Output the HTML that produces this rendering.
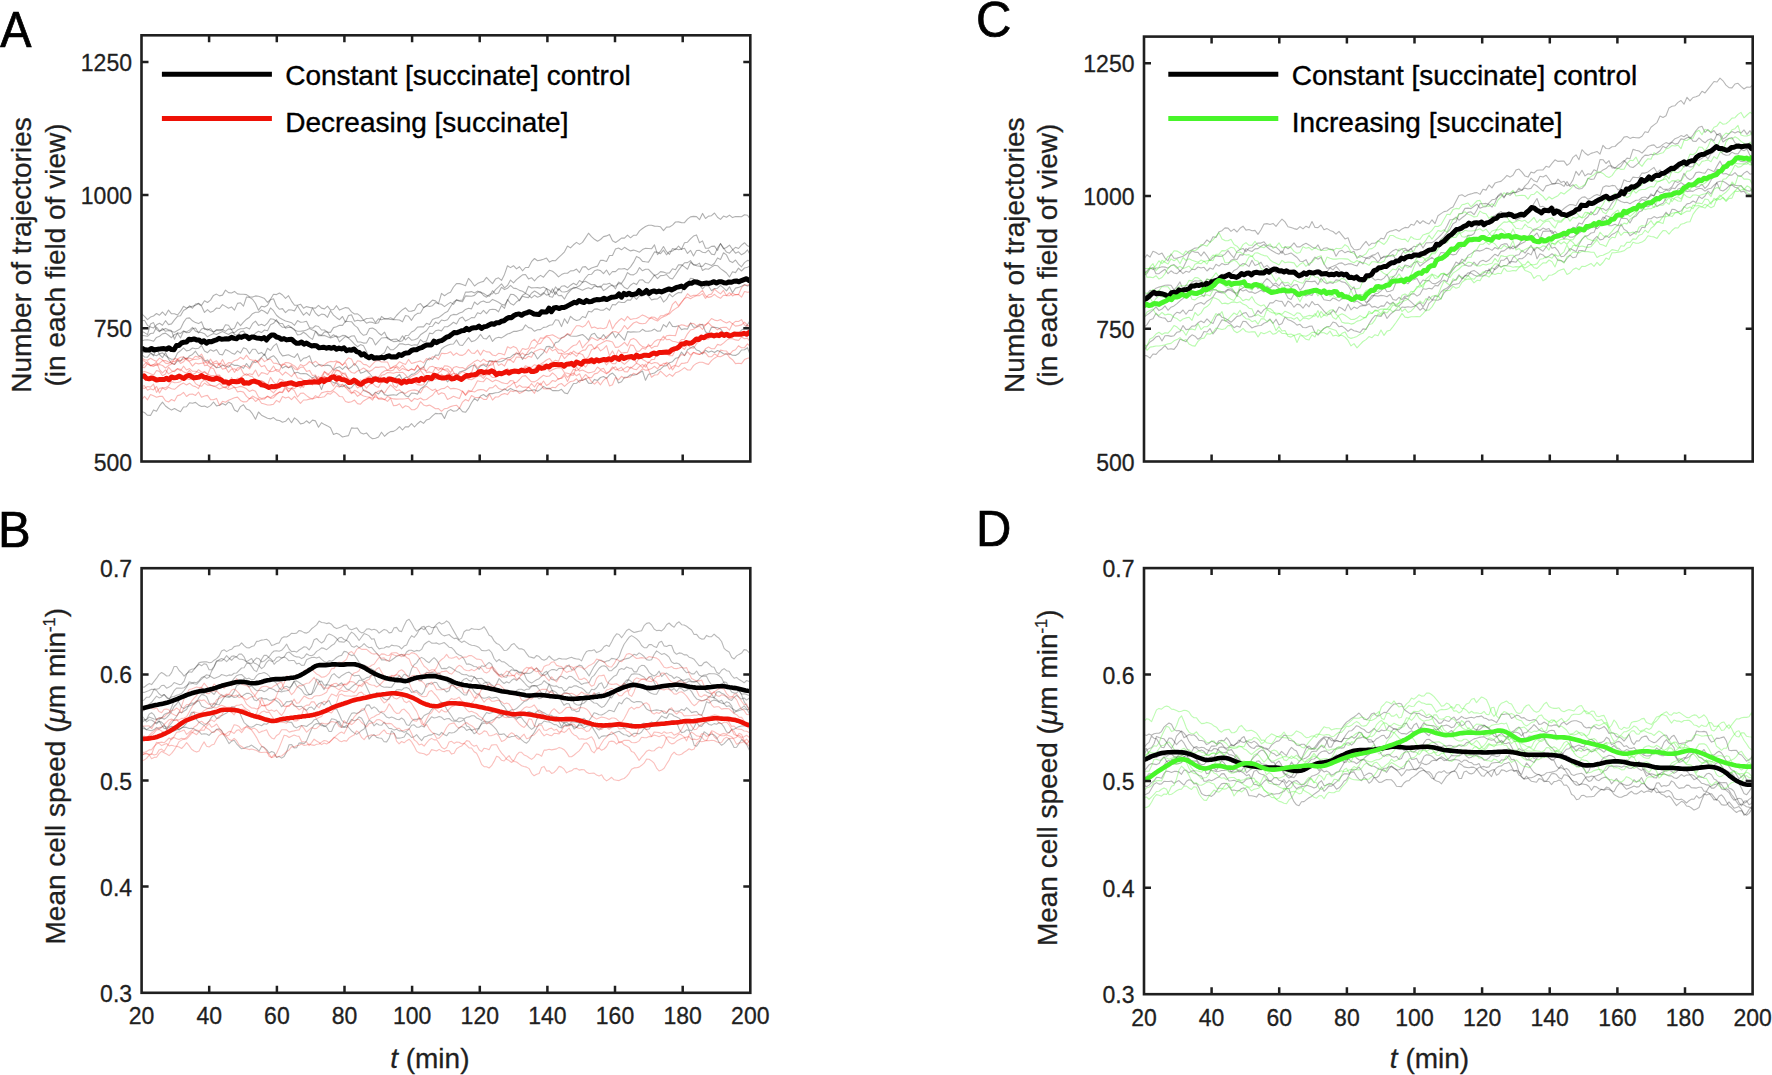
<!DOCTYPE html><html><head><meta charset="utf-8"><title>Figure</title><style>html,body{margin:0;padding:0;background:#fff;overflow:hidden;width:1772px;height:1075px;}svg{display:block;}</style></head><body>
<svg width="1772" height="1075" viewBox="0 0 1772 1075" font-family="'Liberation Sans', Arial, Helvetica, sans-serif"><style>.t{stroke:#1f1f1f;stroke-width:0.3px;}</style>
<rect width="1772" height="1075" fill="#fff"/>
<defs>
<clipPath id="clipA"><rect x="141.5" y="35.3" width="608.8" height="426.2"/></clipPath>
<clipPath id="clipB"><rect x="141.6" y="568.2" width="608.7" height="424.6"/></clipPath>
<clipPath id="clipC"><rect x="1144" y="36.6" width="608.7" height="424.9"/></clipPath>
<clipPath id="clipD"><rect x="1144" y="568.1" width="608.6" height="426.1"/></clipPath>
</defs>
<g clip-path="url(#clipA)">
<path d="M141.5 313.7L144.5 316.3L147.5 319.7L150.5 317.1L153.5 316L156.5 313.5L159.5 315.2L162.5 312L165.5 315.3L168.5 310.1L171.5 313.8L174.5 313.7L177.5 315L180.5 311.4L183.5 306.3L186.5 308.1L189.5 307.1L192.5 306.2L195.5 305.4L198.5 303.3L201.5 305.4L204.5 300.8L207.5 302.5L210.5 300.1L213.5 295.4L216.5 294.1L219.5 295.9L222.5 295.1L225.5 290.1L228.5 292.6L231.5 293L234.5 291.4L237.5 293.9L240.5 294.3L243.5 294.2L246.5 294.6L249.5 296.7L252.5 297.1L255.5 295.9L258.5 296.2L261.5 297.2L264.5 298.6L267.5 302.4L270.5 299.3L273.5 294.3L276.5 294.6L279.5 293L282.5 295L285.5 298.4L288.5 295.7L291.5 301.1L294.5 305.3L297.5 305.2L300.5 304.2L303.5 308.2L306.5 306.6L309.5 307.4L312.5 307.9L315.5 308.1L318.5 305.4L321.5 308.1L324.5 308.9L327.5 306.1L330.5 309.9L333.5 309.5L336.5 305.7L339.5 310.1L342.5 308.8L345.5 307.6L348.5 308.1L351.5 311.9L354.5 314L357.5 313.9L360.5 316.1L363.5 320.2L366.5 323.2L369.5 322L372.5 322.4L375.5 323.5L378.5 322.7L381.5 316.4L384.5 318.7L387.5 318.7L390.5 317.7L393.5 319.3L396.5 315.5L399.5 312.4L402.5 309.7L405.5 307.8L408.5 311.2L411.5 311.1L414.5 310.2L417.5 305L420.5 303.6L423.5 307.4L426.5 305.9L429.5 303L432.5 300.1L435.5 300.9L438.5 303.7L441.5 293.4L444.5 295.7L447.5 293.6L450.5 292.3L453.5 287L456.5 283.6L459.5 283.6L462.5 284.5L465.5 285.7L468.5 278.4L471.5 281.7L474.5 286L477.5 283.6L480.5 282.2L483.5 281.4L486.5 277.4L489.5 280.7L492.5 283.6L495.5 279.1L498.5 277.8L501.5 280.4L504.5 274.4L507.5 265.8L510.5 267.6L513.5 265.7L516.5 268.9L519.5 266.7L522.5 270.8L525.5 267.5L528.5 267.4L531.5 261.7L534.5 258.5L537.5 260.8L540.5 260.1L543.5 259.3L546.5 258.1L549.5 262.1L552.5 260.6L555.5 260.7L558.5 257.6L561.5 254.9L564.5 251.8L567.5 246L570.5 247.9L573.5 244.8L576.5 242.4L579.5 244.4L582.5 242.4L585.5 237.9L588.5 233.2L591.5 236.6L594.5 239.3L597.5 241.3L600.5 239.5L603.5 236.6L606.5 235.9L609.5 234.4L612.5 240.7L615.5 242.5L618.5 240.5L621.5 238.1L624.5 238.1L627.5 235.2L630.5 237.8L633.5 235.3L636.5 235.3L639.5 230.9L642.5 228.5L645.5 226.5L648.5 225.3L651.5 225.2L654.5 226.1L657.5 226.3L660.5 226.8L663.5 230.6L666.5 227.1L669.5 227L672.5 225.1L675.5 222L678.5 221.9L681.5 222.6L684.5 222.7L687.5 219.1L690.5 216.9L693.5 216.4L696.5 216.6L699.5 219.7L702.5 213.4L705.5 218.5L708.5 216.1L711.5 215.7L714.5 213L717.5 217.3L720.5 219.4L723.5 216.1L726.5 217.3L729.5 215.1L732.5 217.6L735.5 216.5L738.5 216.6L741.5 216.7L744.5 214.8L747.5 215.2L750.3 219.1" fill="none" stroke="#000" stroke-opacity="0.31" stroke-width="1.1" stroke-linejoin="round"/>
<path d="M141.5 321L144.5 320.3L147.5 325.4L150.5 326.9L153.5 328L156.5 324.8L159.5 323.2L162.5 325.3L165.5 320.7L168.5 324.6L171.5 323.9L174.5 319.9L177.5 316.3L180.5 315.8L183.5 310.5L186.5 308.8L189.5 305.8L192.5 308.2L195.5 304L198.5 303.7L201.5 306.1L204.5 312.4L207.5 309.6L210.5 312.3L213.5 310.9L216.5 308L219.5 308.5L222.5 304.6L225.5 306.4L228.5 308.2L231.5 306.9L234.5 310.1L237.5 303.4L240.5 302.8L243.5 306.1L246.5 297L249.5 297.4L252.5 299.3L255.5 303.5L258.5 310.2L261.5 306.2L264.5 306.9L267.5 305.3L270.5 299.7L273.5 298.8L276.5 306.2L279.5 309.3L282.5 308.6L285.5 312.6L288.5 309.8L291.5 310L294.5 310.9L297.5 305.8L300.5 310.6L303.5 315.1L306.5 312.4L309.5 315.4L312.5 307.9L315.5 313.2L318.5 316L321.5 314.1L324.5 314.5L327.5 317.3L330.5 310.7L333.5 315.1L336.5 317.7L339.5 319.7L342.5 316.5L345.5 322.2L348.5 315.6L351.5 314.7L354.5 321.3L357.5 320.2L360.5 320.9L363.5 320.2L366.5 318.5L369.5 318.3L372.5 318L375.5 322.7L378.5 318.8L381.5 319.8L384.5 318.7L387.5 319L390.5 319.5L393.5 319.6L396.5 319.7L399.5 320L402.5 321.8L405.5 315.5L408.5 316.3L411.5 320.3L414.5 315.5L417.5 313.4L420.5 313L423.5 307.7L426.5 305.6L429.5 306.5L432.5 305.7L435.5 302.6L438.5 303.7L441.5 304.3L444.5 306.6L447.5 304.4L450.5 302.4L453.5 304.4L456.5 299.9L459.5 301.2L462.5 301.7L465.5 295.9L468.5 296.1L471.5 296.3L474.5 295.4L477.5 292.3L480.5 291.7L483.5 295.5L486.5 297.2L489.5 294.3L492.5 293.8L495.5 289.6L498.5 286.8L501.5 283.8L504.5 287.9L507.5 285.4L510.5 280.1L513.5 282.9L516.5 279.6L519.5 277.3L522.5 274.9L525.5 274.5L528.5 278.9L531.5 277.7L534.5 280.9L537.5 277.5L540.5 275.4L543.5 277.2L546.5 273.3L549.5 270.2L552.5 271.3L555.5 273.6L558.5 276.9L561.5 274.6L564.5 273.2L567.5 273.2L570.5 270.9L573.5 270.8L576.5 269.1L579.5 272.6L582.5 267L585.5 266.6L588.5 269.8L591.5 268.1L594.5 267L597.5 266.1L600.5 260.3L603.5 260.4L606.5 261.5L609.5 255.5L612.5 255.5L615.5 249.1L618.5 248L621.5 249.8L624.5 247.3L627.5 249.3L630.5 250.9L633.5 250.1L636.5 251.1L639.5 252.2L642.5 249.6L645.5 248.2L648.5 248.5L651.5 248.8L654.5 244.8L657.5 254.7L660.5 251.2L663.5 246.5L666.5 251.7L669.5 254.3L672.5 248.6L675.5 249.6L678.5 246L681.5 249.3L684.5 242.8L687.5 242.2L690.5 238.8L693.5 236.1L696.5 234.9L699.5 242.7L702.5 240.9L705.5 248.3L708.5 248.2L711.5 246.4L714.5 246.1L717.5 250.5L720.5 243.4L723.5 248.7L726.5 247.5L729.5 245.1L732.5 249.3L735.5 253.2L738.5 251.8L741.5 254.8L744.5 253.1L747.5 249.9L750.3 254.9" fill="none" stroke="#000" stroke-opacity="0.31" stroke-width="1.1" stroke-linejoin="round"/>
<path d="M141.5 331.5L144.5 332.6L147.5 334.6L150.5 323.9L153.5 322.6L156.5 329.4L159.5 331.7L162.5 328.5L165.5 331.3L168.5 330.5L171.5 331.5L174.5 332.2L177.5 330.5L180.5 328.8L183.5 322.4L186.5 318.2L189.5 317.9L192.5 320.8L195.5 322.6L198.5 323.6L201.5 321.8L204.5 329.4L207.5 329L210.5 330.4L213.5 332.1L216.5 329.6L219.5 329.6L222.5 329.5L225.5 331.4L228.5 328.9L231.5 329.5L234.5 328.3L237.5 322L240.5 325.7L243.5 322.2L246.5 319.2L249.5 317.2L252.5 313.7L255.5 312.3L258.5 312.2L261.5 310L264.5 311.5L267.5 313.7L270.5 307.9L273.5 310.7L276.5 315.3L279.5 317.7L282.5 319.5L285.5 321L288.5 321.7L291.5 322.7L294.5 325.3L297.5 320.6L300.5 322.3L303.5 322L306.5 321.3L309.5 327.5L312.5 328.2L315.5 325.8L318.5 326.5L321.5 330L324.5 330L327.5 332.3L330.5 332.4L333.5 327.6L336.5 326.7L339.5 325.2L342.5 325.4L345.5 321.2L348.5 321.5L351.5 321.7L354.5 325.4L357.5 327.6L360.5 332.7L363.5 335.3L366.5 334.5L369.5 328.5L372.5 328.1L375.5 329.7L378.5 333L381.5 335.2L384.5 332.1L387.5 338.4L390.5 340L393.5 339.2L396.5 339L399.5 341.6L402.5 340.7L405.5 335.5L408.5 335.3L411.5 332L414.5 330.4L417.5 327.1L420.5 326.7L423.5 326.9L426.5 323.3L429.5 324.6L432.5 319.5L435.5 318.2L438.5 317.6L441.5 315.5L444.5 313.1L447.5 311.6L450.5 306.8L453.5 302.2L456.5 299.9L459.5 300.5L462.5 300.1L465.5 292.1L468.5 292.1L471.5 291.6L474.5 292.9L477.5 291.1L480.5 292.6L483.5 293.3L486.5 295.4L489.5 296.3L492.5 290.7L495.5 294L498.5 293L501.5 287.2L504.5 289.6L507.5 288.3L510.5 285.3L513.5 288.1L516.5 288.6L519.5 290.4L522.5 291.2L525.5 293.2L528.5 286.3L531.5 287.9L534.5 287.8L537.5 287.6L540.5 288.1L543.5 287.1L546.5 288.7L549.5 290.3L552.5 292.9L555.5 286.9L558.5 290.3L561.5 286.2L564.5 285.8L567.5 287.8L570.5 285.2L573.5 283.2L576.5 285L579.5 280.5L582.5 282.4L585.5 277.8L588.5 274.5L591.5 274.3L594.5 270.8L597.5 269.7L600.5 270.6L603.5 273.6L606.5 270L609.5 275L612.5 271.5L615.5 271.6L618.5 268.8L621.5 269L624.5 268.6L627.5 269.9L630.5 266.9L633.5 262.4L636.5 256.4L639.5 257.9L642.5 261.4L645.5 261.8L648.5 262.1L651.5 257.2L654.5 251.9L657.5 252.2L660.5 253.7L663.5 250.1L666.5 254.8L669.5 251.4L672.5 251L675.5 248.8L678.5 249.8L681.5 249.1L684.5 248.2L687.5 253.4L690.5 250.3L693.5 256L696.5 250.5L699.5 250.4L702.5 252.3L705.5 252.7L708.5 250.2L711.5 254.1L714.5 254.8L717.5 248L720.5 243.7L723.5 247.9L726.5 252.1L729.5 253.2L732.5 249.9L735.5 247.3L738.5 248.5L741.5 245.1L744.5 242.7L747.5 245.8L750.3 247.1" fill="none" stroke="#000" stroke-opacity="0.31" stroke-width="1.1" stroke-linejoin="round"/>
<path d="M141.5 335.4L144.5 335.8L147.5 336.3L150.5 333.5L153.5 333.1L156.5 327L159.5 330.9L162.5 329.9L165.5 328.4L168.5 329.8L171.5 330.6L174.5 339.2L177.5 332.7L180.5 333.5L183.5 330.8L186.5 332.7L189.5 332.4L192.5 328.8L195.5 328L198.5 333L201.5 329.1L204.5 328.1L207.5 330.2L210.5 328.5L213.5 332.2L216.5 330.2L219.5 330.8L222.5 329.9L225.5 324.7L228.5 325.3L231.5 329.8L234.5 334.4L237.5 335.4L240.5 331.8L243.5 331.1L246.5 335.1L249.5 335.6L252.5 336.6L255.5 333.2L258.5 331.3L261.5 332.6L264.5 330L267.5 330.8L270.5 324.8L273.5 323.3L276.5 319.7L279.5 324.7L282.5 327.3L285.5 327.2L288.5 325.4L291.5 327.8L294.5 330.1L297.5 331.2L300.5 331.3L303.5 330.9L306.5 329.9L309.5 328.5L312.5 330L315.5 331.2L318.5 334.2L321.5 335.2L324.5 331.8L327.5 332L330.5 337.1L333.5 334.7L336.5 336.9L339.5 337.1L342.5 335.4L345.5 335.6L348.5 337.8L351.5 336L354.5 335.9L357.5 342L360.5 342L363.5 343.1L366.5 343L369.5 337.5L372.5 338.9L375.5 344.9L378.5 341.3L381.5 338L384.5 337.7L387.5 337.4L390.5 339.9L393.5 341.6L396.5 341.4L399.5 340.3L402.5 335.9L405.5 339.9L408.5 337.2L411.5 340.2L414.5 339.8L417.5 338.6L420.5 334.8L423.5 332.7L426.5 330.7L429.5 326.5L432.5 326.3L435.5 322.1L438.5 323.7L441.5 320L444.5 320.7L447.5 319.8L450.5 315.6L453.5 314.4L456.5 314.8L459.5 313.1L462.5 312L465.5 309.4L468.5 308.3L471.5 308.9L474.5 302L477.5 304.6L480.5 302L483.5 300.9L486.5 302.5L489.5 302.1L492.5 299.4L495.5 300.7L498.5 302.2L501.5 304.3L504.5 305.1L507.5 300.5L510.5 294.4L513.5 294.5L516.5 296.7L519.5 300.8L522.5 296.3L525.5 297.1L528.5 297.6L531.5 293.2L534.5 291L537.5 292.8L540.5 295L543.5 292.6L546.5 295.1L549.5 294.3L552.5 288.8L555.5 294.5L558.5 288.5L561.5 291.7L564.5 292L567.5 291.3L570.5 289L573.5 288.5L576.5 287.2L579.5 285.8L582.5 282.3L585.5 281.3L588.5 283L591.5 284.8L594.5 284.5L597.5 287L600.5 286.1L603.5 290.6L606.5 288.7L609.5 286.3L612.5 285L615.5 288.9L618.5 282.1L621.5 283.4L624.5 278.9L627.5 272.6L630.5 274.8L633.5 274.9L636.5 272.9L639.5 267.6L642.5 270.8L645.5 269.3L648.5 269.3L651.5 272.5L654.5 275.5L657.5 274.3L660.5 271.6L663.5 272.1L666.5 273.2L669.5 272.9L672.5 268.8L675.5 269.7L678.5 264.9L681.5 264.7L684.5 266.9L687.5 269.2L690.5 262.2L693.5 264.5L696.5 265.7L699.5 266.3L702.5 266.4L705.5 263.2L708.5 264.2L711.5 265.6L714.5 263.2L717.5 257.9L720.5 259.5L723.5 252.8L726.5 254.9L729.5 260.9L732.5 262.6L735.5 260L738.5 264.1L741.5 266.8L744.5 262.6L747.5 260.4L750.3 260.8" fill="none" stroke="#000" stroke-opacity="0.31" stroke-width="1.1" stroke-linejoin="round"/>
<path d="M141.5 341L144.5 340L147.5 339.7L150.5 340.3L153.5 341.3L156.5 337.4L159.5 336.2L162.5 333.9L165.5 333.1L168.5 335.3L171.5 337.7L174.5 334.5L177.5 333.4L180.5 338L183.5 331.5L186.5 331.9L189.5 330.1L192.5 327.3L195.5 331.2L198.5 332.1L201.5 332.5L204.5 333.7L207.5 336.8L210.5 334.9L213.5 333.4L216.5 334.4L219.5 332.9L222.5 331.6L225.5 333.1L228.5 334.5L231.5 332.5L234.5 332.6L237.5 330.1L240.5 328.8L243.5 328.8L246.5 327.6L249.5 329.1L252.5 323.7L255.5 321.1L258.5 325.4L261.5 324.3L264.5 325.8L267.5 323.1L270.5 318.8L273.5 319.2L276.5 321.2L279.5 323.2L282.5 323.5L285.5 328.3L288.5 327.3L291.5 327.4L294.5 329.4L297.5 334.9L300.5 334.5L303.5 332.2L306.5 334.3L309.5 337.4L312.5 339.4L315.5 331.3L318.5 335.6L321.5 335.6L324.5 335.4L327.5 336.8L330.5 337.9L333.5 336.9L336.5 335.8L339.5 341.9L342.5 339.1L345.5 336.4L348.5 338.1L351.5 340.8L354.5 344.1L357.5 346.7L360.5 344.6L363.5 345.8L366.5 351.5L369.5 358.7L372.5 357.4L375.5 360.4L378.5 358.4L381.5 354.6L384.5 352.8L387.5 346.3L390.5 349.8L393.5 349.7L396.5 347.2L399.5 343.9L402.5 343.9L405.5 344.8L408.5 344.3L411.5 345.5L414.5 344.7L417.5 345.1L420.5 339.6L423.5 342.1L426.5 341L429.5 333.1L432.5 333.8L435.5 330.8L438.5 330L441.5 330.9L444.5 326.8L447.5 326.7L450.5 324.7L453.5 322.3L456.5 323.9L459.5 318.6L462.5 317.1L465.5 321.1L468.5 319.6L471.5 317.6L474.5 317.7L477.5 312.7L480.5 313.8L483.5 310.4L486.5 313.7L489.5 309.8L492.5 309.2L495.5 309.5L498.5 311.8L501.5 305.5L504.5 308.4L507.5 299.4L510.5 303.5L513.5 305.1L516.5 301.8L519.5 300L522.5 295.3L525.5 293.6L528.5 295.1L531.5 297.9L534.5 295.3L537.5 297.3L540.5 296L543.5 293.8L546.5 288.5L549.5 296.5L552.5 297.2L555.5 291.7L558.5 295.8L561.5 295.4L564.5 299.1L567.5 293.6L570.5 290.3L573.5 287.4L576.5 287.7L579.5 288.9L582.5 290.3L585.5 288.8L588.5 287.7L591.5 289L594.5 286L597.5 286.8L600.5 287.3L603.5 284L606.5 284.2L609.5 283.2L612.5 285.9L615.5 286.2L618.5 283.5L621.5 284.1L624.5 287.6L627.5 289L630.5 285.2L633.5 283.1L636.5 284.6L639.5 280L642.5 279.7L645.5 282.5L648.5 283L651.5 279.3L654.5 275.1L657.5 278.7L660.5 275.6L663.5 275.5L666.5 274.5L669.5 277.9L672.5 279L675.5 274.7L678.5 270.1L681.5 266.1L684.5 262.8L687.5 262.6L690.5 260.6L693.5 265L696.5 264.9L699.5 263.1L702.5 270.5L705.5 268.7L708.5 269.2L711.5 267.1L714.5 265.2L717.5 265.7L720.5 268.6L723.5 270.7L726.5 273L729.5 277L732.5 271.8L735.5 272.6L738.5 268.1L741.5 271L744.5 268L747.5 267.2L750.3 265.7" fill="none" stroke="#000" stroke-opacity="0.31" stroke-width="1.1" stroke-linejoin="round"/>
<path d="M141.5 354.3L144.5 357L147.5 357.2L150.5 353.3L153.5 354.8L156.5 355.7L159.5 353.8L162.5 352.9L165.5 355.5L168.5 357.8L171.5 359.2L174.5 359.3L177.5 353L180.5 350.8L183.5 347.8L186.5 350.9L189.5 350.3L192.5 348L195.5 348.8L198.5 348.3L201.5 345.5L204.5 351.1L207.5 352.7L210.5 349.7L213.5 351.3L216.5 349.5L219.5 354.3L222.5 354.9L225.5 349.5L228.5 350.9L231.5 352.9L234.5 354.3L237.5 350.9L240.5 353.1L243.5 347.8L246.5 349L249.5 353.7L252.5 349.2L255.5 349.3L258.5 353.7L261.5 352.4L264.5 355.3L267.5 348.3L270.5 350.5L273.5 346.1L276.5 343.6L279.5 351.9L282.5 355.9L285.5 355.4L288.5 354.7L291.5 356.3L294.5 357.4L297.5 353.6L300.5 361.3L303.5 358.3L306.5 357.6L309.5 355.8L312.5 363.9L315.5 366.8L318.5 364.6L321.5 365L324.5 365.8L327.5 365.1L330.5 365.9L333.5 370L336.5 367.8L339.5 366.7L342.5 369.3L345.5 366.3L348.5 369L351.5 366.8L354.5 363.5L357.5 366.8L360.5 373.1L363.5 372.3L366.5 370.6L369.5 373.5L372.5 377L375.5 377.4L378.5 377.4L381.5 380.4L384.5 380.1L387.5 383.4L390.5 377.7L393.5 379.7L396.5 376.9L399.5 374.3L402.5 380.1L405.5 377.5L408.5 377L411.5 374.4L414.5 373.7L417.5 371L420.5 368.3L423.5 367.7L426.5 360.9L429.5 358L432.5 359.5L435.5 355.1L438.5 355.3L441.5 349L444.5 346.7L447.5 345.3L450.5 344.3L453.5 344L456.5 339.9L459.5 345L462.5 345.5L465.5 341.5L468.5 337.6L471.5 341.6L474.5 340.8L477.5 338.3L480.5 334.4L483.5 338.5L486.5 338.9L489.5 335.3L492.5 341.4L495.5 338.2L498.5 337.2L501.5 337.9L504.5 336L507.5 334L510.5 333.1L513.5 331.4L516.5 331.4L519.5 330.5L522.5 329.6L525.5 324.9L528.5 327.6L531.5 328.3L534.5 331.3L537.5 329.7L540.5 329.6L543.5 327.4L546.5 327L549.5 325.3L552.5 324.7L555.5 319.7L558.5 320.2L561.5 326.6L564.5 318.7L567.5 323.4L570.5 316.3L573.5 319L576.5 320.5L579.5 319.8L582.5 316.5L585.5 317.7L588.5 311.2L591.5 312L594.5 309.1L597.5 308.9L600.5 310.2L603.5 310.1L606.5 308L609.5 310.3L612.5 304.5L615.5 304.9L618.5 301.8L621.5 302.5L624.5 302.5L627.5 299.9L630.5 300.2L633.5 296.4L636.5 299.3L639.5 295.7L642.5 296L645.5 293.7L648.5 296.1L651.5 299.9L654.5 299.1L657.5 298.9L660.5 296.5L663.5 302.1L666.5 299.4L669.5 294L672.5 296.8L675.5 294.2L678.5 292.6L681.5 292.7L684.5 285L687.5 283.6L690.5 278.3L693.5 278.9L696.5 284.7L699.5 285.1L702.5 288.9L705.5 285.6L708.5 286L711.5 290.7L714.5 288.5L717.5 288.2L720.5 285.4L723.5 287.9L726.5 290.8L729.5 286.8L732.5 292.7L735.5 288.1L738.5 287.4L741.5 286.3L744.5 284.7L747.5 286.1L750.3 285.2" fill="none" stroke="#000" stroke-opacity="0.31" stroke-width="1.1" stroke-linejoin="round"/>
<path d="M141.5 353.5L144.5 352.3L147.5 351.2L150.5 352.4L153.5 355.8L156.5 348.6L159.5 354.5L162.5 357.7L165.5 352.5L168.5 359L171.5 363.2L174.5 364.4L177.5 360.8L180.5 361.3L183.5 357L186.5 359.3L189.5 355.9L192.5 354.4L195.5 351.2L198.5 355.8L201.5 356.8L204.5 361.3L207.5 359.9L210.5 363.4L213.5 365.3L216.5 367.8L219.5 367.2L222.5 365.2L225.5 366L228.5 367.3L231.5 363.8L234.5 365.4L237.5 365.2L240.5 366.4L243.5 368.3L246.5 363.5L249.5 367.5L252.5 361.5L255.5 362.6L258.5 360.5L261.5 357.5L264.5 354.1L267.5 359.7L270.5 357.3L273.5 355.7L276.5 358.8L279.5 364L282.5 368.1L285.5 366.2L288.5 367.7L291.5 366.4L294.5 373.1L297.5 372.2L300.5 373.7L303.5 373.5L306.5 373.7L309.5 375.9L312.5 378.1L315.5 375.9L318.5 382.4L321.5 389.6L324.5 380.7L327.5 381.8L330.5 380.6L333.5 382.6L336.5 383.1L339.5 386.3L342.5 386.7L345.5 384.7L348.5 388.6L351.5 387.7L354.5 384L357.5 385.1L360.5 383.2L363.5 390.6L366.5 391.7L369.5 392.8L372.5 395.5L375.5 392.2L378.5 393.9L381.5 390.1L384.5 394.6L387.5 395.5L390.5 395.1L393.5 394.7L396.5 395.2L399.5 392.9L402.5 391.9L405.5 395.7L408.5 396.9L411.5 393.1L414.5 393.2L417.5 394.1L420.5 389L423.5 386.8L426.5 384.1L429.5 378.9L432.5 380.7L435.5 376.3L438.5 376.5L441.5 376.1L444.5 377.1L447.5 381.9L450.5 378.1L453.5 378.3L456.5 376.6L459.5 372L462.5 371L465.5 370.1L468.5 368L471.5 366L474.5 365.2L477.5 369.5L480.5 366L483.5 364.7L486.5 366.8L489.5 360.6L492.5 361.1L495.5 361.3L498.5 361.9L501.5 361.5L504.5 359.9L507.5 357.8L510.5 357.2L513.5 354.6L516.5 353.8L519.5 353.4L522.5 359.4L525.5 354.8L528.5 354.3L531.5 351.9L534.5 353.8L537.5 359L540.5 355.5L543.5 352.6L546.5 346.6L549.5 346.4L552.5 348.1L555.5 342.6L558.5 341.7L561.5 337.8L564.5 336.4L567.5 334.2L570.5 336L573.5 336.3L576.5 336.2L579.5 335.4L582.5 334.5L585.5 336.9L588.5 340.1L591.5 334.6L594.5 333.3L597.5 337.6L600.5 338.5L603.5 334.6L606.5 338.6L609.5 335.2L612.5 332.2L615.5 337.8L618.5 333.6L621.5 336.9L624.5 340.2L627.5 331.6L630.5 332.1L633.5 331.9L636.5 332L639.5 331.8L642.5 329.3L645.5 331.3L648.5 331.1L651.5 330.7L654.5 329.1L657.5 331.3L660.5 330.9L663.5 324.6L666.5 327L669.5 321.8L672.5 326.4L675.5 326.6L678.5 325.8L681.5 329.6L684.5 328.8L687.5 329.1L690.5 322.9L693.5 327.2L696.5 327L699.5 325.1L702.5 324.2L705.5 331.8L708.5 333.7L711.5 327.3L714.5 327.4L717.5 327.7L720.5 328.9L723.5 332.9L726.5 332.8L729.5 334.5L732.5 333.8L735.5 332.7L738.5 333.6L741.5 330L744.5 328.4L747.5 324.7L750.3 320.1" fill="none" stroke="#000" stroke-opacity="0.31" stroke-width="1.1" stroke-linejoin="round"/>
<path d="M141.5 411.5L144.5 412.5L147.5 415.3L150.5 415.4L153.5 409.9L156.5 411.2L159.5 405.9L162.5 402.1L165.5 406L168.5 408.3L171.5 410.1L174.5 408.6L177.5 410.2L180.5 411.7L183.5 407L186.5 406.8L189.5 402.7L192.5 403.2L195.5 402.4L198.5 404.9L201.5 406.5L204.5 406.1L207.5 407.4L210.5 405.6L213.5 402L216.5 405.9L219.5 405.3L222.5 403.6L225.5 405.1L228.5 402.1L231.5 403.8L234.5 410L237.5 411.8L240.5 406.6L243.5 404.7L246.5 409.1L249.5 410.2L252.5 413.9L255.5 419.2L258.5 412L261.5 415.2L264.5 416.7L267.5 418.2L270.5 418.9L273.5 417.6L276.5 420.1L279.5 420.5L282.5 422.2L285.5 421.3L288.5 418.2L291.5 422.7L294.5 417.9L297.5 420.1L300.5 423.9L303.5 423.3L306.5 420.8L309.5 423.2L312.5 420.1L315.5 420.9L318.5 427.2L321.5 422.7L324.5 424.6L327.5 425.9L330.5 427.8L333.5 434.5L336.5 433.3L339.5 434.6L342.5 437L345.5 436.3L348.5 435.6L351.5 427.9L354.5 428.2L357.5 428.1L360.5 432.7L363.5 434L366.5 432.9L369.5 436.6L372.5 438.7L375.5 438.3L378.5 437L381.5 432.2L384.5 436.3L387.5 433.5L390.5 431.6L393.5 431.4L396.5 429.6L399.5 426.6L402.5 430L405.5 426.7L408.5 426.9L411.5 423.6L414.5 427L417.5 423.7L420.5 421.3L423.5 423.4L426.5 419.9L429.5 418.9L432.5 415.9L435.5 413.4L438.5 413.7L441.5 413.4L444.5 418.5L447.5 411.4L450.5 409.6L453.5 411.3L456.5 410.8L459.5 408L462.5 411.6L465.5 412.3L468.5 408.4L471.5 402.8L474.5 398.4L477.5 400.9L480.5 396L483.5 394.5L486.5 396.7L489.5 393.5L492.5 393.6L495.5 392.7L498.5 392.5L501.5 391L504.5 388.8L507.5 390.7L510.5 388.4L513.5 389.9L516.5 391L519.5 391.2L522.5 391.3L525.5 390.1L528.5 390.9L531.5 390.4L534.5 389.7L537.5 391.3L540.5 389.4L543.5 386.4L546.5 388.4L549.5 388.2L552.5 390.6L555.5 390.6L558.5 390.8L561.5 389.3L564.5 392.9L567.5 393.7L570.5 388.5L573.5 383.5L576.5 383.3L579.5 380.3L582.5 380.4L585.5 378.6L588.5 383.1L591.5 383.5L594.5 379.4L597.5 380.5L600.5 377.5L603.5 376.5L606.5 378.3L609.5 374.8L612.5 373.1L615.5 376.1L618.5 383L621.5 381.7L624.5 377.2L627.5 377.1L630.5 374.8L633.5 375.1L636.5 374.5L639.5 372.7L642.5 371L645.5 380.3L648.5 374.3L651.5 373.8L654.5 373L657.5 370.6L660.5 369.2L663.5 366.3L666.5 365.6L669.5 362.7L672.5 361.7L675.5 358.3L678.5 357.6L681.5 352.1L684.5 355.7L687.5 349.8L690.5 348.1L693.5 346.3L696.5 350L699.5 351.1L702.5 354L705.5 350.1L708.5 352.3L711.5 351L714.5 352.5L717.5 350.5L720.5 351.8L723.5 353.8L726.5 354.2L729.5 353.7L732.5 355.2L735.5 355.4L738.5 353.8L741.5 350L744.5 349.8L747.5 347.7L750.3 355.1" fill="none" stroke="#000" stroke-opacity="0.31" stroke-width="1.1" stroke-linejoin="round"/>
<path d="M141.5 360L144.5 361.2L147.5 364.1L150.5 365.6L153.5 366.5L156.5 364.3L159.5 363.4L162.5 360.7L165.5 360.5L168.5 362L171.5 362.9L174.5 364.4L177.5 358.9L180.5 357.2L183.5 356.8L186.5 359.7L189.5 361.9L192.5 366.1L195.5 363L198.5 363.9L201.5 363.2L204.5 362.9L207.5 361.4L210.5 364.6L213.5 362.2L216.5 360.7L219.5 364.9L222.5 359.5L225.5 365.5L228.5 362.6L231.5 362.9L234.5 360.5L237.5 359.9L240.5 357.2L243.5 359.3L246.5 355.1L249.5 359.3L252.5 360.2L255.5 360.3L258.5 363.1L261.5 366.8L264.5 365.4L267.5 370.3L270.5 371.6L273.5 371.3L276.5 369.5L279.5 370.4L282.5 364L285.5 364.8L288.5 367.7L291.5 365L294.5 368.7L297.5 369.9L300.5 367.3L303.5 367.1L306.5 371.4L309.5 370.4L312.5 375.5L315.5 375L318.5 379.7L321.5 376.4L324.5 371.4L327.5 375.1L330.5 372.1L333.5 368.7L336.5 362.1L339.5 362.6L342.5 365.3L345.5 361.2L348.5 357.9L351.5 359L354.5 365.5L357.5 360.8L360.5 361.4L363.5 364.4L366.5 364.9L369.5 367.4L372.5 364.1L375.5 361.2L378.5 360.5L381.5 362L384.5 362L387.5 362L390.5 368.8L393.5 366.5L396.5 365L399.5 361.7L402.5 363.3L405.5 364.6L408.5 359.4L411.5 363.5L414.5 362.6L417.5 361.8L420.5 360.9L423.5 362.9L426.5 358.6L429.5 359.9L432.5 356.7L435.5 357L438.5 359.6L441.5 353.2L444.5 353.6L447.5 353.3L450.5 351.7L453.5 355.4L456.5 353L459.5 355.1L462.5 355.4L465.5 353.5L468.5 349.4L471.5 353L474.5 353.4L477.5 350.1L480.5 355.1L483.5 350.1L486.5 351.9L489.5 352L492.5 355L495.5 355.8L498.5 353.3L501.5 353.7L504.5 354.9L507.5 346.8L510.5 348.2L513.5 346.4L516.5 347.9L519.5 353.4L522.5 348.5L525.5 349.4L528.5 348.4L531.5 341.6L534.5 339.3L537.5 342.8L540.5 337.9L543.5 338.2L546.5 335.6L549.5 335.5L552.5 334.7L555.5 336.4L558.5 338.2L561.5 338.3L564.5 336.7L567.5 333.5L570.5 335L573.5 329.8L576.5 325.7L579.5 325.7L582.5 327.1L585.5 325.3L588.5 320.8L591.5 327.9L594.5 327L597.5 328.6L600.5 328L603.5 328.8L606.5 327.6L609.5 319.9L612.5 329L615.5 324L618.5 320.8L621.5 318.4L624.5 320.8L627.5 316.4L630.5 319.5L633.5 318.7L636.5 318.5L639.5 316.9L642.5 314.9L645.5 316.3L648.5 318.1L651.5 318.1L654.5 319.8L657.5 321L660.5 318.3L663.5 316.8L666.5 315.6L669.5 312.3L672.5 304.3L675.5 301.3L678.5 305.9L681.5 302L684.5 298.5L687.5 293.7L690.5 296.5L693.5 295.2L696.5 295.4L699.5 293.2L702.5 290.3L705.5 295.7L708.5 297.4L711.5 296.6L714.5 294.3L717.5 296.8L720.5 298.3L723.5 295.2L726.5 295.5L729.5 292.6L732.5 295.9L735.5 294.6L738.5 294.6L741.5 287.7L744.5 284.8L747.5 285.2L750.3 283.8" fill="none" stroke="#ee1106" stroke-opacity="0.3" stroke-width="1.1" stroke-linejoin="round"/>
<path d="M141.5 357.8L144.5 359.8L147.5 360.2L150.5 358.2L153.5 359.9L156.5 361.4L159.5 358.1L162.5 360L165.5 363.1L168.5 363.8L171.5 360.9L174.5 361.8L177.5 359.5L180.5 363.5L183.5 361.8L186.5 358L189.5 358.1L192.5 359.2L195.5 356.2L198.5 357.3L201.5 354L204.5 360L207.5 364.1L210.5 359.1L213.5 363.8L216.5 363.2L219.5 364.9L222.5 369.1L225.5 368.4L228.5 365L231.5 367.3L234.5 372.4L237.5 367.9L240.5 367.5L243.5 365.4L246.5 366.4L249.5 368.9L252.5 364L255.5 360.1L258.5 362.3L261.5 358L264.5 361.6L267.5 359.8L270.5 359L273.5 363.2L276.5 363.4L279.5 364.5L282.5 365.4L285.5 362.5L288.5 362.8L291.5 364.1L294.5 365.9L297.5 369L300.5 364.5L303.5 366L306.5 364.5L309.5 361.5L312.5 363.4L315.5 361.2L318.5 363.9L321.5 366.4L324.5 364.7L327.5 362.5L330.5 361.4L333.5 361.7L336.5 360.9L339.5 362.2L342.5 365.2L345.5 362.6L348.5 369.6L351.5 372.5L354.5 373.3L357.5 371L360.5 369.9L363.5 368L366.5 370L369.5 371.4L372.5 369.7L375.5 367.1L378.5 367.4L381.5 366.7L384.5 367L387.5 370.3L390.5 370.9L393.5 369.9L396.5 366L399.5 368.5L402.5 365.2L405.5 368.6L408.5 370.7L411.5 368.9L414.5 370.3L417.5 365.2L420.5 369.3L423.5 369.4L426.5 371L429.5 367L432.5 366.3L435.5 367.8L438.5 367.8L441.5 369.1L444.5 369.5L447.5 368.7L450.5 372.6L453.5 367.6L456.5 366.5L459.5 367.7L462.5 367.5L465.5 369.3L468.5 365.7L471.5 363.7L474.5 361.4L477.5 359.9L480.5 361.9L483.5 359.2L486.5 361.5L489.5 361.3L492.5 361.5L495.5 361.9L498.5 359.9L501.5 358.4L504.5 358.5L507.5 359.2L510.5 359.4L513.5 356.9L516.5 352.3L519.5 355.5L522.5 353L525.5 355.6L528.5 350.9L531.5 347.6L534.5 348.2L537.5 344L540.5 343.4L543.5 339L546.5 336.6L549.5 338.1L552.5 342.2L555.5 347.4L558.5 349.7L561.5 350L564.5 352.6L567.5 350.6L570.5 347.8L573.5 345.5L576.5 344.8L579.5 340.5L582.5 348L585.5 344.3L588.5 341.4L591.5 337.6L594.5 338.9L597.5 340.5L600.5 338.2L603.5 339.9L606.5 336.6L609.5 334.4L612.5 331.7L615.5 331.5L618.5 333L621.5 330.3L624.5 325.5L627.5 329.1L630.5 326L633.5 323L636.5 321.7L639.5 323.4L642.5 323.8L645.5 323.3L648.5 319.9L651.5 317L654.5 317.2L657.5 319.5L660.5 315.8L663.5 315.7L666.5 314.1L669.5 314L672.5 310.7L675.5 308.6L678.5 306.8L681.5 302.7L684.5 298.4L687.5 297.3L690.5 298.8L693.5 296.9L696.5 295.7L699.5 295.6L702.5 293.6L705.5 298.4L708.5 294.8L711.5 294.1L714.5 289L717.5 291.8L720.5 293.9L723.5 290.4L726.5 295.8L729.5 295.6L732.5 293.2L735.5 294.7L738.5 294.3L741.5 297.2L744.5 291.5L747.5 292.3L750.3 291.9" fill="none" stroke="#ee1106" stroke-opacity="0.3" stroke-width="1.1" stroke-linejoin="round"/>
<path d="M141.5 367.2L144.5 367.6L147.5 363.6L150.5 365.8L153.5 364.7L156.5 365.4L159.5 364.5L162.5 365.5L165.5 368L168.5 365.6L171.5 364L174.5 358.3L177.5 359.2L180.5 360.7L183.5 359.1L186.5 358.3L189.5 361.1L192.5 359.8L195.5 359.2L198.5 359L201.5 357.5L204.5 365.6L207.5 365.1L210.5 367.6L213.5 364.5L216.5 367.7L219.5 363.2L222.5 364.2L225.5 367.5L228.5 372.4L231.5 369.2L234.5 368.7L237.5 370.7L240.5 367.8L243.5 373.5L246.5 375.4L249.5 373.8L252.5 374.6L255.5 370L258.5 376.3L261.5 372.6L264.5 373.2L267.5 374.5L270.5 370.2L273.5 366L276.5 371L279.5 371.8L282.5 375.1L285.5 372L288.5 374.1L291.5 376.6L294.5 372.6L297.5 378L300.5 378.2L303.5 380.3L306.5 381.9L309.5 381.3L312.5 377.9L315.5 380.7L318.5 376.4L321.5 379.9L324.5 376.3L327.5 378.4L330.5 379.6L333.5 374.8L336.5 370.4L339.5 370.9L342.5 373.2L345.5 373.1L348.5 381.6L351.5 384.1L354.5 381.2L357.5 382.3L360.5 387.1L363.5 379.4L366.5 377.8L369.5 376.2L372.5 379.3L375.5 376.4L378.5 377.4L381.5 373L384.5 371L387.5 370.1L390.5 368.3L393.5 367.1L396.5 367.5L399.5 370.9L402.5 368.4L405.5 369.8L408.5 370.8L411.5 368.9L414.5 370.1L417.5 365.4L420.5 369.7L423.5 366.4L426.5 372.6L429.5 371.9L432.5 372.9L435.5 367.5L438.5 370.4L441.5 367.7L444.5 370.3L447.5 371.1L450.5 375.6L453.5 373.3L456.5 374L459.5 375.9L462.5 378.6L465.5 378.1L468.5 378.6L471.5 375.2L474.5 376.3L477.5 374.2L480.5 374.9L483.5 376L486.5 369L489.5 365.4L492.5 364.6L495.5 360.3L498.5 365.5L501.5 363.8L504.5 366.1L507.5 360.2L510.5 359.9L513.5 362.5L516.5 357.1L519.5 357L522.5 357.7L525.5 358.6L528.5 356.3L531.5 357.3L534.5 351.6L537.5 350.3L540.5 349L543.5 349.9L546.5 352.9L549.5 347.8L552.5 350.9L555.5 349.1L558.5 353.4L561.5 353.3L564.5 354.3L567.5 353.6L570.5 354.7L573.5 351L576.5 353.3L579.5 353.4L582.5 354.4L585.5 359.5L588.5 356.6L591.5 349.7L594.5 348.6L597.5 345.3L600.5 343.8L603.5 342.1L606.5 340.5L609.5 341.1L612.5 342.1L615.5 347.4L618.5 347.1L621.5 345L624.5 342.4L627.5 345.8L630.5 339.8L633.5 338.4L636.5 340.3L639.5 344.2L642.5 346.6L645.5 347.5L648.5 346.1L651.5 345.4L654.5 341.5L657.5 339.8L660.5 339.8L663.5 340L666.5 335.7L669.5 335.4L672.5 335.5L675.5 335.6L678.5 326L681.5 324.7L684.5 325.4L687.5 326.4L690.5 323.4L693.5 323.5L696.5 325.9L699.5 324.1L702.5 325L705.5 325.1L708.5 322L711.5 318.6L714.5 320.1L717.5 320.7L720.5 319.5L723.5 321.6L726.5 323L729.5 321.4L732.5 323.9L735.5 321.3L738.5 321.5L741.5 319.6L744.5 325.1L747.5 326.1L750.3 329.5" fill="none" stroke="#ee1106" stroke-opacity="0.3" stroke-width="1.1" stroke-linejoin="round"/>
<path d="M141.5 367.7L144.5 364.1L147.5 361.7L150.5 365.5L153.5 364.6L156.5 362.3L159.5 369.6L162.5 372.9L165.5 369.9L168.5 373.9L171.5 372.1L174.5 370.8L177.5 368.7L180.5 369.3L183.5 371.8L186.5 373.3L189.5 370.5L192.5 374.8L195.5 373.1L198.5 369.7L201.5 372L204.5 372.2L207.5 374.7L210.5 367.7L213.5 368.5L216.5 375L219.5 375L222.5 379.5L225.5 382.1L228.5 381.5L231.5 381.7L234.5 381.5L237.5 379.7L240.5 377.6L243.5 375.4L246.5 373.7L249.5 375.9L252.5 376.8L255.5 380.9L258.5 380.7L261.5 381L264.5 382.3L267.5 385.3L270.5 377.4L273.5 381.9L276.5 384.8L279.5 378.9L282.5 380L285.5 382.9L288.5 382.4L291.5 385.5L294.5 382.2L297.5 384.3L300.5 388L303.5 384.6L306.5 384.8L309.5 380.4L312.5 383L315.5 383.2L318.5 378.6L321.5 377.4L324.5 377.1L327.5 380.8L330.5 379.5L333.5 375.4L336.5 374.5L339.5 378.3L342.5 373.2L345.5 374.8L348.5 378.7L351.5 379.6L354.5 379.2L357.5 384.1L360.5 379.9L363.5 381.9L366.5 380L369.5 379.7L372.5 380.9L375.5 376.3L378.5 381.9L381.5 375.2L384.5 374.6L387.5 372.5L390.5 372.8L393.5 373.2L396.5 372.2L399.5 372.5L402.5 372.2L405.5 374.9L408.5 378.8L411.5 376.3L414.5 374.9L417.5 373.4L420.5 370.4L423.5 374.4L426.5 378.2L429.5 381.7L432.5 377.4L435.5 377.9L438.5 372.9L441.5 370.7L444.5 365.8L447.5 366.1L450.5 367.4L453.5 372L456.5 377L459.5 373.7L462.5 371.5L465.5 373L468.5 373.9L471.5 372.7L474.5 363.8L477.5 367.8L480.5 365.2L483.5 363.8L486.5 364.8L489.5 365.5L492.5 361.1L495.5 371.5L498.5 371.5L501.5 373.2L504.5 372.4L507.5 370L510.5 369.9L513.5 373.6L516.5 372.6L519.5 373.1L522.5 370.6L525.5 367.3L528.5 370.9L531.5 369.6L534.5 368.7L537.5 365.3L540.5 364.2L543.5 362.2L546.5 360L549.5 358.4L552.5 362.2L555.5 360.2L558.5 361.3L561.5 354.1L564.5 358.6L567.5 355.7L570.5 352.2L573.5 353.9L576.5 356.4L579.5 352.5L582.5 350.4L585.5 349.9L588.5 345.3L591.5 344.6L594.5 349L597.5 346.8L600.5 350.9L603.5 348.9L606.5 345.7L609.5 355.8L612.5 350.9L615.5 356.6L618.5 349.9L621.5 353.2L624.5 352.6L627.5 352.4L630.5 344.9L633.5 345.6L636.5 351.3L639.5 351.1L642.5 348L645.5 349.3L648.5 344.2L651.5 348.3L654.5 346.4L657.5 346.3L660.5 340L663.5 336.2L666.5 339.7L669.5 339.4L672.5 341.3L675.5 341.8L678.5 342.8L681.5 339.6L684.5 339.3L687.5 333.8L690.5 330L693.5 329.3L696.5 327.1L699.5 326.2L702.5 329.5L705.5 324.7L708.5 322.9L711.5 326L714.5 327.6L717.5 329.9L720.5 327.8L723.5 327.2L726.5 327.4L729.5 330.1L732.5 323.8L735.5 326.1L738.5 325.6L741.5 324.9L744.5 322.1L747.5 325.2L750.3 326.1" fill="none" stroke="#ee1106" stroke-opacity="0.3" stroke-width="1.1" stroke-linejoin="round"/>
<path d="M141.5 372.6L144.5 371.4L147.5 372.6L150.5 373.8L153.5 375.1L156.5 370.5L159.5 371.4L162.5 375.8L165.5 374L168.5 367.2L171.5 370.7L174.5 371.7L177.5 368.6L180.5 370.7L183.5 366.2L186.5 370L189.5 368.6L192.5 371.3L195.5 371.3L198.5 372.5L201.5 373.6L204.5 371.5L207.5 374L210.5 375.5L213.5 375.5L216.5 376.2L219.5 375.7L222.5 384.4L225.5 379.3L228.5 387.5L231.5 377.5L234.5 381.7L237.5 378.1L240.5 379.4L243.5 378.5L246.5 382.7L249.5 383L252.5 379.9L255.5 378.8L258.5 383.5L261.5 380.8L264.5 382.6L267.5 385.4L270.5 390.4L273.5 392.8L276.5 389.4L279.5 385L282.5 386L285.5 385.6L288.5 388.7L291.5 388.1L294.5 385.7L297.5 383.9L300.5 385.2L303.5 387.5L306.5 380.8L309.5 382.6L312.5 382.4L315.5 377.1L318.5 380.5L321.5 379.5L324.5 371.9L327.5 373.5L330.5 376.3L333.5 371.1L336.5 369.7L339.5 371.2L342.5 375.7L345.5 378.4L348.5 379.9L351.5 381.8L354.5 383.8L357.5 388L360.5 386L363.5 384.1L366.5 388.2L369.5 384.7L372.5 383.3L375.5 386.2L378.5 387.4L381.5 382.3L384.5 382L387.5 376.7L390.5 377.3L393.5 385.8L396.5 387.4L399.5 381.8L402.5 383.7L405.5 382.7L408.5 383.5L411.5 383.5L414.5 382.2L417.5 384.6L420.5 385.1L423.5 384.8L426.5 379.1L429.5 378.3L432.5 379.4L435.5 379.4L438.5 378L441.5 374.2L444.5 376.8L447.5 374.1L450.5 373.7L453.5 376.8L456.5 373.9L459.5 376.6L462.5 378.3L465.5 376.3L468.5 379.3L471.5 379.7L474.5 378L477.5 376.2L480.5 375.8L483.5 378.4L486.5 374.5L489.5 374.8L492.5 377.5L495.5 377.4L498.5 371.4L501.5 374.4L504.5 372.6L507.5 368.4L510.5 372.9L513.5 371.6L516.5 370.4L519.5 369.3L522.5 369.4L525.5 365.7L528.5 367L531.5 367.4L534.5 364.7L537.5 365.7L540.5 365.8L543.5 364.2L546.5 367.4L549.5 371.4L552.5 369.7L555.5 368.4L558.5 367.8L561.5 368L564.5 372.7L567.5 373.2L570.5 374.2L573.5 369.1L576.5 370.7L579.5 368.9L582.5 364L585.5 367.2L588.5 363L591.5 363.7L594.5 359.6L597.5 361.7L600.5 361L603.5 360.8L606.5 365L609.5 361.5L612.5 363.6L615.5 363.8L618.5 358.6L621.5 362L624.5 364.4L627.5 361.7L630.5 358.6L633.5 357.9L636.5 363.1L639.5 356.5L642.5 359.4L645.5 361.1L648.5 363L651.5 359.6L654.5 359.2L657.5 351.2L660.5 353.5L663.5 354.5L666.5 353.9L669.5 355.7L672.5 355.7L675.5 349.6L678.5 349.7L681.5 346.8L684.5 349.5L687.5 343.9L690.5 347.8L693.5 348.2L696.5 343.7L699.5 341.2L702.5 337.3L705.5 339L708.5 338.9L711.5 336.3L714.5 336.2L717.5 334.3L720.5 332.5L723.5 335.3L726.5 332.9L729.5 332.6L732.5 335.8L735.5 334.9L738.5 335.7L741.5 332.5L744.5 333.7L747.5 331.5L750.3 328.2" fill="none" stroke="#ee1106" stroke-opacity="0.3" stroke-width="1.1" stroke-linejoin="round"/>
<path d="M141.5 387.8L144.5 388.4L147.5 386.5L150.5 387.1L153.5 384.2L156.5 392.4L159.5 388.2L162.5 387.9L165.5 389.7L168.5 387.3L171.5 388.7L174.5 389.3L177.5 386.8L180.5 384.5L183.5 383.1L186.5 385L189.5 383.2L192.5 385.7L195.5 386.6L198.5 388.6L201.5 382.1L204.5 379.7L207.5 382.5L210.5 385.2L213.5 386.3L216.5 385.8L219.5 383.4L222.5 386.5L225.5 388L228.5 383.1L231.5 384.9L234.5 387.7L237.5 387.2L240.5 386.4L243.5 387.3L246.5 388.8L249.5 391.5L252.5 390L255.5 391.2L258.5 396.9L261.5 398.6L264.5 397.9L267.5 396.6L270.5 397.6L273.5 395.4L276.5 393.7L279.5 392.2L282.5 392L285.5 385.9L288.5 392L291.5 388.3L294.5 388.7L297.5 385.8L300.5 386.5L303.5 383.1L306.5 383.2L309.5 378.9L312.5 385L315.5 379.2L318.5 384.1L321.5 379.7L324.5 377.3L327.5 379L330.5 381.6L333.5 386.1L336.5 381.8L339.5 384.6L342.5 385.1L345.5 387.3L348.5 390.7L351.5 393.6L354.5 390.3L357.5 391.8L360.5 394L363.5 389.8L366.5 391L369.5 393.5L372.5 396.3L375.5 392.9L378.5 391L381.5 390.8L384.5 393.1L387.5 388.5L390.5 384.9L393.5 387.6L396.5 390.7L399.5 389.8L402.5 392.8L405.5 393.4L408.5 391.2L411.5 390.3L414.5 389.9L417.5 390.6L420.5 393L423.5 387.7L426.5 386.3L429.5 388.6L432.5 390.5L435.5 389.1L438.5 394.5L441.5 392.7L444.5 393.8L447.5 399.4L450.5 397.9L453.5 396.2L456.5 397.4L459.5 398.5L462.5 391L465.5 395.4L468.5 391.9L471.5 391.3L474.5 386.5L477.5 380.7L480.5 381.5L483.5 381.7L486.5 377.9L489.5 379.8L492.5 381.7L495.5 380.1L498.5 381.1L501.5 382.6L504.5 383.3L507.5 383.7L510.5 380.5L513.5 381L516.5 387.7L519.5 385.3L522.5 387.2L525.5 387L528.5 387.5L531.5 383.5L534.5 387L537.5 382.5L540.5 385.2L543.5 381L546.5 385.5L549.5 383.7L552.5 380.5L555.5 381.4L558.5 378.5L561.5 378.5L564.5 375.6L567.5 381.4L570.5 374.9L573.5 375.3L576.5 366.8L579.5 371.1L582.5 370.1L585.5 371.5L588.5 372.9L591.5 372.3L594.5 371.5L597.5 367L600.5 369.5L603.5 368.2L606.5 373.2L609.5 371.1L612.5 366.8L615.5 369.9L618.5 369.1L621.5 367.2L624.5 371.8L627.5 371.9L630.5 367.1L633.5 369L636.5 369.7L639.5 366.4L642.5 364.4L645.5 367.2L648.5 362.1L651.5 363.7L654.5 362.5L657.5 363L660.5 365.8L663.5 363.3L666.5 363.6L669.5 369.2L672.5 366.4L675.5 365L678.5 357.8L681.5 354.4L684.5 355.5L687.5 351.8L690.5 355L693.5 352.5L696.5 354L699.5 354.4L702.5 352.9L705.5 348.8L708.5 347L711.5 348.7L714.5 348.8L717.5 344.4L720.5 345.3L723.5 343.1L726.5 340.4L729.5 338.4L732.5 338.8L735.5 339.9L738.5 340.4L741.5 337.1L744.5 338.7L747.5 338.1L750.3 342.1" fill="none" stroke="#ee1106" stroke-opacity="0.3" stroke-width="1.1" stroke-linejoin="round"/>
<path d="M141.5 386.3L144.5 385.8L147.5 390.3L150.5 388.8L153.5 389.9L156.5 386.3L159.5 393L162.5 387.9L165.5 387.7L168.5 385.9L171.5 381.6L174.5 382.8L177.5 382.5L180.5 381.7L183.5 378.6L186.5 378.8L189.5 379.4L192.5 378.4L195.5 383.6L198.5 385.5L201.5 386.3L204.5 383L207.5 385.1L210.5 385.1L213.5 386.1L216.5 387.2L219.5 389L222.5 387.7L225.5 386.9L228.5 389.5L231.5 388.4L234.5 387L237.5 391.9L240.5 391.2L243.5 392.1L246.5 396.4L249.5 398.9L252.5 396.1L255.5 397.7L258.5 399L261.5 399.3L264.5 399L267.5 396L270.5 398.4L273.5 397.7L276.5 394.5L279.5 391.9L282.5 392.6L285.5 388.2L288.5 391.6L291.5 388.5L294.5 390.9L297.5 397L300.5 393.3L303.5 393.1L306.5 395.6L309.5 397.8L312.5 399L315.5 397.7L318.5 397L321.5 392.9L324.5 392L327.5 391.4L330.5 391.7L333.5 389.8L336.5 385.7L339.5 387.3L342.5 384.1L345.5 387.2L348.5 387.3L351.5 392.8L354.5 392.4L357.5 396.3L360.5 394.3L363.5 396L366.5 396.7L369.5 397.1L372.5 398.3L375.5 396.7L378.5 398.5L381.5 397.9L384.5 399.8L387.5 396.3L390.5 397.9L393.5 398.9L396.5 399.1L399.5 399L402.5 399L405.5 398.8L408.5 398.3L411.5 401.5L414.5 398.4L417.5 399.4L420.5 398L423.5 400L426.5 399.5L429.5 397.1L432.5 395.3L435.5 391.2L438.5 390.2L441.5 388.8L444.5 388.4L447.5 386.1L450.5 388.9L453.5 388.4L456.5 388.8L459.5 389.8L462.5 391.4L465.5 394.8L468.5 390.4L471.5 391.3L474.5 392L477.5 390.1L480.5 389.6L483.5 389.7L486.5 391.4L489.5 387.9L492.5 387.8L495.5 385.2L498.5 388.4L501.5 389.6L504.5 389.8L507.5 387.1L510.5 385.4L513.5 382.9L516.5 382.3L519.5 379.5L522.5 376.2L525.5 375.6L528.5 378.9L531.5 381.8L534.5 381.9L537.5 380.1L540.5 377.5L543.5 375.3L546.5 376.4L549.5 376L552.5 372.8L555.5 375.3L558.5 379.5L561.5 377.5L564.5 373.7L567.5 377.3L570.5 374.5L573.5 373L576.5 375.8L579.5 373.8L582.5 380.5L585.5 379.1L588.5 377.4L591.5 377.7L594.5 373.9L597.5 373.1L600.5 370.2L603.5 371.8L606.5 373.9L609.5 371.7L612.5 368.5L615.5 366.7L618.5 370.8L621.5 370.5L624.5 368.4L627.5 366.5L630.5 368.2L633.5 366L636.5 363.2L639.5 364.8L642.5 367.6L645.5 364.2L648.5 369.8L651.5 368.6L654.5 366.3L657.5 368.8L660.5 365.1L663.5 365.8L666.5 362.3L669.5 363.9L672.5 369.9L675.5 365.6L678.5 366.8L681.5 363.4L684.5 363.1L687.5 362.5L690.5 356.9L693.5 352.3L696.5 353.3L699.5 354.5L702.5 352.4L705.5 352.9L708.5 356.7L711.5 356.8L714.5 353.9L717.5 355.7L720.5 350.1L723.5 350.8L726.5 351L729.5 354.7L732.5 351.1L735.5 349.8L738.5 345.7L741.5 347.8L744.5 347.6L747.5 343.9L750.3 346.6" fill="none" stroke="#ee1106" stroke-opacity="0.3" stroke-width="1.1" stroke-linejoin="round"/>
<path d="M141.5 399.9L144.5 396.4L147.5 399.8L150.5 394.5L153.5 395.8L156.5 397.2L159.5 396.4L162.5 396.4L165.5 400.8L168.5 402L171.5 399.5L174.5 401L177.5 395.6L180.5 394.9L183.5 392.3L186.5 396.5L189.5 394.2L192.5 394L195.5 395.4L198.5 392L201.5 397.3L204.5 396L207.5 395.4L210.5 399.6L213.5 399.8L216.5 398.4L219.5 405.3L222.5 401.3L225.5 402.3L228.5 400.2L231.5 399L234.5 397.7L237.5 397.1L240.5 400.4L243.5 401.9L246.5 401.8L249.5 398.6L252.5 397.9L255.5 401.5L258.5 399L261.5 403.2L264.5 404L267.5 405L270.5 404.9L273.5 404.2L276.5 400.4L279.5 402.2L282.5 396.6L285.5 398.1L288.5 397L291.5 399.6L294.5 396.3L297.5 399.9L300.5 403.4L303.5 400L306.5 400L309.5 399.1L312.5 398.8L315.5 395.6L318.5 397.6L321.5 397.3L324.5 396.7L327.5 393.4L330.5 394.2L333.5 391.3L336.5 393.4L339.5 396.5L342.5 396.8L345.5 401.5L348.5 402.4L351.5 401.7L354.5 400.1L357.5 403.6L360.5 404.2L363.5 400.9L366.5 399.2L369.5 397.5L372.5 400.2L375.5 394.4L378.5 399.1L381.5 399L384.5 399.2L387.5 401.4L390.5 398.1L393.5 405.7L396.5 405.4L399.5 403.7L402.5 408L405.5 405.8L408.5 406.7L411.5 409.7L414.5 409.8L417.5 407.6L420.5 401.7L423.5 404.9L426.5 405.9L429.5 405.1L432.5 406.7L435.5 408.7L438.5 408.6L441.5 411.3L444.5 408.7L447.5 408.3L450.5 406.6L453.5 405.8L456.5 405.2L459.5 408.3L462.5 402.1L465.5 399.5L468.5 401.1L471.5 395.6L474.5 397.2L477.5 397.6L480.5 397.3L483.5 399.4L486.5 399.5L489.5 394.3L492.5 400.1L495.5 397L498.5 396.9L501.5 394.5L504.5 393.6L507.5 394.6L510.5 390.8L513.5 391.6L516.5 390.3L519.5 393.5L522.5 392.1L525.5 390.1L528.5 386.9L531.5 389.8L534.5 393.3L537.5 386.4L540.5 383.1L543.5 388.8L546.5 388.9L549.5 389L552.5 387.2L555.5 387.7L558.5 384.6L561.5 383.5L564.5 386.3L567.5 383.6L570.5 381.5L573.5 381L576.5 378.8L579.5 382.3L582.5 378.5L585.5 374.5L588.5 377.3L591.5 381.6L594.5 384.1L597.5 381.3L600.5 384.8L603.5 380.3L606.5 377.7L609.5 385.9L612.5 384.7L615.5 377.4L618.5 379.8L621.5 376.3L624.5 378.2L627.5 377.3L630.5 376.9L633.5 373.2L636.5 374.6L639.5 372L642.5 368.8L645.5 370.3L648.5 369.9L651.5 377.3L654.5 375L657.5 374.8L660.5 371.2L663.5 373.8L666.5 376.6L669.5 374.1L672.5 376.3L675.5 372.8L678.5 371.8L681.5 369.9L684.5 367.6L687.5 370L690.5 370L693.5 365.6L696.5 363.4L699.5 362.3L702.5 362.3L705.5 363.6L708.5 364.4L711.5 360.7L714.5 358.2L717.5 356.4L720.5 356.8L723.5 355.3L726.5 353.1L729.5 357.5L732.5 359.7L735.5 363.6L738.5 363.3L741.5 363.6L744.5 359.6L747.5 358.2L750.3 357.7" fill="none" stroke="#ee1106" stroke-opacity="0.3" stroke-width="1.1" stroke-linejoin="round"/>
<path d="M141.5 347.8L144 349.3L146.5 350L149 350L151.5 348.5L154 350L156.5 349.4L159 349.1L161.5 348.7L164 348.6L166.5 349.2L169 347.8L171.5 349.6L174 349.7L176.5 345.4L179 345.4L181.5 343L184 342.2L186.5 342L189 339.3L191.5 339.7L194 338.9L196.5 339.9L199 339.9L201.5 342.3L204 340.7L206.5 343.1L209 341.4L211.5 341.7L214 340.6L216.5 339.8L219 338.3L221.5 339.3L224 339.1L226.5 338.8L229 338.9L231.5 337.3L234 338.4L236.5 338.8L239 336.8L241.5 337.4L244 336.1L246.5 336.3L249 338.6L251.5 337L254 337.1L256.5 338L259 338.2L261.5 338.9L264 337.6L266.5 340L269 337L271.5 335.1L274 335L276.5 337L279 337.7L281.5 339.3L284 338.6L286.5 339.9L289 339.5L291.5 339.2L294 341.4L296.5 343.3L299 343.3L301.5 342L304 344.1L306.5 343L309 344.6L311.5 345.9L314 345.6L316.5 345.7L319 347.7L321.5 347.5L324 347.2L326.5 348.2L329 347.5L331.5 348.3L334 347.3L336.5 349.2L339 348.1L341.5 349L344 347.9L346.5 350.7L349 349.7L351.5 350.3L354 349L356.5 351.6L359 352.3L361.5 355L364 353.8L366.5 356.4L369 357.7L371.5 356.3L374 358.2L376.5 357.7L379 358L381.5 357.3L384 357.9L386.5 356.7L389 355.8L391.5 357.1L394 356.8L396.5 357L399 354.6L401.5 355.5L404 353.7L406.5 352.9L409 352.7L411.5 350.5L414 349.7L416.5 349.8L419 348.4L421.5 347.7L424 346.3L426.5 345.1L429 344.9L431.5 344.9L434 341.1L436.5 342.8L439 341.1L441.5 340.6L444 339.1L446.5 337.2L449 336.5L451.5 334.6L454 332.6L456.5 332.8L459 331.9L461.5 330.7L464 330.5L466.5 328.3L469 330L471.5 328.3L474 327.8L476.5 327.8L479 326.1L481.5 328.5L484 326.8L486.5 326.4L489 325L491.5 323.7L494 324.3L496.5 322.7L499 322.7L501.5 321.3L504 320.8L506.5 318.8L509 317.4L511.5 317.7L514 315.5L516.5 314.4L519 313.9L521.5 315.3L524 313.7L526.5 312.9L529 311.7L531.5 312.6L534 314L536.5 314.3L539 314.6L541.5 311.8L544 312.1L546.5 312.1L549 308.2L551.5 311.7L554 308L556.5 307.4L559 308.6L561.5 307.5L564 307.6L566.5 306.4L569 305.1L571.5 303.8L574 302.3L576.5 302.9L579 300.5L581.5 301.8L584 302.5L586.5 300.4L589 301.8L591.5 301.5L594 300.2L596.5 299.6L599 299.8L601.5 299.4L604 298.2L606.5 299.6L609 298.5L611.5 297.3L614 297L616.5 296.6L619 294L621.5 297.2L624 293.4L626.5 294.7L629 293.3L631.5 294.7L634 294.3L636.5 293.8L639 290.7L641.5 293.7L644 292.9L646.5 290.5L649 293.4L651.5 291.6L654 290.9L656.5 292L659 291.1L661.5 291.9L664 290.9L666.5 289.8L669 288.9L671.5 290L674 288.8L676.5 287.4L679 286.9L681.5 286L684 287.6L686.5 284.8L689 283.3L691.5 283.3L694 281.8L696.5 281.9L699 282.9L701.5 284L704 283.4L706.5 283.1L709 283.4L711.5 282.6L714 281.7L716.5 283.1L719 281.8L721.5 281.7L724 282.8L726.5 283L729 281.9L731.5 282.2L734 281.2L736.5 280.9L739 281.8L741.5 280.6L744 279.6L746.5 278.7L749 280.6L750.3 279.1" fill="none" stroke="#000" stroke-width="5.0" stroke-linejoin="round" stroke-linecap="butt"/>
<path d="M141.5 376.7L144 375.8L146.5 378.4L149 378.8L151.5 378L154 378.7L156.5 380L159 379.6L161.5 379.4L164 379.6L166.5 378.3L169 379.7L171.5 377L174 377.8L176.5 377.5L179 376.1L181.5 377.3L184 378.4L186.5 376.2L189 375.2L191.5 376.7L194 377.9L196.5 377.5L199 377.1L201.5 375.6L204 377.3L206.5 377.5L209 378.5L211.5 379.2L214 379.3L216.5 378.1L219 379L221.5 380.1L224 382.1L226.5 381.9L229 383.2L231.5 381.4L234 381.4L236.5 381.7L239 381.4L241.5 379.8L244 383.3L246.5 382.8L249 383.3L251.5 381.6L254 381.1L256.5 381.8L259 382.6L261.5 384.8L264 385.2L266.5 386.2L269 387.4L271.5 386.5L274 386.7L276.5 386.2L279 385.8L281.5 384L284 384.4L286.5 383.8L289 383.1L291.5 382.7L294 383.9L296.5 384.6L299 383.5L301.5 383.5L304 382.5L306.5 382.6L309 382.3L311.5 382.2L314 381.7L316.5 382.1L319 382.3L321.5 379.7L324 381.6L326.5 379.7L329 379.5L331.5 377.4L334 376.8L336.5 379.3L339 377.7L341.5 379.6L344 379.8L346.5 380.8L349 382.6L351.5 382.2L354 380.1L356.5 381.7L359 383.7L361.5 384.2L364 381.9L366.5 381L369 379.9L371.5 381.4L374 379L376.5 379.3L379 380.3L381.5 380.1L384 379.6L386.5 380.9L389 379L391.5 379.3L394 380.2L396.5 380.9L399 380.8L401.5 383.1L404 381L406.5 382.3L409 381L411.5 381.5L414 380.4L416.5 379.6L419 380.6L421.5 378.3L424 379.9L426.5 377.6L429 377.6L431.5 378.8L434 375.3L436.5 375.9L439 377.4L441.5 377.9L444 378.1L446.5 377.5L449 376.8L451.5 378.9L454 378.6L456.5 377.1L459 378.2L461.5 379.4L464 377.3L466.5 375.6L469 375.8L471.5 374.9L474 374.7L476.5 374.2L479 371.7L481.5 371.5L484 372.6L486.5 371.9L489 372.4L491.5 370.7L494 372L496.5 374.7L499 373.2L501.5 373.7L504 372.7L506.5 371.5L509 373.1L511.5 371.7L514 371.1L516.5 371.3L519 371.7L521.5 370.1L524 370.9L526.5 370.7L529 369.4L531.5 371.6L534 371.4L536.5 370.6L539 367.1L541.5 368.4L544 367.9L546.5 366L549 367L551.5 364.9L554 364.6L556.5 364.6L559 364.7L561.5 364.4L564 366.2L566.5 364.2L569 364.1L571.5 363.3L574 365.3L576.5 362L579 363.1L581.5 364.1L584 361.2L586.5 361.2L589 361.2L591.5 359.9L594 361.7L596.5 359.8L599 360.9L601.5 360.1L604 359.4L606.5 360L609 358.7L611.5 359.7L614 357.4L616.5 357.8L619 359.4L621.5 356.3L624 358.5L626.5 357.4L629 356.9L631.5 356.5L634 358L636.5 355.1L639 356.9L641.5 356.3L644 355.2L646.5 355.2L649 355.6L651.5 354.1L654 352.9L656.5 354.1L659 352.6L661.5 352.6L664 352.3L666.5 352.1L669 352.3L671.5 350.1L674 348.9L676.5 348.4L679 346.8L681.5 343.9L684 344L686.5 342.5L689 343.4L691.5 343L694 341.2L696.5 339L699 339.6L701.5 337.1L704 337.7L706.5 336L709 335.4L711.5 335L714 335.9L716.5 335L719 335.7L721.5 333.9L724 335.4L726.5 334.2L729 335.8L731.5 335.4L734 334.1L736.5 334.2L739 334.2L741.5 334.2L744 333.3L746.5 334.3L749 332.7L750.3 331.4" fill="none" stroke="#ee1106" stroke-width="5.0" stroke-linejoin="round" stroke-linecap="butt"/>
</g>
<g clip-path="url(#clipB)">
<path d="M141.6 686.7L144.1 687.2L146.6 685.3L149.1 683.6L151.6 684.6L154.1 681.3L156.6 678.2L159.1 674.4L161.6 672.5L164.1 674L166.6 676L169.1 675.8L171.6 672.6L174.1 666.5L176.6 666.5L179.1 670.5L181.6 672.9L184.1 676.2L186.6 673.6L189.1 671.8L191.6 672.3L194.1 669.4L196.6 666.4L199.1 662.6L201.6 662.1L204.1 661.9L206.6 661.8L209.1 662.7L211.6 662.4L214.1 660.2L216.6 658.6L219.1 656L221.6 651L224.1 649.8L226.6 651.6L229.1 650.1L231.6 649.3L234.1 646.6L236.6 646L239.1 645.6L241.6 642.9L244.1 645.6L246.6 647.7L249.1 647.9L251.6 646.5L254.1 645.7L256.6 641.4L259.1 641.1L261.6 640.1L264.1 639.7L266.6 639.2L269.1 641.1L271.6 645.6L274.1 644.7L276.6 643.5L279.1 642.9L281.6 638.3L284.1 636.8L286.6 637L289.1 635.6L291.6 633.2L294.1 633.5L296.6 633.1L299.1 630.5L301.6 631.1L304.1 632.6L306.6 633.1L309.1 631.7L311.6 628.8L314.1 626.9L316.6 624.9L319.1 621.1L321.6 622.5L324.1 622.8L326.6 623.6L329.1 622.9L331.6 624.3L334.1 627.3L336.6 628.6L339.1 627.7L341.6 626.8L344.1 625.2L346.6 625L349.1 628.8L351.6 629.8L354.1 628.8L356.6 627.8L359.1 631.2L361.6 632.9L364.1 632L366.6 629.1L369.1 628.7L371.6 630L374.1 629.2L376.6 630.2L379.1 633.1L381.6 631.2L384.1 629.4L386.6 630.2L389.1 632.9L391.6 632.4L394.1 627.7L396.6 627.4L399.1 630.9L401.6 631.6L404.1 625.8L406.6 620.7L409.1 619.3L411.6 623L414.1 627.8L416.6 631.1L419.1 629.4L421.6 628.3L424.1 629.7L426.6 626.7L429.1 626.1L431.6 627.6L434.1 627.4L436.6 624.4L439.1 622.3L441.6 624.1L444.1 623.1L446.6 620.9L449.1 622.7L451.6 627.3L454.1 631.6L456.6 636L459.1 639.6L461.6 638.1L464.1 631.8L466.6 630L469.1 630.3L471.6 628.4L474.1 629.3L476.6 629.2L479.1 629.6L481.6 628.7L484.1 626.7L486.6 630.4L489.1 635.2L491.6 636.6L494.1 640.9L496.6 643.5L499.1 644.5L501.6 647.2L504.1 650.5L506.6 650.3L509.1 648L511.6 644.7L514.1 643.5L516.6 646.5L519.1 648.9L521.6 648.7L524.1 650L526.6 653.6L529.1 656.8L531.6 657.4L534.1 658.1L536.6 655.5L539.1 656.6L541.6 659.2L544.1 660.2L546.6 659.1L549.1 656L551.6 658.5L554.1 660.4L556.6 659.8L559.1 658.3L561.6 658.9L564.1 659L566.6 659.1L569.1 658L571.6 657.2L574.1 658.4L576.6 659L579.1 659.1L581.6 660.9L584.1 655.3L586.6 651.4L589.1 650.6L591.6 650.8L594.1 649.7L596.6 652.6L599.1 651.6L601.6 650L604.1 646.5L606.6 645.3L609.1 646.4L611.6 641.9L614.1 637.1L616.6 633.8L619.1 634.5L621.6 637.7L624.1 634.2L626.6 630.5L629.1 629.1L631.6 631L634.1 632.5L636.6 631.9L639.1 631.3L641.6 630.7L644.1 625.7L646.6 623.4L649.1 622.7L651.6 625L654.1 629L656.6 630.6L659.1 630.3L661.6 630.9L664.1 628.7L666.6 624.7L669.1 623L671.6 625.5L674.1 627.2L676.6 623.5L679.1 621.8L681.6 624.7L684.1 625L686.6 626.3L689.1 628.2L691.6 630L694.1 634.5L696.6 634.3L699.1 637.7L701.6 639.1L704.1 638.9L706.6 635.4L709.1 636.8L711.6 636.7L714.1 634.2L716.6 636.5L719.1 638.3L721.6 641.5L724.1 648.4L726.6 650.6L729.1 652L731.6 657.3L734.1 659L736.6 655.9L739.1 654.4L741.6 653.1L744.1 649.6L746.6 650.1L749.1 652.6L750.3 654" fill="none" stroke="#000" stroke-opacity="0.28" stroke-width="1.1" stroke-linejoin="round"/>
<path d="M141.6 700.7L144.1 699.9L146.6 697.2L149.1 697.3L151.6 694.3L154.1 688.9L156.6 689.3L159.1 688.4L161.6 685.5L164.1 685.3L166.6 688.2L169.1 687.1L171.6 685.5L174.1 682.6L176.6 683.5L179.1 684.6L181.6 684.2L184.1 681.1L186.6 674.2L189.1 670.5L191.6 669.3L194.1 668.8L196.6 666.3L199.1 664.3L201.6 665.8L204.1 663.7L206.6 664.4L209.1 669.8L211.6 669.8L214.1 666.2L216.6 660.8L219.1 660.9L221.6 661L224.1 658.8L226.6 655.7L229.1 658.3L231.6 660.3L234.1 657.7L236.6 656.8L239.1 654L241.6 654.1L244.1 656.9L246.6 662.2L249.1 663.1L251.6 663.6L254.1 660.5L256.6 657.9L259.1 658.8L261.6 661.9L264.1 661.1L266.6 658.9L269.1 656.7L271.6 653.2L274.1 651L276.6 650.8L279.1 651.2L281.6 650.3L284.1 647.7L286.6 644.1L289.1 649L291.6 651.6L294.1 651.2L296.6 652.1L299.1 650L301.6 648.5L304.1 646.8L306.6 647.3L309.1 649.8L311.6 646.4L314.1 639.8L316.6 638.5L319.1 641.1L321.6 643L324.1 641L326.6 635.9L329.1 633.9L331.6 634.9L334.1 636.4L336.6 638.5L339.1 641.6L341.6 641.9L344.1 642.2L346.6 640L349.1 635.1L351.6 632.1L354.1 633.9L356.6 636.8L359.1 640.5L361.6 637L364.1 633.6L366.6 634.4L369.1 635.9L371.6 639.1L374.1 638.8L376.6 645.8L379.1 648.9L381.6 648.2L384.1 648L386.6 646.6L389.1 647.1L391.6 645.1L394.1 645.8L396.6 645.7L399.1 646.5L401.6 648.8L404.1 646.1L406.6 644.9L409.1 639.5L411.6 635.7L414.1 637.4L416.6 634.4L419.1 630L421.6 627.1L424.1 626.4L426.6 630.5L429.1 634.4L431.6 633.6L434.1 627.3L436.6 626.7L439.1 631.4L441.6 634.4L444.1 635.9L446.6 635.2L449.1 634.5L451.6 636.8L454.1 638.6L456.6 638.1L459.1 640.5L461.6 642.4L464.1 641L466.6 642.6L469.1 644.3L471.6 645.3L474.1 645.5L476.6 646.3L479.1 647.5L481.6 650.4L484.1 650.7L486.6 650.6L489.1 649.8L491.6 652.5L494.1 658.5L496.6 661.7L499.1 659.4L501.6 661.7L504.1 661.9L506.6 663.7L509.1 665.9L511.6 667L514.1 669.7L516.6 670.2L519.1 672.1L521.6 672L524.1 673.6L526.6 673.1L529.1 673.5L531.6 672.4L534.1 669.9L536.6 668.1L539.1 670.5L541.6 674L544.1 675.4L546.6 674L549.1 671.1L551.6 669.6L554.1 669.6L556.6 670.6L559.1 668.2L561.6 668.4L564.1 668.9L566.6 666.8L569.1 664.9L571.6 669.8L574.1 670L576.6 667.3L579.1 665.1L581.6 665.7L584.1 669L586.6 672.1L589.1 676L591.6 671L594.1 666.6L596.6 663.2L599.1 660.2L601.6 660.3L604.1 662.4L606.6 661L609.1 660.6L611.6 658.4L614.1 658.8L616.6 659.5L619.1 656.7L621.6 649.7L624.1 644.3L626.6 640.7L629.1 637.3L631.6 635.6L634.1 637.1L636.6 638.9L639.1 641.3L641.6 645.5L644.1 647.6L646.6 647.8L649.1 644.6L651.6 644.6L654.1 646.6L656.6 647.4L659.1 642.5L661.6 641.2L664.1 645.9L666.6 646.5L669.1 645.2L671.6 645.5L674.1 652L676.6 654.3L679.1 652.9L681.6 653.3L684.1 654.9L686.6 654.7L689.1 657.2L691.6 658L694.1 659.3L696.6 662.5L699.1 665.6L701.6 665.6L704.1 662.6L706.6 661.9L709.1 664.2L711.6 666.7L714.1 667.2L716.6 672.2L719.1 673.8L721.6 670.3L724.1 668.6L726.6 670.7L729.1 671.3L731.6 675.5L734.1 678.2L736.6 677.4L739.1 679.6L741.6 680.9L744.1 682.8L746.6 680.5L749.1 681.6L750.3 682.2" fill="none" stroke="#000" stroke-opacity="0.28" stroke-width="1.1" stroke-linejoin="round"/>
<path d="M141.6 692.5L144.1 692.4L146.6 691.4L149.1 690.6L151.6 689.2L154.1 689.5L156.6 690.5L159.1 693.8L161.6 695.7L164.1 694.5L166.6 697.7L169.1 699.4L171.6 695L174.1 690.7L176.6 688.1L179.1 688L181.6 688.2L184.1 687.8L186.6 685.8L189.1 683.8L191.6 683.6L194.1 682.2L196.6 682.7L199.1 680.6L201.6 677.5L204.1 676.6L206.6 678.4L209.1 677.3L211.6 671.1L214.1 667L216.6 661.6L219.1 659.8L221.6 658.5L224.1 659.4L226.6 661.7L229.1 659.1L231.6 656.3L234.1 655.9L236.6 657L239.1 659.1L241.6 659.3L244.1 660L246.6 661.8L249.1 660.1L251.6 658.5L254.1 662.9L256.6 664.1L259.1 665.8L261.6 668.6L264.1 666.6L266.6 662.3L269.1 659.9L271.6 661.4L274.1 660.8L276.6 657.5L279.1 656.8L281.6 658L284.1 657.1L286.6 653L289.1 652L291.6 654.2L294.1 656L296.6 656.9L299.1 657L301.6 658.6L304.1 657.2L306.6 653.8L309.1 655.2L311.6 655.7L314.1 654.4L316.6 651.4L319.1 649.9L321.6 647.9L324.1 648.4L326.6 649.7L329.1 647.6L331.6 645.5L334.1 644.1L336.6 640.5L339.1 637.9L341.6 637.3L344.1 639.5L346.6 640.4L349.1 642.2L351.6 646.2L354.1 647.2L356.6 645.6L359.1 647.8L361.6 646.1L364.1 643.6L366.6 646.1L369.1 647.7L371.6 647.3L374.1 650.4L376.6 653.2L379.1 655.7L381.6 659.9L384.1 659.9L386.6 659.9L389.1 661.4L391.6 660L394.1 658.3L396.6 656.3L399.1 655.4L401.6 654.3L404.1 656.3L406.6 652L409.1 650.2L411.6 650.2L414.1 651.6L416.6 650.4L419.1 651L421.6 649.4L424.1 644.5L426.6 642.5L429.1 641.1L431.6 643.1L434.1 643.3L436.6 642.9L439.1 644.2L441.6 643.5L444.1 642.5L446.6 644.6L449.1 647.2L451.6 647.6L454.1 650.1L456.6 653.6L459.1 655L461.6 656.1L464.1 659.1L466.6 664.3L469.1 663.9L471.6 665.1L474.1 666.5L476.6 666.8L479.1 669.4L481.6 665.7L484.1 666.6L486.6 664.7L489.1 662.4L491.6 664.3L494.1 670.5L496.6 672.9L499.1 675.1L501.6 674.1L504.1 677L506.6 677.3L509.1 672L511.6 669.7L514.1 670.6L516.6 670.6L519.1 672.9L521.6 672.9L524.1 673.7L526.6 679.4L529.1 681.8L531.6 683.1L534.1 681.4L536.6 679.7L539.1 678.7L541.6 676.2L544.1 672.7L546.6 671.3L549.1 676.2L551.6 679.4L554.1 680L556.6 679.9L559.1 677L561.6 676.2L564.1 677.8L566.6 679L569.1 676.3L571.6 676.6L574.1 678.7L576.6 680.7L579.1 682.1L581.6 684.5L584.1 683.3L586.6 682.9L589.1 682.5L591.6 677.4L594.1 675.4L596.6 671.7L599.1 668.2L601.6 666.3L604.1 665.7L606.6 667.1L609.1 670.6L611.6 670.7L614.1 668.2L616.6 666.2L619.1 661.9L621.6 660.3L624.1 659.3L626.6 658.6L629.1 658.1L631.6 656.3L634.1 654.2L636.6 655.2L639.1 652.9L641.6 654.4L644.1 656.5L646.6 659.6L649.1 660.2L651.6 659.8L654.1 654.5L656.6 650.9L659.1 652.6L661.6 654.4L664.1 653.4L666.6 655L669.1 657.2L671.6 661.9L674.1 663.5L676.6 663.1L679.1 664L681.6 666.6L684.1 670.1L686.6 672.8L689.1 671.9L691.6 673.9L694.1 673.9L696.6 671L699.1 675L701.6 676.2L704.1 675L706.6 674.9L709.1 673.6L711.6 673.8L714.1 673.8L716.6 674.3L719.1 675.8L721.6 678L724.1 683.2L726.6 685.8L729.1 687.4L731.6 687.2L734.1 687.5L736.6 687.9L739.1 691.2L741.6 694.2L744.1 693.7L746.6 694.4L749.1 695.6L750.3 692.1" fill="none" stroke="#000" stroke-opacity="0.28" stroke-width="1.1" stroke-linejoin="round"/>
<path d="M141.6 711.5L144.1 710.4L146.6 708.1L149.1 704.2L151.6 702.3L154.1 699.2L156.6 696.1L159.1 697.9L161.6 696.9L164.1 694.5L166.6 696.9L169.1 699L171.6 696.8L174.1 696.6L176.6 695.3L179.1 694.5L181.6 693.4L184.1 690.5L186.6 687.2L189.1 681.9L191.6 682.6L194.1 683.8L196.6 684.3L199.1 681.6L201.6 679.2L204.1 676.8L206.6 674.8L209.1 675.5L211.6 677L214.1 678.5L216.6 677.4L219.1 676.6L221.6 674.5L224.1 675.2L226.6 676.1L229.1 674.9L231.6 675.3L234.1 673.3L236.6 673L239.1 670.5L241.6 668L244.1 667.8L246.6 663.5L249.1 663.1L251.6 666.4L254.1 670.1L256.6 671.6L259.1 666L261.6 659.3L264.1 655.4L266.6 655.3L269.1 657.8L271.6 659.8L274.1 664.3L276.6 661.7L279.1 660.4L281.6 658.2L284.1 656.9L286.6 658.4L289.1 660.8L291.6 660.5L294.1 660.5L296.6 663.9L299.1 663.2L301.6 665.4L304.1 665.2L306.6 659.7L309.1 658.5L311.6 657.5L314.1 657.3L316.6 658.1L319.1 656.9L321.6 659.4L324.1 661.4L326.6 662.6L329.1 660.6L331.6 661.2L334.1 659.7L336.6 657.5L339.1 656L341.6 655.4L344.1 651.4L346.6 651.8L349.1 654.2L351.6 655.6L354.1 654.9L356.6 658.4L359.1 662.3L361.6 664.8L364.1 665L366.6 666.2L369.1 668.2L371.6 668.9L374.1 670.4L376.6 674.6L379.1 676.1L381.6 675.8L384.1 675.6L386.6 677.3L389.1 677.2L391.6 679.2L394.1 680.6L396.6 681.5L399.1 679.7L401.6 677.7L404.1 674.2L406.6 675.2L409.1 676.5L411.6 668.8L414.1 664.7L416.6 662.9L419.1 658.9L421.6 657.4L424.1 658.9L426.6 661.3L429.1 662.7L431.6 659.8L434.1 657.7L436.6 660.1L439.1 664.1L441.6 668.8L444.1 668.4L446.6 668.6L449.1 666.8L451.6 668L454.1 669.7L456.6 671.4L459.1 672.3L461.6 674.1L464.1 674.7L466.6 674.6L469.1 676.3L471.6 675.9L474.1 677L476.6 678.6L479.1 678.5L481.6 678.3L484.1 680.7L486.6 682.6L489.1 687.4L491.6 689.1L494.1 687.3L496.6 683.7L499.1 678.5L501.6 681.4L504.1 683.5L506.6 681.7L509.1 683L511.6 680.3L514.1 678.7L516.6 680.6L519.1 677.7L521.6 679.9L524.1 682.5L526.6 685.3L529.1 687.4L531.6 685.8L534.1 685.5L536.6 686L539.1 685.1L541.6 684L544.1 680.7L546.6 682.7L549.1 684.5L551.6 685.6L554.1 686.2L556.6 685.9L559.1 687.7L561.6 687.5L564.1 691.3L566.6 690.1L569.1 687.1L571.6 687.4L574.1 685.7L576.6 685.9L579.1 687.3L581.6 688L584.1 689.9L586.6 692.7L589.1 693.3L591.6 689.2L594.1 689.8L596.6 687.8L599.1 683.9L601.6 682.8L604.1 688.4L606.6 686.4L609.1 681.1L611.6 678.7L614.1 676.2L616.6 675.1L619.1 669.8L621.6 668.6L624.1 669.4L626.6 667L629.1 668.1L631.6 668.2L634.1 671.9L636.6 671.9L639.1 667.1L641.6 665.4L644.1 665.5L646.6 668.1L649.1 672.3L651.6 674.5L654.1 675.9L656.6 674.5L659.1 671.1L661.6 676.6L664.1 674.2L666.6 673.1L669.1 674.9L671.6 676L674.1 678.5L676.6 676.8L679.1 677.7L681.6 680L684.1 680.4L686.6 679.2L689.1 678.8L691.6 681.5L694.1 682.3L696.6 681.5L699.1 679.2L701.6 676.5L704.1 676L706.6 676.4L709.1 681.4L711.6 685L714.1 684.8L716.6 686.9L719.1 688.3L721.6 684.6L724.1 681.9L726.6 682.5L729.1 688.2L731.6 691.9L734.1 693.1L736.6 692.9L739.1 690.5L741.6 694.7L744.1 701.6L746.6 705.8L749.1 708.7L750.3 710.2" fill="none" stroke="#000" stroke-opacity="0.28" stroke-width="1.1" stroke-linejoin="round"/>
<path d="M141.6 722.7L144.1 720.8L146.6 719.2L149.1 714.3L151.6 712.6L154.1 714.9L156.6 720.1L159.1 719.5L161.6 717.8L164.1 719.3L166.6 717.6L169.1 714.9L171.6 711.6L174.1 706.5L176.6 704L179.1 699.9L181.6 698.7L184.1 696.5L186.6 696.8L189.1 696.2L191.6 693.1L194.1 690.4L196.6 690.2L199.1 690.4L201.6 692.4L204.1 693.7L206.6 691.6L209.1 690.3L211.6 692.3L214.1 694.5L216.6 690.6L219.1 686.8L221.6 684.6L224.1 683.7L226.6 682.9L229.1 684.2L231.6 681.6L234.1 678.4L236.6 675.7L239.1 674.8L241.6 674.5L244.1 676.8L246.6 679L249.1 678.1L251.6 679.9L254.1 679.2L256.6 675.6L259.1 673.6L261.6 673.2L264.1 672.5L266.6 673.7L269.1 675.8L271.6 680.3L274.1 681.3L276.6 683.4L279.1 688L281.6 690.4L284.1 687.1L286.6 686.3L289.1 687.8L291.6 685.9L294.1 681.3L296.6 686.1L299.1 687.9L301.6 689.7L304.1 693.7L306.6 695.2L309.1 694.6L311.6 694.2L314.1 686.7L316.6 679L319.1 680.5L321.6 686L324.1 689.6L326.6 684.7L329.1 680.6L331.6 675.4L334.1 673.6L336.6 676.1L339.1 678L341.6 675.7L344.1 674.2L346.6 672.8L349.1 672.1L351.6 674.2L354.1 675.9L356.6 675.5L359.1 675.4L361.6 679.1L364.1 679.4L366.6 677.6L369.1 677.1L371.6 674.6L374.1 675.8L376.6 681.8L379.1 684.1L381.6 686.3L384.1 687.2L386.6 687L389.1 687.4L391.6 687.1L394.1 683.6L396.6 679.4L399.1 675.6L401.6 677.8L404.1 679.2L406.6 681.3L409.1 683L411.6 679.1L414.1 678.2L416.6 675.5L419.1 680.3L421.6 680.6L424.1 675.4L426.6 672.2L429.1 673L431.6 672.4L434.1 673L436.6 673.6L439.1 672.9L441.6 676L444.1 678L446.6 680.2L449.1 683.7L451.6 683.4L454.1 681.4L456.6 684.4L459.1 684.5L461.6 681.6L464.1 679.2L466.6 678.3L469.1 680.6L471.6 681.5L474.1 676.7L476.6 679.5L479.1 683L481.6 685.3L484.1 683.1L486.6 682.3L489.1 682.3L491.6 684.8L494.1 686.8L496.6 689.4L499.1 690.6L501.6 692.7L504.1 692.9L506.6 693.5L509.1 691.8L511.6 691.8L514.1 692.4L516.6 690.6L519.1 689.2L521.6 689.2L524.1 690.6L526.6 689.2L529.1 689.2L531.6 686.3L534.1 685.6L536.6 686.1L539.1 689.5L541.6 693.2L544.1 694.2L546.6 694.3L549.1 693L551.6 690.4L554.1 691.1L556.6 692.8L559.1 696.5L561.6 701.5L564.1 705.4L566.6 703.5L569.1 703.9L571.6 709.9L574.1 710.1L576.6 711.7L579.1 711.1L581.6 703.2L584.1 697.2L586.6 695.5L589.1 695.3L591.6 695.2L594.1 693.9L596.6 693.8L599.1 692.6L601.6 696.1L604.1 695.6L606.6 692.7L609.1 696.8L611.6 698L614.1 693.8L616.6 691.7L619.1 688.1L621.6 686L624.1 684L626.6 682.8L629.1 677.9L631.6 674.4L634.1 673.9L636.6 674L639.1 674.2L641.6 675.7L644.1 677L646.6 680L649.1 677L651.6 676.1L654.1 682.3L656.6 687L659.1 686.5L661.6 686.5L664.1 686L666.6 687L669.1 686.7L671.6 684.4L674.1 682.8L676.6 682.5L679.1 680.9L681.6 679.5L684.1 682.9L686.6 682.8L689.1 680.9L691.6 682L694.1 681.5L696.6 681.4L699.1 683.9L701.6 686.5L704.1 689.2L706.6 692L709.1 692.9L711.6 694.1L714.1 698L716.6 692.2L719.1 691.5L721.6 693.2L724.1 694.3L726.6 696.8L729.1 699.6L731.6 700.5L734.1 697.2L736.6 695.4L739.1 697.4L741.6 699.1L744.1 698L746.6 700.1L749.1 698.2L750.3 700.2" fill="none" stroke="#000" stroke-opacity="0.28" stroke-width="1.1" stroke-linejoin="round"/>
<path d="M141.6 720L144.1 719.7L146.6 719.7L149.1 717.1L151.6 717.9L154.1 719L156.6 719.2L159.1 717.9L161.6 718.1L164.1 714.6L166.6 713.3L169.1 712.7L171.6 707.2L174.1 700.9L176.6 698.1L179.1 702.7L181.6 707.2L184.1 708.6L186.6 706.8L189.1 705.9L191.6 705L194.1 704.4L196.6 702.1L199.1 697.3L201.6 694.4L204.1 695.1L206.6 696.6L209.1 702.5L211.6 706.7L214.1 702.9L216.6 704.5L219.1 704.8L221.6 701.2L224.1 697.4L226.6 695.3L229.1 696.4L231.6 695.4L234.1 691.6L236.6 685.7L239.1 684.4L241.6 682.6L244.1 678.4L246.6 684L249.1 687.1L251.6 685.8L254.1 688.5L256.6 690.7L259.1 690.5L261.6 690.3L264.1 691.7L266.6 690.5L269.1 688.2L271.6 688.7L274.1 689.8L276.6 691.7L279.1 691.3L281.6 691.9L284.1 691.1L286.6 690.7L289.1 690.1L291.6 685.4L294.1 681.4L296.6 680.9L299.1 682.5L301.6 684.2L304.1 685.8L306.6 691.3L309.1 694.3L311.6 694L314.1 691.3L316.6 686.3L319.1 681.6L321.6 681.1L324.1 685.3L326.6 684.7L329.1 685L331.6 686.2L334.1 686.7L336.6 686.3L339.1 684.5L341.6 682.8L344.1 686.2L346.6 689.1L349.1 689.6L351.6 687.1L354.1 685L356.6 683.6L359.1 680.3L361.6 680.3L364.1 681.8L366.6 687L369.1 692.2L371.6 697.2L374.1 695.7L376.6 692.5L379.1 694.5L381.6 696.7L384.1 698.8L386.6 700.1L389.1 699.1L391.6 694.8L394.1 692.3L396.6 689.8L399.1 689.5L401.6 690.1L404.1 688L406.6 687.6L409.1 688.7L411.6 692.4L414.1 691.5L416.6 690.3L419.1 692.8L421.6 694.6L424.1 691.3L426.6 684.1L429.1 683.4L431.6 684.3L434.1 682.4L436.6 682.5L439.1 686.8L441.6 688.8L444.1 689.6L446.6 692L449.1 690.8L451.6 683.7L454.1 686.4L456.6 688.7L459.1 690.3L461.6 692.6L464.1 694.9L466.6 695L469.1 688.7L471.6 686.9L474.1 691.5L476.6 693.8L479.1 694.8L481.6 697.6L484.1 698.2L486.6 697.7L489.1 696.8L491.6 698.2L494.1 697.6L496.6 697.2L499.1 699.4L501.6 704.3L504.1 706.5L506.6 710.4L509.1 711.5L511.6 709.8L514.1 709.8L516.6 708.5L519.1 706.2L521.6 703.9L524.1 701.5L526.6 700.8L529.1 698.4L531.6 694.7L534.1 694L536.6 696.5L539.1 698.8L541.6 697.9L544.1 696.2L546.6 690.5L549.1 683.9L551.6 689L554.1 694.5L556.6 697.9L559.1 697.9L561.6 695.1L564.1 692.6L566.6 693.1L569.1 693.8L571.6 696.1L574.1 703.3L576.6 704.7L579.1 705.2L581.6 704L584.1 703L586.6 700.7L589.1 698.5L591.6 701.1L594.1 703L596.6 703.2L599.1 705.5L601.6 707.4L604.1 706.3L606.6 703.1L609.1 699.1L611.6 694.8L614.1 690.9L616.6 689.5L619.1 688.4L621.6 686.9L624.1 682.9L626.6 680.1L629.1 679.9L631.6 681.9L634.1 683.6L636.6 683.2L639.1 684.7L641.6 686.2L644.1 684.8L646.6 690L649.1 692.2L651.6 693.4L654.1 694.2L656.6 694.2L659.1 689.8L661.6 688.1L664.1 687.4L666.6 685.5L669.1 688.8L671.6 690.3L674.1 688.5L676.6 691.3L679.1 688L681.6 688.7L684.1 691.2L686.6 690.3L689.1 688.7L691.6 691.6L694.1 695.9L696.6 698.9L699.1 699.7L701.6 700.8L704.1 700.6L706.6 699.3L709.1 696.2L711.6 697.2L714.1 697.7L716.6 699.4L719.1 701.6L721.6 700.2L724.1 703.9L726.6 706.5L729.1 705.7L731.6 708.1L734.1 709.7L736.6 711.4L739.1 710.6L741.6 709.8L744.1 708.8L746.6 709.7L749.1 709.3L750.3 710.7" fill="none" stroke="#000" stroke-opacity="0.28" stroke-width="1.1" stroke-linejoin="round"/>
<path d="M141.6 728.9L144.1 728.4L146.6 729.8L149.1 730.2L151.6 730.8L154.1 729.6L156.6 727.4L159.1 729.2L161.6 727L164.1 725.8L166.6 727.5L169.1 726.2L171.6 723L174.1 719.6L176.6 716.5L179.1 712.1L181.6 712.7L184.1 711L186.6 709.5L189.1 704.5L191.6 703L194.1 703.4L196.6 701L199.1 701.3L201.6 705.9L204.1 707.2L206.6 708L209.1 708.5L211.6 708.3L214.1 706.6L216.6 703.2L219.1 697L221.6 694.6L224.1 696.3L226.6 696.9L229.1 697.4L231.6 696.1L234.1 697.4L236.6 697L239.1 694.6L241.6 696.8L244.1 694.7L246.6 693.3L249.1 693.4L251.6 694.9L254.1 699.7L256.6 700.8L259.1 698.3L261.6 697.7L264.1 698.9L266.6 698.6L269.1 700.3L271.6 700.3L274.1 699.1L276.6 701L279.1 702.9L281.6 706.7L284.1 704.8L286.6 701.6L289.1 701.8L291.6 700.8L294.1 705.7L296.6 706.6L299.1 706.5L301.6 706.3L304.1 709L306.6 710.3L309.1 707.5L311.6 707L314.1 709.7L316.6 705.8L319.1 703.4L321.6 702.4L324.1 705L326.6 702.1L329.1 700.5L331.6 706.1L334.1 709L336.6 709.1L339.1 714.3L341.6 720L344.1 722.7L346.6 722.9L349.1 717.8L351.6 713.4L354.1 712.7L356.6 713.6L359.1 712.3L361.6 710.7L364.1 709.8L366.6 705.1L369.1 704.9L371.6 708.8L374.1 706.9L376.6 708.6L379.1 711.8L381.6 712.6L384.1 714.1L386.6 717.1L389.1 718.1L391.6 717.1L394.1 717.9L396.6 719.3L399.1 719.8L401.6 718L404.1 719.9L406.6 724.7L409.1 725.5L411.6 721.3L414.1 719.2L416.6 719.4L419.1 718.7L421.6 718.9L424.1 715.5L426.6 714.3L429.1 713.1L431.6 709.5L434.1 706.9L436.6 705.5L439.1 703.8L441.6 702.3L444.1 703.9L446.6 709.1L449.1 712.6L451.6 716.3L454.1 720.3L456.6 720.3L459.1 717.7L461.6 718L464.1 718.8L466.6 717.3L469.1 716.9L471.6 715.7L474.1 715.7L476.6 717.9L479.1 718.9L481.6 720.6L484.1 716.1L486.6 712.5L489.1 713.6L491.6 712.8L494.1 711.3L496.6 712.3L499.1 714.1L501.6 715.8L504.1 713.7L506.6 715L509.1 714.1L511.6 715.7L514.1 715.6L516.6 717.7L519.1 717.8L521.6 716L524.1 714L526.6 712.5L529.1 711.5L531.6 712.8L534.1 713.8L536.6 711.8L539.1 710L541.6 711.7L544.1 712.7L546.6 714.4L549.1 715.2L551.6 715.4L554.1 717.2L556.6 716.8L559.1 717.3L561.6 721.8L564.1 722.9L566.6 725.5L569.1 724.5L571.6 721.8L574.1 722L576.6 722.4L579.1 722.1L581.6 725.1L584.1 724.7L586.6 722.7L589.1 720.3L591.6 716.9L594.1 712.7L596.6 713.6L599.1 714.8L601.6 715L604.1 713.8L606.6 712.1L609.1 710.2L611.6 710.7L614.1 711.8L616.6 707L619.1 702.4L621.6 703.9L624.1 699.9L626.6 697.8L629.1 698.9L631.6 701.3L634.1 702.5L636.6 701.6L639.1 701.6L641.6 702L644.1 705.4L646.6 709.1L649.1 710.4L651.6 711.1L654.1 710.2L656.6 709.9L659.1 710.3L661.6 710.6L664.1 713.3L666.6 713.2L669.1 709L671.6 709.8L674.1 711L676.6 711.2L679.1 711.1L681.6 709.2L684.1 710.6L686.6 707.7L689.1 709.9L691.6 712.6L694.1 711.9L696.6 711.5L699.1 714.7L701.6 715.5L704.1 709.2L706.6 701.6L709.1 703.1L711.6 701L714.1 700.1L716.6 700.6L719.1 702.2L721.6 703.1L724.1 703.6L726.6 701.8L729.1 702.7L731.6 705.8L734.1 713L736.6 710.7L739.1 709.1L741.6 708.1L744.1 705.8L746.6 708.6L749.1 713.3L750.3 718" fill="none" stroke="#000" stroke-opacity="0.28" stroke-width="1.1" stroke-linejoin="round"/>
<path d="M141.6 725.6L144.1 727.5L146.6 729.8L149.1 727.9L151.6 726.2L154.1 723.5L156.6 722.4L159.1 721.5L161.6 722.1L164.1 724.6L166.6 729.6L169.1 732.4L171.6 730.8L174.1 731.1L176.6 730.1L179.1 729L181.6 728.2L184.1 725.9L186.6 723.1L189.1 716.7L191.6 712.4L194.1 712.4L196.6 719.7L199.1 722.3L201.6 723.9L204.1 725.4L206.6 723.9L209.1 721.1L211.6 717.1L214.1 714.9L216.6 718.5L219.1 717.9L221.6 715.7L224.1 714.3L226.6 713.1L229.1 710.9L231.6 706.8L234.1 707.1L236.6 709L239.1 711L241.6 717.2L244.1 722.6L246.6 724.7L249.1 726.7L251.6 727.3L254.1 726L256.6 724.3L259.1 724.7L261.6 725.7L264.1 723.7L266.6 724.3L269.1 722.4L271.6 720.6L274.1 721.5L276.6 721.3L279.1 721.3L281.6 720.4L284.1 721L286.6 721.5L289.1 722.3L291.6 722.4L294.1 726.6L296.6 727.9L299.1 726.4L301.6 725.6L304.1 725.8L306.6 726.5L309.1 724.4L311.6 723.1L314.1 719.8L316.6 719.2L319.1 723.1L321.6 724L324.1 726.6L326.6 725.4L329.1 723.2L331.6 718.7L334.1 719.2L336.6 720.2L339.1 724.1L341.6 727.3L344.1 727.4L346.6 725.1L349.1 728L351.6 730.8L354.1 732.9L356.6 734.4L359.1 732.6L361.6 730.4L364.1 729L366.6 724.3L369.1 720.3L371.6 721.7L374.1 725.9L376.6 723.4L379.1 725L381.6 725.3L384.1 722.2L386.6 725.5L389.1 728.5L391.6 728.6L394.1 730.1L396.6 729.2L399.1 730.9L401.6 730.9L404.1 732.3L406.6 731.2L409.1 729L411.6 725.3L414.1 724.8L416.6 727.2L419.1 727.3L421.6 725.8L424.1 727.1L426.6 722.8L429.1 719.8L431.6 716.8L434.1 718L436.6 717.5L439.1 716.4L441.6 717.3L444.1 719.7L446.6 718.8L449.1 718.5L451.6 720.7L454.1 721.2L456.6 721L459.1 721.9L461.6 721.1L464.1 719.5L466.6 726L469.1 727L471.6 730.5L474.1 729.3L476.6 728.9L479.1 728.7L481.6 722.9L484.1 721L486.6 721.6L489.1 721.7L491.6 720.5L494.1 719.3L496.6 717.3L499.1 717.9L501.6 716.6L504.1 714.3L506.6 715.9L509.1 717.5L511.6 717.1L514.1 716.8L516.6 719.4L519.1 716.7L521.6 717.7L524.1 721.2L526.6 723.8L529.1 727.1L531.6 729.4L534.1 727.5L536.6 719.7L539.1 714.9L541.6 713.8L544.1 715.9L546.6 717.6L549.1 721L551.6 719.9L554.1 718.8L556.6 717.3L559.1 722.1L561.6 727.1L564.1 722.6L566.6 722.2L569.1 724.4L571.6 724.6L574.1 726.9L576.6 727.5L579.1 723.6L581.6 719.8L584.1 718.3L586.6 721L589.1 723L591.6 723.1L594.1 725.4L596.6 728.2L599.1 730.1L601.6 727.8L604.1 726.9L606.6 726.2L609.1 727.8L611.6 727L614.1 726.9L616.6 725.2L619.1 723.9L621.6 725.5L624.1 728.2L626.6 727.8L629.1 724.6L631.6 723.5L634.1 724.7L636.6 725.8L639.1 726.5L641.6 724.4L644.1 723.1L646.6 725.3L649.1 724.6L651.6 721.9L654.1 723.2L656.6 721.9L659.1 719.2L661.6 715.8L664.1 717.4L666.6 718.1L669.1 713.9L671.6 714L674.1 716L676.6 716.9L679.1 718.2L681.6 720.9L684.1 722.5L686.6 724L689.1 729.7L691.6 730.7L694.1 727.2L696.6 721.9L699.1 725.9L701.6 726.4L704.1 723.1L706.6 722.3L709.1 724.5L711.6 725.1L714.1 723.6L716.6 724.2L719.1 722.5L721.6 723.8L724.1 727.2L726.6 732L729.1 732.8L731.6 729.4L734.1 729.3L736.6 727.8L739.1 726.6L741.6 726L744.1 726L746.6 725.3L749.1 722.9L750.3 724.6" fill="none" stroke="#000" stroke-opacity="0.28" stroke-width="1.1" stroke-linejoin="round"/>
<path d="M141.6 715.7L144.1 718.5L146.6 721.9L149.1 720L151.6 720L154.1 721.8L156.6 723.8L159.1 720.9L161.6 725L164.1 728.4L166.6 728.8L169.1 727.4L171.6 726.2L174.1 727L176.6 728.1L179.1 730.2L181.6 727.7L184.1 727.1L186.6 727.4L189.1 728.5L191.6 728.3L194.1 728.9L196.6 730.7L199.1 731.7L201.6 734.3L204.1 733.7L206.6 734L209.1 735.4L211.6 732.7L214.1 731.6L216.6 729.4L219.1 728.9L221.6 730.5L224.1 735.3L226.6 739.3L229.1 743.7L231.6 741.2L234.1 740.2L236.6 743.8L239.1 746.5L241.6 748.8L244.1 748.3L246.6 747.1L249.1 746.5L251.6 745.1L254.1 747L256.6 748.6L259.1 751.1L261.6 746.4L264.1 747.3L266.6 749.6L269.1 753L271.6 751.6L274.1 752.5L276.6 757.5L279.1 756.4L281.6 758.1L284.1 756.5L286.6 752L289.1 744.7L291.6 744.6L294.1 747.9L296.6 747.7L299.1 743.1L301.6 742.9L304.1 743.6L306.6 740.9L309.1 734.8L311.6 729L314.1 724.9L316.6 723.5L319.1 723.9L321.6 725.8L324.1 725.8L326.6 727L329.1 731.5L331.6 731.4L334.1 725.5L336.6 722.1L339.1 721.4L341.6 725.7L344.1 726.8L346.6 727.6L349.1 723.1L351.6 719.4L354.1 720.7L356.6 719.9L359.1 716.9L361.6 718.3L364.1 722.9L366.6 731.5L369.1 739.2L371.6 736.1L374.1 734.5L376.6 737.4L379.1 738L381.6 738.3L384.1 741.8L386.6 741.9L389.1 738L391.6 730.9L394.1 733.3L396.6 738.1L399.1 738.1L401.6 737.7L404.1 737L406.6 732.7L409.1 734.7L411.6 737.5L414.1 736.8L416.6 734.6L419.1 737.8L421.6 740.6L424.1 737.1L426.6 736.2L429.1 735.1L431.6 734.9L434.1 733.3L436.6 734L439.1 735.3L441.6 732.4L444.1 734.5L446.6 735.8L449.1 732.5L451.6 733L454.1 732.5L456.6 730.8L459.1 727.7L461.6 726.5L464.1 727.4L466.6 730.5L469.1 729.2L471.6 730.1L474.1 733.7L476.6 732.3L479.1 727.2L481.6 724.1L484.1 723.1L486.6 723L489.1 723L491.6 724.7L494.1 727.2L496.6 729.9L499.1 734.4L501.6 734.4L504.1 733.8L506.6 736.3L509.1 737.4L511.6 736.5L514.1 736.2L516.6 735.3L519.1 737.4L521.6 739.9L524.1 741.9L526.6 743.2L529.1 740.6L531.6 736.1L534.1 732.6L536.6 728.3L539.1 723.8L541.6 723.7L544.1 721L546.6 721.8L549.1 722L551.6 723L554.1 724.6L556.6 724.8L559.1 727L561.6 728.1L564.1 726L566.6 725.1L569.1 725.4L571.6 724.8L574.1 729L576.6 727.4L579.1 725L581.6 725.3L584.1 728L586.6 726.1L589.1 725.4L591.6 725.9L594.1 730.1L596.6 734.1L599.1 738.7L601.6 736.4L604.1 735.9L606.6 736L609.1 734.6L611.6 734.2L614.1 733.1L616.6 732L619.1 731.2L621.6 733.2L624.1 734.7L626.6 735L629.1 736.8L631.6 735L634.1 733.3L636.6 733.4L639.1 733.9L641.6 732L644.1 728.3L646.6 729.5L649.1 729L651.6 725.1L654.1 725.6L656.6 725.9L659.1 723.1L661.6 722.6L664.1 723L666.6 723.9L669.1 722.4L671.6 720.6L674.1 721.2L676.6 722.4L679.1 728.7L681.6 732.6L684.1 732L686.6 729.8L689.1 730.5L691.6 736.6L694.1 745.2L696.6 746.3L699.1 742.5L701.6 737.4L704.1 731.7L706.6 733.4L709.1 735.2L711.6 734L714.1 734.9L716.6 737.5L719.1 742.6L721.6 745.3L724.1 743.6L726.6 740.8L729.1 738.5L731.6 742.6L734.1 747.5L736.6 747.3L739.1 743.5L741.6 739.5L744.1 741.6L746.6 744.6L749.1 749.8L750.3 751.9" fill="none" stroke="#000" stroke-opacity="0.28" stroke-width="1.1" stroke-linejoin="round"/>
<path d="M141.6 710.4L144.1 709.6L146.6 706L149.1 705L151.6 708.5L154.1 708.9L156.6 707.8L159.1 711.6L161.6 712.7L164.1 709.3L166.6 709L169.1 710L171.6 713.5L174.1 714.7L176.6 715.9L179.1 712.8L181.6 706L184.1 698.6L186.6 694.1L189.1 689.5L191.6 689L194.1 688.1L196.6 687.1L199.1 687.5L201.6 687.1L204.1 683.2L206.6 686.2L209.1 688.8L211.6 688.4L214.1 684L216.6 686.3L219.1 686.2L221.6 685.8L224.1 688.3L226.6 685.5L229.1 683.5L231.6 685.9L234.1 682.1L236.6 678.6L239.1 681.6L241.6 684.2L244.1 685L246.6 685.5L249.1 687.2L251.6 691.9L254.1 694.7L256.6 698.4L259.1 700.2L261.6 705.2L264.1 706L266.6 704.5L269.1 704L271.6 702.8L274.1 700.7L276.6 695.4L279.1 689.4L281.6 687.7L284.1 683.3L286.6 676L289.1 676.6L291.6 678.4L294.1 675.9L296.6 675L299.1 675.4L301.6 674.1L304.1 670.8L306.6 669.5L309.1 668.2L311.6 668.8L314.1 671.6L316.6 674L319.1 675.3L321.6 677.3L324.1 676.9L326.6 675.7L329.1 673.4L331.6 668.8L334.1 668.4L336.6 664.1L339.1 662L341.6 663L344.1 661.3L346.6 659.1L349.1 652.8L351.6 651.6L354.1 654.1L356.6 649.4L359.1 647.8L361.6 649.4L364.1 649.3L366.6 649.4L369.1 651.5L371.6 653.5L374.1 654.1L376.6 653.5L379.1 656.1L381.6 653.9L384.1 654.1L386.6 655.2L389.1 655.5L391.6 653L394.1 652.7L396.6 652.7L399.1 654.6L401.6 654.9L404.1 654.4L406.6 657.6L409.1 658.9L411.6 665.3L414.1 667.3L416.6 667.8L419.1 671.6L421.6 677.3L424.1 673.8L426.6 673.4L429.1 672.3L431.6 672.1L434.1 671.1L436.6 667.6L439.1 661.9L441.6 659.5L444.1 657.6L446.6 654.4L449.1 657.8L451.6 658.2L454.1 657.6L456.6 656.6L459.1 659.4L461.6 657.5L464.1 657L466.6 657.1L469.1 655.5L471.6 655.6L474.1 657.2L476.6 659.1L479.1 659.3L481.6 660L484.1 664L486.6 668.1L489.1 668.5L491.6 667.6L494.1 670.9L496.6 673.5L499.1 676.1L501.6 675.8L504.1 674L506.6 671.1L509.1 671.9L511.6 674.7L514.1 676.1L516.6 672.5L519.1 674.8L521.6 675.1L524.1 673.2L526.6 671.9L529.1 668.1L531.6 666.9L534.1 670.2L536.6 671.8L539.1 670.8L541.6 671.8L544.1 666.6L546.6 665.3L549.1 664.7L551.6 662.2L554.1 661.7L556.6 665.4L559.1 666.1L561.6 666.5L564.1 670.4L566.6 672.4L569.1 671.2L571.6 671L574.1 667.6L576.6 666.4L579.1 666.7L581.6 667.3L584.1 669.2L586.6 667.6L589.1 665.4L591.6 664.4L594.1 662.8L596.6 659.1L599.1 659.8L601.6 661.1L604.1 661.6L606.6 665.3L609.1 666.8L611.6 667L614.1 663.7L616.6 659.3L619.1 660.7L621.6 661.7L624.1 658.8L626.6 654.3L629.1 653.6L631.6 654.4L634.1 656.7L636.6 658.5L639.1 658.1L641.6 657.6L644.1 658L646.6 658.3L649.1 656.5L651.6 657.1L654.1 657.5L656.6 658.1L659.1 660L661.6 663.6L664.1 667.3L666.6 668L669.1 667.4L671.6 666.6L674.1 668.5L676.6 668.6L679.1 668L681.6 667.3L684.1 668.3L686.6 667.6L689.1 673.4L691.6 678.4L694.1 679.7L696.6 680.9L699.1 680.9L701.6 680L704.1 685.7L706.6 688.7L709.1 690.4L711.6 693.5L714.1 692.1L716.6 690.3L719.1 688.6L721.6 688.3L724.1 689.3L726.6 693.6L729.1 696.2L731.6 696.5L734.1 697.2L736.6 699.6L739.1 705.2L741.6 709.2L744.1 710.5L746.6 714.4L749.1 714.8L750.3 713.6" fill="none" stroke="#ee1106" stroke-opacity="0.27" stroke-width="1.1" stroke-linejoin="round"/>
<path d="M141.6 725.7L144.1 726.1L146.6 726L149.1 725.8L151.6 728.6L154.1 724.4L156.6 719.3L159.1 718.1L161.6 717.6L164.1 716.9L166.6 714.4L169.1 712.5L171.6 710.3L174.1 710.2L176.6 708L179.1 709.9L181.6 713L184.1 707.4L186.6 704.5L189.1 704.7L191.6 701.2L194.1 698.1L196.6 695.7L199.1 689L201.6 687.5L204.1 690L206.6 693.4L209.1 693.7L211.6 690.9L214.1 691.2L216.6 690.9L219.1 693.5L221.6 695.4L224.1 697L226.6 695.1L229.1 694L231.6 690.2L234.1 689.1L236.6 690.8L239.1 693.4L241.6 696.5L244.1 698.2L246.6 699.7L249.1 698L251.6 696.7L254.1 696.7L256.6 693.1L259.1 689.5L261.6 687L264.1 686.2L266.6 686.2L269.1 687.5L271.6 687.9L274.1 685.9L276.6 684.8L279.1 683L281.6 682.3L284.1 688.8L286.6 688.6L289.1 690.9L291.6 694.7L294.1 692.1L296.6 688L299.1 685.4L301.6 685.9L304.1 684.4L306.6 683.2L309.1 683L311.6 680.4L314.1 677.3L316.6 681.2L319.1 684.8L321.6 684.5L324.1 687.9L326.6 688.1L329.1 688.1L331.6 685.4L334.1 683.5L336.6 683.3L339.1 685.8L341.6 685L344.1 684.4L346.6 684.9L349.1 682.6L351.6 675.5L354.1 673L356.6 672.2L359.1 670.7L361.6 665.2L364.1 665.5L366.6 667.1L369.1 667.2L371.6 665.2L374.1 664.3L376.6 660.7L379.1 657.5L381.6 658.3L384.1 657.9L386.6 660.8L389.1 660.7L391.6 654.1L394.1 655.1L396.6 656L399.1 655.3L401.6 656.7L404.1 655.6L406.6 654.1L409.1 654.6L411.6 652.6L414.1 653.3L416.6 654.6L419.1 657.6L421.6 662.3L424.1 666.2L426.6 668.1L429.1 670.9L431.6 669.7L434.1 669.7L436.6 672.9L439.1 674.2L441.6 671.6L444.1 671.4L446.6 670.9L449.1 673.2L451.6 674.1L454.1 671.4L456.6 667.5L459.1 665.3L461.6 666.6L464.1 669.5L466.6 670.5L469.1 670.8L471.6 669.4L474.1 670.9L476.6 669.3L479.1 666.6L481.6 668.3L484.1 671.9L486.6 673L489.1 671.4L491.6 666.5L494.1 668.4L496.6 671.8L499.1 675.2L501.6 677.3L504.1 676.4L506.6 675.3L509.1 676L511.6 675.6L514.1 675.3L516.6 679.6L519.1 678.6L521.6 673.7L524.1 669.4L526.6 667.4L529.1 668.1L531.6 668.3L534.1 669.8L536.6 667.7L539.1 673.4L541.6 676L544.1 674.7L546.6 678.2L549.1 680.8L551.6 676.9L554.1 679.9L556.6 681.8L559.1 677.8L561.6 674L564.1 667.8L566.6 665.4L569.1 666.4L571.6 666.7L574.1 668.7L576.6 673.9L579.1 679.2L581.6 679.4L584.1 678L586.6 679.8L589.1 683.3L591.6 686.3L594.1 684.9L596.6 678.4L599.1 675.7L601.6 675.6L604.1 675.1L606.6 681.3L609.1 683.7L611.6 684.4L614.1 684.1L616.6 683.7L619.1 685.5L621.6 685.3L624.1 683.2L626.6 685.9L629.1 694.9L631.6 696.4L634.1 691.7L636.6 684.1L639.1 681.2L641.6 679.4L644.1 679L646.6 680.8L649.1 681.2L651.6 681.7L654.1 679.2L656.6 676.3L659.1 676.4L661.6 673.1L664.1 673L666.6 676.1L669.1 679.7L671.6 682.1L674.1 683L676.6 682.3L679.1 680.6L681.6 682L684.1 682.4L686.6 684.5L689.1 687.2L691.6 686.3L694.1 685.8L696.6 690.2L699.1 695.8L701.6 696.9L704.1 694.9L706.6 695.3L709.1 697.9L711.6 694.4L714.1 691.6L716.6 695.6L719.1 696.5L721.6 694.8L724.1 695.4L726.6 696.5L729.1 697.9L731.6 698.2L734.1 694.3L736.6 693.8L739.1 697.7L741.6 701.2L744.1 704.7L746.6 703.9L749.1 710.4L750.3 714.2" fill="none" stroke="#ee1106" stroke-opacity="0.27" stroke-width="1.1" stroke-linejoin="round"/>
<path d="M141.6 738.2L144.1 738.6L146.6 738L149.1 735.4L151.6 732.9L154.1 730.9L156.6 728.5L159.1 727.4L161.6 727.6L164.1 724.5L166.6 722.1L169.1 719.7L171.6 719.1L174.1 720.5L176.6 720.1L179.1 719.9L181.6 718.4L184.1 718.1L186.6 716.8L189.1 712.2L191.6 707.6L194.1 703.5L196.6 701.3L199.1 699.9L201.6 700.6L204.1 699.9L206.6 702.4L209.1 704.6L211.6 703.8L214.1 704.4L216.6 699.8L219.1 698.5L221.6 697.3L224.1 695.7L226.6 694L229.1 694.6L231.6 695.4L234.1 696.1L236.6 695.1L239.1 697.7L241.6 696.4L244.1 699.4L246.6 704.2L249.1 706.3L251.6 708L254.1 708.1L256.6 709.1L259.1 708.1L261.6 705.4L264.1 705.6L266.6 705.8L269.1 704.5L271.6 701.9L274.1 699.5L276.6 697.9L279.1 699.5L281.6 702L284.1 706.5L286.6 706.1L289.1 706.4L291.6 703L294.1 699L296.6 703.2L299.1 702.7L301.6 699.3L304.1 696.1L306.6 697.4L309.1 698.8L311.6 698.8L314.1 696.3L316.6 695.8L319.1 695.8L321.6 694.9L324.1 693.8L326.6 692.2L329.1 686.7L331.6 684.5L334.1 686.4L336.6 688.4L339.1 689.9L341.6 687.5L344.1 684.1L346.6 683.7L349.1 681.8L351.6 681.6L354.1 682.3L356.6 684.8L359.1 685.9L361.6 684.8L364.1 682.2L366.6 680.4L369.1 679.6L371.6 675.5L374.1 672.6L376.6 668.9L379.1 667.6L381.6 672.3L384.1 676L386.6 677.7L389.1 679.3L391.6 675.3L394.1 675.8L396.6 674.2L399.1 670.9L401.6 669.8L404.1 671.7L406.6 675.3L409.1 678.2L411.6 676.1L414.1 675.2L416.6 677.5L419.1 680.9L421.6 681.1L424.1 683.3L426.6 687.2L429.1 683.7L431.6 682.1L434.1 685.3L436.6 689.7L439.1 689.8L441.6 689.8L444.1 689.1L446.6 688.8L449.1 687.7L451.6 685.2L454.1 685.9L456.6 688.4L459.1 686.6L461.6 687L464.1 692.8L466.6 693L469.1 689.7L471.6 693.3L474.1 697.5L476.6 698.1L479.1 694.4L481.6 689.1L484.1 686.6L486.6 685.6L489.1 683.6L491.6 686L494.1 687.5L496.6 684.4L499.1 684.4L501.6 686.6L504.1 689.1L506.6 691.8L509.1 694L511.6 693.5L514.1 694.9L516.6 694.6L519.1 695.5L521.6 699.9L524.1 700.8L526.6 699.6L529.1 698.4L531.6 699L534.1 696.6L536.6 692.6L539.1 690.5L541.6 689.4L544.1 689.4L546.6 689.3L549.1 692.1L551.6 691.9L554.1 694.3L556.6 695.5L559.1 697.2L561.6 694.7L564.1 693.8L566.6 693.1L569.1 693.7L571.6 693.2L574.1 694.4L576.6 696.2L579.1 694.3L581.6 692L584.1 693.8L586.6 694.2L589.1 695.1L591.6 696.1L594.1 692.5L596.6 696.4L599.1 695.1L601.6 694.4L604.1 693.5L606.6 690L609.1 689.2L611.6 688.2L614.1 689.9L616.6 692.9L619.1 695.7L621.6 695.8L624.1 692.8L626.6 691L629.1 690.8L631.6 686.4L634.1 679.9L636.6 677.8L639.1 678.8L641.6 679.3L644.1 679L646.6 679.4L649.1 676.8L651.6 679.4L654.1 680.4L656.6 682.2L659.1 687L661.6 689.5L664.1 689.9L666.6 688.7L669.1 689.6L671.6 691.2L674.1 694L676.6 694.1L679.1 692.3L681.6 691.8L684.1 693.5L686.6 696.2L689.1 699.6L691.6 703.3L694.1 705.7L696.6 704L699.1 700.9L701.6 700.9L704.1 700L706.6 699.4L709.1 700.1L711.6 704.8L714.1 707.3L716.6 706.7L719.1 706.8L721.6 709.1L724.1 708.6L726.6 708.6L729.1 708.8L731.6 711.2L734.1 713.5L736.6 714.7L739.1 717.2L741.6 717.4L744.1 720.9L746.6 726.3L749.1 728.5L750.3 727.1" fill="none" stroke="#ee1106" stroke-opacity="0.27" stroke-width="1.1" stroke-linejoin="round"/>
<path d="M141.6 736.6L144.1 736.1L146.6 737.3L149.1 736.3L151.6 735.1L154.1 732.8L156.6 729.9L159.1 729.4L161.6 731L164.1 732.7L166.6 730.9L169.1 723.7L171.6 720.3L174.1 720.3L176.6 719.4L179.1 722.9L181.6 721.5L184.1 720.6L186.6 720.8L189.1 719.7L191.6 714.6L194.1 711.7L196.6 712.8L199.1 713.4L201.6 712.7L204.1 710.6L206.6 709.1L209.1 708L211.6 706.8L214.1 707.6L216.6 707.9L219.1 706.3L221.6 705.2L224.1 706.2L226.6 707.6L229.1 707.3L231.6 707.6L234.1 707L236.6 705.3L239.1 705.3L241.6 704.2L244.1 707.2L246.6 709.1L249.1 710.7L251.6 714.5L254.1 715L256.6 713.5L259.1 706L261.6 698L264.1 704L266.6 709.3L269.1 710.8L271.6 709.9L274.1 711.4L276.6 710L279.1 713L281.6 715.5L284.1 711.7L286.6 706.5L289.1 705.2L291.6 703.7L294.1 704.9L296.6 707.4L299.1 709.9L301.6 708.4L304.1 706.6L306.6 705.1L309.1 705.1L311.6 701.7L314.1 701.9L316.6 705.7L319.1 707.8L321.6 703.2L324.1 701.3L326.6 702.5L329.1 697.7L331.6 694.1L334.1 695L336.6 696.2L339.1 691.8L341.6 690.2L344.1 691.4L346.6 691.5L349.1 690.3L351.6 691.3L354.1 692.7L356.6 689.9L359.1 684.9L361.6 686.6L364.1 683.9L366.6 682L369.1 684.3L371.6 685L374.1 685.2L376.6 687L379.1 685.6L381.6 683L384.1 680.4L386.6 680.3L389.1 676.4L391.6 676.4L394.1 676.2L396.6 674.8L399.1 675.2L401.6 678.8L404.1 681L406.6 679.6L409.1 682.6L411.6 688.9L414.1 692.7L416.6 692L419.1 694.8L421.6 696.4L424.1 696.8L426.6 696.3L429.1 691.6L431.6 690.6L434.1 693.5L436.6 696.1L439.1 699.7L441.6 703.5L444.1 704.2L446.6 701.7L449.1 700.5L451.6 698.4L454.1 699.4L456.6 698.7L459.1 697.1L461.6 700.7L464.1 703.6L466.6 702.2L469.1 704.1L471.6 703L474.1 700.6L476.6 695.1L479.1 693.1L481.6 698.4L484.1 702.2L486.6 699.5L489.1 698.5L491.6 701.1L494.1 701.2L496.6 700.4L499.1 700.4L501.6 701.7L504.1 703.9L506.6 703.1L509.1 704.1L511.6 707.8L514.1 712.1L516.6 713.7L519.1 713.1L521.6 710.5L524.1 708.1L526.6 706.8L529.1 707.5L531.6 706.7L534.1 704.9L536.6 708.4L539.1 712.6L541.6 711.9L544.1 715.1L546.6 717.9L549.1 715L551.6 710.8L554.1 708.7L556.6 711L559.1 713.4L561.6 712.5L564.1 709.9L566.6 707.5L569.1 707.2L571.6 707.9L574.1 709.4L576.6 709.4L579.1 707.8L581.6 707.5L584.1 708L586.6 709.2L589.1 711.9L591.6 716.1L594.1 717.5L596.6 719.1L599.1 717.9L601.6 717.1L604.1 717.5L606.6 718.2L609.1 719.5L611.6 718L614.1 718L616.6 719.1L619.1 721.6L621.6 722.3L624.1 718.7L626.6 714.1L629.1 709L631.6 707.1L634.1 709.3L636.6 707.4L639.1 707.6L641.6 705.6L644.1 703.5L646.6 702.8L649.1 705L651.6 712.5L654.1 714.1L656.6 712.4L659.1 713.5L661.6 711.3L664.1 711L666.6 712.7L669.1 709.8L671.6 707.8L674.1 711.8L676.6 714L679.1 711.8L681.6 712.7L684.1 715.9L686.6 715.8L689.1 715.7L691.6 715.5L694.1 715L696.6 715.2L699.1 714.3L701.6 714.8L704.1 719.4L706.6 721L709.1 717.1L711.6 715.7L714.1 714.9L716.6 715.4L719.1 716L721.6 718.3L724.1 719.8L726.6 719L729.1 722.4L731.6 726.4L734.1 726L736.6 728.8L739.1 729.3L741.6 729.4L744.1 731L746.6 731.3L749.1 732.4L750.3 732.5" fill="none" stroke="#ee1106" stroke-opacity="0.27" stroke-width="1.1" stroke-linejoin="round"/>
<path d="M141.6 751.9L144.1 752.6L146.6 751.5L149.1 749.9L151.6 749.6L154.1 746.3L156.6 744.1L159.1 742.5L161.6 742.1L164.1 742.8L166.6 740.5L169.1 738L171.6 739.7L174.1 736.4L176.6 732.2L179.1 731.9L181.6 731.1L184.1 730L186.6 734.4L189.1 732.3L191.6 730.5L194.1 727L196.6 725.6L199.1 722.2L201.6 721.2L204.1 723.5L206.6 724L209.1 721.5L211.6 719.9L214.1 721.6L216.6 719.2L219.1 716.3L221.6 715.2L224.1 710.8L226.6 710.6L229.1 710.8L231.6 712.4L234.1 714.8L236.6 711L239.1 709.2L241.6 709.4L244.1 709.2L246.6 711L249.1 715L251.6 717.1L254.1 717.3L256.6 716.7L259.1 714.4L261.6 712L264.1 711L266.6 712.4L269.1 712.1L271.6 715.8L274.1 719.3L276.6 722.7L279.1 722.2L281.6 722.1L284.1 722.4L286.6 723.2L289.1 720L291.6 718.3L294.1 720.9L296.6 720.9L299.1 719.6L301.6 715.1L304.1 707.9L306.6 711.4L309.1 715.4L311.6 713.3L314.1 715.6L316.6 718.8L319.1 717.5L321.6 716.4L324.1 712L326.6 711.5L329.1 712.2L331.6 712.9L334.1 709.3L336.6 702.7L339.1 694.9L341.6 694L344.1 695.6L346.6 696L349.1 696L351.6 696.2L354.1 695.9L356.6 695.7L359.1 692.7L361.6 692.1L364.1 694.8L366.6 695.6L369.1 694.6L371.6 695.3L374.1 694.8L376.6 693.2L379.1 695.1L381.6 699.9L384.1 702.9L386.6 701.5L389.1 697.6L391.6 695L394.1 698.1L396.6 698.9L399.1 697.5L401.6 696.3L404.1 701.2L406.6 702.7L409.1 700.9L411.6 703.5L414.1 707.6L416.6 711.4L419.1 717.2L421.6 724L424.1 724.6L426.6 719.2L429.1 714.5L431.6 712.6L434.1 708.2L436.6 710.2L439.1 712.6L441.6 709.7L444.1 711.6L446.6 712L449.1 709.2L451.6 706.7L454.1 705.8L456.6 704L459.1 703.1L461.6 704.5L464.1 706.4L466.6 709.6L469.1 711.9L471.6 711.2L474.1 712.4L476.6 713.5L479.1 716.1L481.6 717.6L484.1 720.1L486.6 724L489.1 722.3L491.6 723.1L494.1 720.5L496.6 717.4L499.1 715L501.6 714.1L504.1 717.2L506.6 717.7L509.1 716.4L511.6 715.3L514.1 718L516.6 720.8L519.1 723.8L521.6 726L524.1 727.4L526.6 724.7L529.1 718.7L531.6 719.4L534.1 725.6L536.6 726.9L539.1 725L541.6 725.1L544.1 730L546.6 730.4L549.1 728.7L551.6 728.1L554.1 730.3L556.6 729.3L559.1 732.4L561.6 730.8L564.1 725.8L566.6 726.5L569.1 726L571.6 723.7L574.1 724.3L576.6 727.2L579.1 728.5L581.6 728L584.1 729.4L586.6 731.6L589.1 730.8L591.6 727.1L594.1 725L596.6 726L599.1 728.1L601.6 729.5L604.1 727.2L606.6 727.3L609.1 729.4L611.6 727.6L614.1 724.9L616.6 725.5L619.1 728.9L621.6 728.6L624.1 728.1L626.6 731L629.1 732.1L631.6 734.5L634.1 736.8L636.6 735L639.1 727.1L641.6 725.8L644.1 727.8L646.6 730L649.1 733L651.6 736.3L654.1 732.1L656.6 732.3L659.1 732.6L661.6 733.8L664.1 731.7L666.6 733.2L669.1 732.8L671.6 732.3L674.1 735.2L676.6 734L679.1 732.7L681.6 729.6L684.1 724.7L686.6 721.9L689.1 721.9L691.6 726.2L694.1 729.6L696.6 729.2L699.1 726L701.6 724.3L704.1 722.9L706.6 720.5L709.1 720.2L711.6 719.6L714.1 717.6L716.6 719.6L719.1 723.1L721.6 723.7L724.1 722.1L726.6 722.2L729.1 725L731.6 729.3L734.1 734.5L736.6 735.5L739.1 735.2L741.6 737.4L744.1 736.7L746.6 735.3L749.1 737.2L750.3 737.3" fill="none" stroke="#ee1106" stroke-opacity="0.27" stroke-width="1.1" stroke-linejoin="round"/>
<path d="M141.6 755.2L144.1 753.9L146.6 753.9L149.1 754.5L151.6 753.8L154.1 755L156.6 754.2L159.1 749.9L161.6 749.1L164.1 751.3L166.6 747.3L169.1 743L171.6 738.1L174.1 737.6L176.6 738.7L179.1 739.5L181.6 738.3L184.1 739.1L186.6 739L189.1 736.3L191.6 733.5L194.1 730.4L196.6 730L199.1 730.8L201.6 728.6L204.1 725.7L206.6 728.1L209.1 729.4L211.6 732.1L214.1 732.4L216.6 729.4L219.1 730.6L221.6 733.2L224.1 733.8L226.6 735.7L229.1 735L231.6 730.1L234.1 724.8L236.6 725.3L239.1 726.6L241.6 730L244.1 727.7L246.6 727L249.1 728.6L251.6 729.3L254.1 728.1L256.6 729.6L259.1 732.8L261.6 731.4L264.1 730.7L266.6 729.8L269.1 735.2L271.6 737.9L274.1 739L276.6 735.4L279.1 734L281.6 729.7L284.1 729.7L286.6 729.9L289.1 732.1L291.6 731.4L294.1 730.9L296.6 730.2L299.1 729.9L301.6 725.6L304.1 728.6L306.6 732.2L309.1 729.8L311.6 727.6L314.1 728.6L316.6 728.4L319.1 726.1L321.6 723L324.1 723.6L326.6 723.9L329.1 722.9L331.6 721.5L334.1 722L336.6 722.4L339.1 726.5L341.6 727.5L344.1 720.5L346.6 723.2L349.1 723.9L351.6 721.2L354.1 717.1L356.6 714.4L359.1 712.3L361.6 709.3L364.1 708.4L366.6 713.8L369.1 719.8L371.6 717.7L374.1 716.8L376.6 715L379.1 714.2L381.6 711.4L384.1 712L386.6 709L389.1 703.8L391.6 707.1L394.1 711.2L396.6 713.4L399.1 713.3L401.6 710.1L404.1 709.1L406.6 711.6L409.1 714.2L411.6 718.5L414.1 720.6L416.6 721.2L419.1 717.4L421.6 720.1L424.1 726.3L426.6 724.5L429.1 728.8L431.6 731.9L434.1 733.8L436.6 738.2L439.1 738.1L441.6 735.6L444.1 732.3L446.6 727.5L449.1 724.3L451.6 723.5L454.1 722.9L456.6 726.4L459.1 728.4L461.6 726.2L464.1 724L466.6 722.5L469.1 724.5L471.6 725.7L474.1 727.6L476.6 732.3L479.1 734.4L481.6 733.3L484.1 730.9L486.6 731.5L489.1 735.8L491.6 735.6L494.1 734.7L496.6 733.5L499.1 736.4L501.6 741.5L504.1 740.6L506.6 738.3L509.1 734.6L511.6 732.7L514.1 734.2L516.6 737.7L519.1 739.5L521.6 736.5L524.1 734.2L526.6 738.7L529.1 738L531.6 735.6L534.1 735L536.6 732.1L539.1 729L541.6 732.8L544.1 735.9L546.6 734.1L549.1 735.1L551.6 735.8L554.1 733.3L556.6 733.5L559.1 733.9L561.6 731.2L564.1 732.6L566.6 730.7L569.1 728L571.6 732.6L574.1 734.9L576.6 736.1L579.1 739.2L581.6 738.8L584.1 739.1L586.6 739.2L589.1 738L591.6 736.7L594.1 740.6L596.6 748.3L599.1 747.4L601.6 743.3L604.1 739.3L606.6 737.2L609.1 734.7L611.6 731.9L614.1 734L616.6 736.5L619.1 742.7L621.6 742L624.1 740.3L626.6 740.4L629.1 740.3L631.6 742.5L634.1 742.7L636.6 742.4L639.1 740.9L641.6 737.3L644.1 737.6L646.6 737.8L649.1 736.4L651.6 736.6L654.1 735.1L656.6 735.7L659.1 736.8L661.6 735.5L664.1 735.1L666.6 738.4L669.1 742.3L671.6 743.9L674.1 743.4L676.6 741.1L679.1 739.8L681.6 738.5L684.1 737.7L686.6 737.1L689.1 736.6L691.6 739.4L694.1 739.1L696.6 739.7L699.1 738.7L701.6 733.7L704.1 733.9L706.6 736.5L709.1 735.3L711.6 732.1L714.1 736.6L716.6 739L719.1 736L721.6 734.1L724.1 733.4L726.6 734.3L729.1 732.6L731.6 730.1L734.1 731.3L736.6 735.7L739.1 737L741.6 738.6L744.1 741.2L746.6 739.2L749.1 742L750.3 746.1" fill="none" stroke="#ee1106" stroke-opacity="0.27" stroke-width="1.1" stroke-linejoin="round"/>
<path d="M141.6 755.5L144.1 754.1L146.6 753.1L149.1 754.8L151.6 758.7L154.1 757.4L156.6 757.3L159.1 753.6L161.6 751.3L164.1 752.8L166.6 754L169.1 755.6L171.6 753.3L174.1 750.1L176.6 746.2L179.1 741.6L181.6 740.1L184.1 739.1L186.6 737.5L189.1 734.5L191.6 732L194.1 733.3L196.6 734.7L199.1 731.6L201.6 730.1L204.1 730.2L206.6 726L209.1 723.6L211.6 727.2L214.1 726L216.6 724L219.1 727.8L221.6 731.1L224.1 734.7L226.6 733.4L229.1 731.3L231.6 731.9L234.1 733.5L236.6 730.4L239.1 729.8L241.6 732.7L244.1 729.1L246.6 725.9L249.1 727.3L251.6 730.1L254.1 733.6L256.6 737.6L259.1 742.6L261.6 745.9L264.1 747.8L266.6 750.8L269.1 756.2L271.6 757.5L274.1 756.8L276.6 753.2L279.1 747.8L281.6 741.6L284.1 735.2L286.6 735.8L289.1 737.5L291.6 736.2L294.1 735L296.6 736L299.1 736.4L301.6 741.5L304.1 741.8L306.6 742L309.1 745.6L311.6 742.6L314.1 739.2L316.6 741L319.1 742.5L321.6 744.6L324.1 743L326.6 743.9L329.1 742.5L331.6 740.2L334.1 737.9L336.6 735.4L339.1 733.3L341.6 732L344.1 733.6L346.6 728.7L349.1 723.2L351.6 724.6L354.1 722.6L356.6 719.5L359.1 719.5L361.6 722.5L364.1 724.6L366.6 726.8L369.1 723.6L371.6 722.9L374.1 722.7L376.6 719.9L379.1 719.5L381.6 720.7L384.1 722.9L386.6 723.6L389.1 723.4L391.6 723.8L394.1 726.5L396.6 728.4L399.1 728.2L401.6 730.6L404.1 730.3L406.6 729.5L409.1 728.7L411.6 733.5L414.1 739.8L416.6 741.6L419.1 744.9L421.6 744L424.1 746.1L426.6 742.9L429.1 740L431.6 738.4L434.1 739.9L436.6 739.7L439.1 743.4L441.6 747.2L444.1 748.9L446.6 747.6L449.1 742L451.6 741.3L454.1 743.4L456.6 742.1L459.1 742.2L461.6 743.7L464.1 743.7L466.6 740.6L469.1 741.2L471.6 744.6L474.1 746.2L476.6 745.2L479.1 749.7L481.6 751.6L484.1 748.2L486.6 748.8L489.1 749.8L491.6 745.1L494.1 744.7L496.6 744.7L499.1 749.5L501.6 753.1L504.1 755.8L506.6 759.3L509.1 760.6L511.6 762.5L514.1 760.2L516.6 755.2L519.1 752.3L521.6 752.3L524.1 755L526.6 755.9L529.1 757.8L531.6 759.4L534.1 757.4L536.6 754L539.1 754.6L541.6 756.2L544.1 750.1L546.6 750.1L549.1 749.2L551.6 749.9L554.1 749.4L556.6 748.9L559.1 747.4L561.6 748.2L564.1 749.7L566.6 752.6L569.1 756.6L571.6 756.8L574.1 755L576.6 752.9L579.1 750.8L581.6 747.8L584.1 743.6L586.6 742.8L589.1 745.4L591.6 750.9L594.1 752.9L596.6 749.3L599.1 748.2L601.6 750.3L604.1 749L606.6 746.5L609.1 741.8L611.6 741.1L614.1 741.6L616.6 744.1L619.1 741.9L621.6 741.8L624.1 744.8L626.6 746.1L629.1 747.4L631.6 751.6L634.1 752.6L636.6 756.3L639.1 760.4L641.6 757.2L644.1 754.3L646.6 751.2L649.1 750.1L651.6 751L654.1 750.8L656.6 748.4L659.1 747L661.6 748.1L664.1 744.2L666.6 737.3L669.1 736.8L671.6 737.7L674.1 738.4L676.6 736.4L679.1 734L681.6 735.1L684.1 736.9L686.6 740.9L689.1 734.7L691.6 732.1L694.1 733.8L696.6 735.9L699.1 736.3L701.6 736.9L704.1 740L706.6 740.4L709.1 735.5L711.6 730.8L714.1 731.6L716.6 733.3L719.1 734.4L721.6 735.8L724.1 735.6L726.6 735L729.1 735.8L731.6 736.7L734.1 739.7L736.6 744.2L739.1 742.9L741.6 742.6L744.1 741.8L746.6 744L749.1 741.1L750.3 736.9" fill="none" stroke="#ee1106" stroke-opacity="0.27" stroke-width="1.1" stroke-linejoin="round"/>
<path d="M141.6 761.1L144.1 760L146.6 758.4L149.1 755.1L151.6 754.3L154.1 747.6L156.6 742.3L159.1 743.3L161.6 745.6L164.1 744.5L166.6 743.5L169.1 745.9L171.6 745.2L174.1 746L176.6 746.2L179.1 747L181.6 748.5L184.1 745.9L186.6 742.6L189.1 745.6L191.6 749.3L194.1 751L196.6 752.1L199.1 750.9L201.6 746L204.1 741.9L206.6 746.2L209.1 747L211.6 745.1L214.1 744.2L216.6 739.3L219.1 735.5L221.6 734.1L224.1 735.1L226.6 736.7L229.1 739.5L231.6 740.6L234.1 738.3L236.6 740.7L239.1 745.1L241.6 746.5L244.1 748.3L246.6 748.8L249.1 749.6L251.6 749L254.1 749.7L256.6 750.5L259.1 752.1L261.6 752.5L264.1 752.3L266.6 752.2L269.1 754L271.6 757.6L274.1 754.5L276.6 757.1L279.1 756.2L281.6 756L284.1 754L286.6 751.5L289.1 750L291.6 746.7L294.1 746.9L296.6 745.8L299.1 745.3L301.6 744.1L304.1 745.4L306.6 745L309.1 744L311.6 744.9L314.1 745.4L316.6 744.3L319.1 744L321.6 742.1L324.1 740.5L326.6 741L329.1 742.6L331.6 740.2L334.1 737.2L336.6 738.4L339.1 740.7L341.6 741.7L344.1 740.6L346.6 741.1L349.1 737.9L351.6 736.3L354.1 735.1L356.6 730.9L359.1 732.8L361.6 737.4L364.1 739.6L366.6 736.4L369.1 735.7L371.6 734.8L374.1 735.6L376.6 735.3L379.1 734.8L381.6 732.1L384.1 729.9L386.6 733.2L389.1 733.8L391.6 734L394.1 733.5L396.6 741.1L399.1 743.9L401.6 741.5L404.1 742.8L406.6 740.7L409.1 739.2L411.6 741.9L414.1 746.1L416.6 751.1L419.1 752.9L421.6 753.2L424.1 753.7L426.6 755.3L429.1 753.7L431.6 749.6L434.1 750.2L436.6 751L439.1 749.4L441.6 750.9L444.1 751.7L446.6 750.6L449.1 750.7L451.6 754.1L454.1 753.2L456.6 748.8L459.1 747.1L461.6 746.1L464.1 743.2L466.6 745.4L469.1 747.9L471.6 748L474.1 751.7L476.6 753.3L479.1 758.2L481.6 764.4L484.1 766.7L486.6 766.8L489.1 768L491.6 765.7L494.1 761.4L496.6 756.2L499.1 757.3L501.6 760.3L504.1 761L506.6 758.2L509.1 755.6L511.6 759.5L514.1 761.5L516.6 762L519.1 763.9L521.6 765.7L524.1 766.5L526.6 767.1L529.1 768.6L531.6 773.3L534.1 775.8L536.6 774.3L539.1 773.5L541.6 767.4L544.1 766.4L546.6 771.1L549.1 770.7L551.6 773.4L554.1 772.4L556.6 769.8L559.1 766.4L561.6 767.1L564.1 769.2L566.6 772.9L569.1 771.4L571.6 770.8L574.1 768.7L576.6 768.4L579.1 770.1L581.6 769.6L584.1 769.7L586.6 772.3L589.1 773.5L591.6 773.3L594.1 773.1L596.6 775.1L599.1 775.9L601.6 774.8L604.1 778.9L606.6 780.9L609.1 779.2L611.6 777.3L614.1 779.8L616.6 780.2L619.1 780.6L621.6 779.3L624.1 778.5L626.6 776.4L629.1 773.3L631.6 769.3L634.1 767.9L636.6 767.8L639.1 767.1L641.6 765.3L644.1 763.2L646.6 759.1L649.1 759.2L651.6 760.9L654.1 763.2L656.6 768.1L659.1 771L661.6 770.1L664.1 768.3L666.6 764L669.1 760.1L671.6 754.8L674.1 752.2L676.6 754.5L679.1 755L681.6 754.3L684.1 752.3L686.6 750.8L689.1 748.8L691.6 750L694.1 749.1L696.6 743.3L699.1 740.8L701.6 741.8L704.1 741.2L706.6 740.4L709.1 740.7L711.6 740.3L714.1 740.5L716.6 741.8L719.1 742.5L721.6 742.2L724.1 738.6L726.6 737.1L729.1 738.9L731.6 738.3L734.1 738.3L736.6 737.3L739.1 733.2L741.6 734.5L744.1 740.3L746.6 743.3L749.1 746.2L750.3 747.7" fill="none" stroke="#ee1106" stroke-opacity="0.27" stroke-width="1.1" stroke-linejoin="round"/>
<path d="M141.6 708.3L143.6 708L145.6 707.5L147.6 707L149.6 706.5L151.6 706L153.6 705.5L155.6 705L157.6 704.7L159.6 704.3L161.6 703.9L163.6 703.5L165.6 703L167.6 702.5L169.6 701.9L171.6 701.2L173.6 700.4L175.6 699.6L177.6 698.8L179.6 698L181.6 697.1L183.6 696.3L185.6 695.5L187.6 694.7L189.6 694L191.6 693.3L193.6 692.7L195.6 692.2L197.6 691.7L199.6 691.3L201.6 690.9L203.6 690.7L205.6 690.4L207.6 690L209.6 689.6L211.6 689.1L213.6 688.5L215.6 687.9L217.6 687.2L219.6 686.5L221.6 685.8L223.6 685.2L225.6 684.7L227.6 684.2L229.6 683.7L231.6 683.2L233.6 682.7L235.6 682.2L237.6 682L239.6 681.9L241.6 681.9L243.6 682L245.6 682.2L247.6 682.6L249.6 683L251.6 683.2L253.6 683.2L255.6 683.1L257.6 682.9L259.6 682.5L261.6 682L263.6 681.3L265.6 680.7L267.6 680.2L269.6 679.9L271.6 679.5L273.6 679.2L275.6 679.1L277.6 679.1L279.6 679.1L281.6 679L283.6 678.8L285.6 678.6L287.6 678.3L289.6 678.1L291.6 677.8L293.6 677.6L295.6 677.2L297.6 676.5L299.6 675.6L301.6 674.6L303.6 673.5L305.6 672.3L307.6 671.1L309.6 669.8L311.6 668.6L313.6 667.2L315.6 666.1L317.6 665.4L319.6 665.1L321.6 665.1L323.6 665.1L325.6 665.1L327.6 664.9L329.6 664.7L331.6 664.4L333.6 664.3L335.6 664.4L337.6 664.5L339.6 664.6L341.6 664.6L343.6 664.6L345.6 664.4L347.6 664.3L349.6 664.2L351.6 664.2L353.6 664.2L355.6 664.4L357.6 664.9L359.6 665.6L361.6 666.4L363.6 667.3L365.6 668.4L367.6 669.7L369.6 670.9L371.6 672L373.6 673.1L375.6 674.1L377.6 675L379.6 675.9L381.6 676.6L383.6 677.4L385.6 678L387.6 678.5L389.6 678.9L391.6 679.3L393.6 679.6L395.6 679.9L397.6 680.1L399.6 680.3L401.6 680.6L403.6 681L405.6 681.1L407.6 680.7L409.6 680L411.6 679.2L413.6 678.6L415.6 678.1L417.6 677.6L419.6 677.2L421.6 676.9L423.6 676.7L425.6 676.4L427.6 676.3L429.6 676.1L431.6 676L433.6 676.1L435.6 676.3L437.6 676.8L439.6 677.2L441.6 677.7L443.6 678.2L445.6 678.7L447.6 679.3L449.6 680.1L451.6 681.1L453.6 682.1L455.6 682.9L457.6 683.5L459.6 684L461.6 684.4L463.6 684.9L465.6 685.2L467.6 685.6L469.6 685.9L471.6 686.1L473.6 686.2L475.6 686.4L477.6 686.6L479.6 686.8L481.6 687.1L483.6 687.3L485.6 687.7L487.6 688L489.6 688.4L491.6 688.9L493.6 689.3L495.6 689.8L497.6 690.3L499.6 690.8L501.6 691.2L503.6 691.5L505.6 691.8L507.6 692.1L509.6 692.4L511.6 692.7L513.6 693L515.6 693.3L517.6 693.7L519.6 694.1L521.6 694.4L523.6 694.8L525.6 695.2L527.6 695.5L529.6 695.6L531.6 695.5L533.6 695.3L535.6 695.1L537.6 695L539.6 695L541.6 695.1L543.6 695.3L545.6 695.5L547.6 695.8L549.6 696.1L551.6 696.3L553.6 696.5L555.6 696.6L557.6 696.7L559.6 697L561.6 697.4L563.6 697.9L565.6 698.3L567.6 698.6L569.6 698.8L571.6 698.9L573.6 698.9L575.6 698.8L577.6 698.6L579.6 698.4L581.6 698.2L583.6 698.1L585.6 697.9L587.6 697.8L589.6 697.6L591.6 697.3L593.6 697.1L595.6 696.8L597.6 696.6L599.6 696.3L601.6 696.1L603.6 695.7L605.6 695.1L607.6 694.4L609.6 693.6L611.6 692.7L613.6 691.8L615.6 690.8L617.6 689.8L619.6 689L621.6 688.2L623.6 687.4L625.6 686.7L627.6 686.1L629.6 685.6L631.6 685.1L633.6 684.9L635.6 685L637.6 685.4L639.6 685.8L641.6 686.2L643.6 686.8L645.6 687.5L647.6 687.9L649.6 688.1L651.6 688L653.6 687.7L655.6 687.4L657.6 687.1L659.6 686.7L661.6 686.3L663.6 686L665.6 685.7L667.6 685.5L669.6 685.3L671.6 685.2L673.6 685L675.6 684.8L677.6 684.8L679.6 685L681.6 685.3L683.6 685.6L685.6 686L687.6 686.4L689.6 686.8L691.6 687.1L693.6 687.4L695.6 687.6L697.6 687.7L699.6 687.7L701.6 687.7L703.6 687.7L705.6 687.6L707.6 687.4L709.6 687.2L711.6 687L713.6 686.7L715.6 686.5L717.6 686.3L719.6 686.2L721.6 686.1L723.6 686.2L725.6 686.5L727.6 686.9L729.6 687.3L731.6 687.6L733.6 687.9L735.6 688.1L737.6 688.4L739.6 688.9L741.6 689.4L743.6 689.9L745.6 690.4L747.6 690.8L749.6 691.1L750.3 691.2" fill="none" stroke="#000" stroke-width="4.6" stroke-linejoin="round" stroke-linecap="butt"/>
<path d="M141.6 739L143.6 738.9L145.6 738.8L147.6 738.6L149.6 738.4L151.6 738.1L153.6 737.8L155.6 737.3L157.6 736.7L159.6 735.9L161.6 735.1L163.6 734.2L165.6 733.3L167.6 732.3L169.6 731.2L171.6 730L173.6 728.8L175.6 727.5L177.6 726.2L179.6 724.7L181.6 723.2L183.6 721.9L185.6 720.7L187.6 719.9L189.6 719.1L191.6 718.4L193.6 717.6L195.6 716.9L197.6 716.1L199.6 715.5L201.6 715L203.6 714.6L205.6 714.2L207.6 713.8L209.6 713.4L211.6 713.1L213.6 712.6L215.6 712.1L217.6 711.4L219.6 710.6L221.6 710.1L223.6 709.8L225.6 709.8L227.6 709.8L229.6 709.8L231.6 709.9L233.6 710L235.6 710.2L237.6 710.5L239.6 711.1L241.6 711.7L243.6 712.4L245.6 713.1L247.6 713.9L249.6 714.6L251.6 715.3L253.6 715.9L255.6 716.4L257.6 716.9L259.6 717.5L261.6 718.2L263.6 718.9L265.6 719.6L267.6 720.1L269.6 720.6L271.6 720.9L273.6 721L275.6 720.8L277.6 720.2L279.6 719.6L281.6 719.2L283.6 718.8L285.6 718.6L287.6 718.3L289.6 718.1L291.6 717.8L293.6 717.6L295.6 717.3L297.6 717.1L299.6 716.8L301.6 716.6L303.6 716.3L305.6 716.1L307.6 715.8L309.6 715.6L311.6 715.2L313.6 714.8L315.6 714.3L317.6 713.7L319.6 713.1L321.6 712.4L323.6 711.6L325.6 710.8L327.6 709.9L329.6 709L331.6 708L333.6 707.1L335.6 706.3L337.6 705.7L339.6 705L341.6 704.3L343.6 703.7L345.6 703L347.6 702.3L349.6 701.6L351.6 700.9L353.6 700.3L355.6 699.7L357.6 699.3L359.6 698.9L361.6 698.5L363.6 698.1L365.6 697.7L367.6 697.2L369.6 696.7L371.6 696.2L373.6 695.8L375.6 695.4L377.6 695.1L379.6 694.7L381.6 694.5L383.6 694.2L385.6 694L387.6 693.7L389.6 693.5L391.6 693.3L393.6 693.2L395.6 693.4L397.6 693.6L399.6 693.9L401.6 694.3L403.6 694.7L405.6 695.2L407.6 695.8L409.6 696.6L411.6 697.4L413.6 698.2L415.6 699.2L417.6 700.3L419.6 701.4L421.6 702.5L423.6 703.4L425.6 704.2L427.6 704.8L429.6 705.4L431.6 705.8L433.6 706L435.6 706.2L437.6 706.2L439.6 705.8L441.6 705.2L443.6 704.5L445.6 703.9L447.6 703.5L449.6 703.3L451.6 703.3L453.6 703.3L455.6 703.3L457.6 703.5L459.6 703.6L461.6 703.8L463.6 704.1L465.6 704.4L467.6 704.7L469.6 705.1L471.6 705.4L473.6 705.8L475.6 706.1L477.6 706.5L479.6 706.9L481.6 707.3L483.6 707.7L485.6 708.2L487.6 708.6L489.6 709.1L491.6 709.6L493.6 710.1L495.6 710.6L497.6 711.1L499.6 711.6L501.6 712L503.6 712.4L505.6 712.8L507.6 713.2L509.6 713.6L511.6 713.9L513.6 714.2L515.6 714.2L517.6 714L519.6 713.8L521.6 713.7L523.6 713.7L525.6 714L527.6 714.2L529.6 714.5L531.6 714.8L533.6 715.2L535.6 715.5L537.6 715.9L539.6 716.3L541.6 716.7L543.6 717.1L545.6 717.5L547.6 717.9L549.6 718.3L551.6 718.6L553.6 718.9L555.6 719.1L557.6 719.3L559.6 719.3L561.6 719.3L563.6 719.2L565.6 719.1L567.6 719.1L569.6 719.1L571.6 719.1L573.6 719.2L575.6 719.5L577.6 720L579.6 720.5L581.6 721L583.6 721.6L585.6 722.2L587.6 722.8L589.6 723.3L591.6 723.9L593.6 724.4L595.6 724.8L597.6 725.1L599.6 725.3L601.6 725.4L603.6 725.5L605.6 725.4L607.6 725.3L609.6 725.1L611.6 725L613.6 724.8L615.6 724.6L617.6 724.4L619.6 724.4L621.6 724.6L623.6 724.8L625.6 725L627.6 725.3L629.6 725.7L631.6 726.1L633.6 726.3L635.6 726.4L637.6 726.3L639.6 726.2L641.6 726L643.6 725.7L645.6 725.4L647.6 725.2L649.6 724.9L651.6 724.7L653.6 724.5L655.6 724.3L657.6 724.1L659.6 724L661.6 723.8L663.6 723.7L665.6 723.4L667.6 723.2L669.6 723L671.6 722.8L673.6 722.6L675.6 722.5L677.6 722.4L679.6 722.1L681.6 721.7L683.6 721.3L685.6 721.1L687.6 721L689.6 721.1L691.6 721.2L693.6 721.1L695.6 720.9L697.6 720.5L699.6 720.2L701.6 719.9L703.6 719.6L705.6 719.4L707.6 719.1L709.6 718.9L711.6 718.6L713.6 718.4L715.6 718.3L717.6 718.3L719.6 718.5L721.6 718.6L723.6 718.7L725.6 718.8L727.6 718.9L729.6 719.1L731.6 719.4L733.6 719.7L735.6 720.1L737.6 720.7L739.6 721.4L741.6 722.2L743.6 723.1L745.6 724L747.6 724.8L749.6 725.4L750.3 725.6" fill="none" stroke="#ee1106" stroke-width="4.6" stroke-linejoin="round" stroke-linecap="butt"/>
</g>
<g clip-path="url(#clipC)">
<path d="M1144 258.9L1147 254.7L1150 257.1L1153 251.3L1156 252.5L1159 254.6L1162 253.1L1165 258.1L1168 260.8L1171 253.9L1174 258.3L1177 258.1L1180 257.2L1183 256.3L1186 254.3L1189 251.2L1192 249.8L1195 248.1L1198 247.8L1201 246.1L1204 243.6L1207 239.9L1210 242.4L1213 236.7L1216 237.4L1219 231.7L1222 230.7L1225 227.9L1228 228.1L1231 231.4L1234 229.1L1237 232L1240 228.3L1243 226.2L1246 230.1L1249 229.5L1252 230.7L1255 230.4L1258 234.4L1261 229.7L1264 224.1L1267 223.6L1270 224.5L1273 223.4L1276 226.3L1279 222.5L1282 219.1L1285 221.9L1288 226.7L1291 227.5L1294 228.6L1297 229.4L1300 226.6L1303 228.9L1306 226.2L1309 227.8L1312 221.6L1315 227.5L1318 227.6L1321 225L1324 229.8L1327 228.6L1330 230.4L1333 231.5L1336 234.2L1339 231.4L1342 235.2L1345 238.9L1348 237.7L1351 245.9L1354 249.5L1357 249.9L1360 249L1363 244.9L1366 241.4L1369 245.7L1372 243.2L1375 243.3L1378 241.3L1381 238.2L1384 238.9L1387 233L1390 231.3L1393 230.6L1396 229.6L1399 231.3L1402 228.9L1405 227.4L1408 227.8L1411 224.3L1414 225.3L1417 220.5L1420 223.5L1423 220.7L1426 222.7L1429 224L1432 219.8L1435 223.6L1438 215.8L1441 213.6L1444 211.6L1447 211L1450 208.6L1453 207L1456 201.2L1459 195.5L1462 194.7L1465 196.6L1468 194.7L1471 193.9L1474 192.9L1477 192.6L1480 194.4L1483 189.3L1486 190.1L1489 185L1492 187.9L1495 183.1L1498 182L1501 181.4L1504 178.7L1507 175.4L1510 177.1L1513 175.2L1516 170.1L1519 169.1L1522 172.1L1525 176.1L1528 177.1L1531 172.1L1534 173L1537 170.3L1540 170L1543 169.9L1546 166.3L1549 167.3L1552 163.4L1555 159.8L1558 161.4L1561 161.1L1564 161.1L1567 165.4L1570 163.1L1573 157.3L1576 154.8L1579 159.7L1582 149.7L1585 153L1588 155.2L1591 153.4L1594 152.5L1597 151.4L1600 154.1L1603 145.3L1606 148.5L1609 148.7L1612 146.7L1615 146.5L1618 143.5L1621 141.2L1624 137.1L1627 136.5L1630 138.4L1633 137.2L1636 137.8L1639 137.9L1642 136.2L1645 131.8L1648 132.5L1651 127.3L1654 124.9L1657 122.6L1660 116.1L1663 117.4L1666 115.7L1669 107.9L1672 106.3L1675 105.7L1678 102.4L1681 100.5L1684 104.2L1687 97.3L1690 100.9L1693 97.5L1696 96.8L1699 95.6L1702 91.3L1705 92.9L1708 89.1L1711 85.3L1714 81.5L1717 82L1720 78.1L1723 80.8L1726 85.1L1729 87.7L1732 87.9L1735 84L1738 83.3L1741 86.4L1744 89L1747 87L1750 87.3L1752.7 84.9" fill="none" stroke="#000" stroke-opacity="0.29" stroke-width="1.1" stroke-linejoin="round"/>
<path d="M1144 274.1L1147 270.8L1150 267.6L1153 269.6L1156 268L1159 267.8L1162 266.7L1165 267.1L1168 268.2L1171 265.6L1174 264.6L1177 267.1L1180 271.3L1183 267.9L1186 262.1L1189 254.4L1192 251L1195 252.2L1198 252.4L1201 256L1204 251.9L1207 255.8L1210 260.6L1213 257.5L1216 255.8L1219 256.5L1222 256.2L1225 254.1L1228 250.6L1231 254.6L1234 257.8L1237 251.4L1240 249.5L1243 248.4L1246 251.7L1249 248.1L1252 247.8L1255 245L1258 243L1261 243.1L1264 241.8L1267 245.5L1270 246L1273 247L1276 247.2L1279 249.9L1282 253.5L1285 246.5L1288 248.7L1291 246.3L1294 242.9L1297 246.9L1300 246.9L1303 244.7L1306 243.3L1309 244.9L1312 247L1315 248.5L1318 244.9L1321 250.6L1324 248.3L1327 247.7L1330 249.6L1333 249.3L1336 256.3L1339 251.5L1342 250.3L1345 252.8L1348 251.2L1351 252.5L1354 251.3L1357 258.4L1360 255.4L1363 257.1L1366 258.1L1369 257L1372 255.4L1375 254.6L1378 252.4L1381 258.7L1384 256.2L1387 256.3L1390 256.3L1393 254.6L1396 260.3L1399 260.7L1402 253.4L1405 250L1408 251.2L1411 249L1414 246.2L1417 246.7L1420 242.9L1423 248.1L1426 242.9L1429 242.7L1432 242.6L1435 240.7L1438 237.8L1441 235L1444 231.5L1447 226.1L1450 219.8L1453 219.5L1456 217.1L1459 220.2L1462 217.8L1465 215.5L1468 212.4L1471 211.8L1474 214.7L1477 209.7L1480 203.5L1483 203.8L1486 203.4L1489 204.5L1492 207.1L1495 202.8L1498 195.7L1501 193.1L1504 197L1507 193.6L1510 195.4L1513 192.5L1516 192.1L1519 188.2L1522 190.4L1525 185.9L1528 183.1L1531 178.2L1534 180.8L1537 181.9L1540 176.3L1543 177L1546 175.2L1549 179L1552 183.6L1555 184L1558 179.1L1561 182.4L1564 181.2L1567 185.6L1570 184.7L1573 179.9L1576 171.3L1579 175.3L1582 170.3L1585 175.9L1588 173.7L1591 174.4L1594 169.8L1597 171.2L1600 159.6L1603 159.7L1606 163.5L1609 160.7L1612 167.9L1615 167.8L1618 168.6L1621 166.3L1624 161.7L1627 158.1L1630 158.7L1633 149.4L1636 150.3L1639 151L1642 153.1L1645 150L1648 146.6L1651 145.4L1654 144.9L1657 147.8L1660 146.9L1663 144.4L1666 142.6L1669 143.8L1672 141.7L1675 138.7L1678 137.6L1681 135.6L1684 136.7L1687 134.5L1690 138.8L1693 135.1L1696 130.6L1699 127.2L1702 126.2L1705 132.4L1708 129.5L1711 132.8L1714 130.5L1717 134.9L1720 133.3L1723 138.9L1726 137.2L1729 133.6L1732 131.5L1735 132.9L1738 131.5L1741 133.1L1744 129.9L1747 134.4L1750 130.6L1752.7 136.2" fill="none" stroke="#000" stroke-opacity="0.29" stroke-width="1.1" stroke-linejoin="round"/>
<path d="M1144 275.4L1147 273.5L1150 268.6L1153 267.6L1156 273.7L1159 273.6L1162 271.2L1165 269.3L1168 273.7L1171 270.8L1174 273L1177 273.6L1180 270.7L1183 273.6L1186 271.3L1189 272.3L1192 269.2L1195 269.6L1198 267L1201 268L1204 267.3L1207 271L1210 268L1213 269.2L1216 264.3L1219 266.1L1222 263.4L1225 264.8L1228 264.3L1231 260.3L1234 259L1237 259.5L1240 254.6L1243 255.1L1246 248.6L1249 250.4L1252 251.5L1255 248.9L1258 248.6L1261 246.2L1264 244.5L1267 247L1270 249.5L1273 251.3L1276 252.9L1279 254.2L1282 251L1285 254.8L1288 254L1291 252.9L1294 255.2L1297 257.5L1300 261.2L1303 261.5L1306 259.6L1309 265.5L1312 261.2L1315 257.2L1318 259.2L1321 257.2L1324 263.9L1327 268.4L1330 267.4L1333 266.3L1336 265.1L1339 263.3L1342 262.9L1345 265L1348 263.9L1351 263.7L1354 264.9L1357 265.9L1360 261.3L1363 264L1366 258.2L1369 258.8L1372 256.2L1375 258.5L1378 262.3L1381 258.2L1384 257L1387 257.1L1390 253.2L1393 250.7L1396 249.3L1399 251L1402 248.9L1405 248.3L1408 250.7L1411 248.4L1414 254.1L1417 255.5L1420 257.4L1423 255.4L1426 255.2L1429 250.7L1432 247L1435 245L1438 243.9L1441 239.4L1444 236.6L1447 232.5L1450 229.5L1453 223.8L1456 222L1459 214L1462 213.4L1465 208.4L1468 208.1L1471 208.6L1474 206.2L1477 204.2L1480 208.2L1483 207L1486 206.6L1489 202.8L1492 199.8L1495 199.2L1498 196.5L1501 194.5L1504 197.9L1507 192.6L1510 193.7L1513 192.4L1516 192.6L1519 191.2L1522 189.9L1525 188.1L1528 189L1531 188.4L1534 184.3L1537 186L1540 188.6L1543 191.2L1546 185.9L1549 185.1L1552 184.1L1555 183.4L1558 183.3L1561 184.2L1564 186.4L1567 181.5L1570 186.4L1573 184.7L1576 187.8L1579 189L1582 188.5L1585 185.2L1588 178.3L1591 179.4L1594 179L1597 172.9L1600 172.4L1603 169.9L1606 168.6L1609 165.7L1612 166.1L1615 168.2L1618 165.3L1621 163.1L1624 160.5L1627 163.5L1630 166.7L1633 167.5L1636 165.2L1639 162.6L1642 158L1645 155.1L1648 155.4L1651 154.3L1654 154.9L1657 153L1660 150.7L1663 146.3L1666 148L1669 144.8L1672 142.3L1675 144.1L1678 143.4L1681 138.9L1684 139.5L1687 137.7L1690 137.1L1693 141.1L1696 141.4L1699 137.9L1702 140.7L1705 142.8L1708 139.9L1711 138.7L1714 140.8L1717 134.3L1720 135.5L1723 142L1726 139.8L1729 138.5L1732 137.6L1735 142.7L1738 144.7L1741 144.6L1744 145.1L1747 148.6L1750 145.6L1752.7 147.6" fill="none" stroke="#000" stroke-opacity="0.29" stroke-width="1.1" stroke-linejoin="round"/>
<path d="M1144 298.4L1147 294.2L1150 290.3L1153 290.9L1156 288.2L1159 287.1L1162 286.2L1165 285.3L1168 285.1L1171 285.3L1174 289.9L1177 286.5L1180 281.9L1183 289.7L1186 285L1189 285.3L1192 282.3L1195 280.7L1198 281L1201 280.6L1204 282.6L1207 279.2L1210 280L1213 278.9L1216 278.5L1219 280L1222 274.2L1225 274.2L1228 273.2L1231 274.4L1234 270.4L1237 269L1240 265.6L1243 263.5L1246 264.4L1249 266.6L1252 260.2L1255 265.4L1258 264.3L1261 262.2L1264 267.4L1267 265.4L1270 268.5L1273 268.4L1276 273.2L1279 271.1L1282 270L1285 273.9L1288 269.2L1291 273.2L1294 273.4L1297 275L1300 272.3L1303 273.5L1306 273.4L1309 272.5L1312 273.1L1315 273.6L1318 269.5L1321 275.1L1324 271.9L1327 271.7L1330 267.8L1333 269.9L1336 266.5L1339 269.7L1342 274.5L1345 275.8L1348 277.3L1351 279L1354 276.6L1357 280.2L1360 282.2L1363 282.4L1366 277.1L1369 275.2L1372 277.5L1375 280.2L1378 279.2L1381 280L1384 278.1L1387 274.5L1390 280.5L1393 276.9L1396 274.3L1399 268.6L1402 271.1L1405 265L1408 265.7L1411 267.2L1414 262.8L1417 261.4L1420 266.2L1423 263.8L1426 261.6L1429 259.5L1432 257.3L1435 260.1L1438 257.3L1441 252.5L1444 252.7L1447 254.1L1450 254L1453 254.9L1456 254.3L1459 249.6L1462 246.6L1465 241.4L1468 235.2L1471 235.4L1474 233.7L1477 226.8L1480 223.3L1483 226.8L1486 222.3L1489 224.2L1492 217L1495 215.4L1498 213.4L1501 211.5L1504 214.6L1507 215.3L1510 217L1513 215.8L1516 220.3L1519 218.5L1522 217.2L1525 211.1L1528 210.2L1531 208.8L1534 203.2L1537 198.5L1540 206.7L1543 206.4L1546 208.3L1549 208.2L1552 206L1555 208.2L1558 209L1561 211.3L1564 208.5L1567 206.2L1570 204.5L1573 204.7L1576 205.8L1579 199.9L1582 197.3L1585 196.9L1588 199.2L1591 197.9L1594 195.8L1597 194.6L1600 195.8L1603 187.3L1606 185.7L1609 186.4L1612 185.4L1615 185.8L1618 189.9L1621 188.3L1624 179.7L1627 181.3L1630 181.6L1633 177.1L1636 177.5L1639 177.6L1642 173L1645 173.1L1648 171.9L1651 169.6L1654 167.4L1657 172.6L1660 169.9L1663 174L1666 173.2L1669 173.2L1672 171.8L1675 167.3L1678 169L1681 164.7L1684 167L1687 165.4L1690 166.9L1693 166.7L1696 160.5L1699 160L1702 158.3L1705 155.3L1708 158.8L1711 153.8L1714 152L1717 147.6L1720 150.8L1723 154L1726 155.3L1729 155L1732 152.2L1735 153.7L1738 153.9L1741 149.6L1744 150.7L1747 148.9L1750 155.4L1752.7 157.9" fill="none" stroke="#000" stroke-opacity="0.29" stroke-width="1.1" stroke-linejoin="round"/>
<path d="M1144 317.1L1147 314.9L1150 312.7L1153 310.1L1156 306.8L1159 310.6L1162 309.1L1165 305.9L1168 310.3L1171 307.2L1174 305.9L1177 303.6L1180 300.8L1183 298.6L1186 296.3L1189 295.1L1192 291.7L1195 293.8L1198 292.9L1201 294.3L1204 296.6L1207 289.8L1210 291.3L1213 289.6L1216 289.7L1219 292.3L1222 292.9L1225 292.5L1228 289.9L1231 290.5L1234 292.5L1237 293.2L1240 289.5L1243 287.9L1246 285.5L1249 285.7L1252 289.2L1255 284.6L1258 288.6L1261 286.1L1264 281.8L1267 278.3L1270 281L1273 284.4L1276 283.1L1279 285.8L1282 282L1285 286.1L1288 284.9L1291 287.6L1294 285L1297 284.5L1300 290.3L1303 287L1306 281.1L1309 281.4L1312 281.6L1315 281.1L1318 284.7L1321 278.4L1324 282L1327 283.8L1330 282.5L1333 283.4L1336 279.9L1339 280.2L1342 281.9L1345 282.5L1348 285.3L1351 290.1L1354 286.9L1357 296.1L1360 294.6L1363 297.6L1366 302.5L1369 300.8L1372 297.8L1375 293.9L1378 293.2L1381 290.9L1384 287.1L1387 291.7L1390 291.3L1393 290.1L1396 282.5L1399 280.3L1402 279.4L1405 282L1408 283.8L1411 280L1414 279.6L1417 278.5L1420 284L1423 280L1426 280.7L1429 280.4L1432 283.2L1435 283.9L1438 282.2L1441 280.1L1444 274.1L1447 274.9L1450 272.2L1453 267.4L1456 262.1L1459 263.7L1462 259.1L1465 261.3L1468 255.4L1471 253.6L1474 251.6L1477 250.4L1480 251.1L1483 250.1L1486 248.1L1489 248.6L1492 250.4L1495 247.5L1498 249.1L1501 245L1504 243.9L1507 243.9L1510 249.1L1513 245.9L1516 248L1519 244.8L1522 243.2L1525 241.7L1528 237L1531 232.3L1534 229.1L1537 229L1540 230.5L1543 228.1L1546 229.6L1549 228.5L1552 233.5L1555 231.4L1558 234.3L1561 235.3L1564 236.3L1567 232.5L1570 231.3L1573 227.3L1576 228L1579 223.1L1582 224.1L1585 219.2L1588 216.8L1591 211.5L1594 214.9L1597 213.7L1600 208.6L1603 208.5L1606 210.6L1609 208.1L1612 203.1L1615 199.4L1618 199.7L1621 201.5L1624 202.6L1627 202.3L1630 203.8L1633 201.9L1636 200.3L1639 200L1642 197.5L1645 197L1648 198.2L1651 193.9L1654 196.2L1657 190.8L1660 186.4L1663 189.2L1666 189.4L1669 189.2L1672 186.7L1675 181.2L1678 182.4L1681 180.5L1684 173.2L1687 177.8L1690 179.8L1693 177.6L1696 172.6L1699 172L1702 172.7L1705 173.2L1708 169L1711 170.2L1714 171.8L1717 166.1L1720 161.1L1723 166.9L1726 164L1729 161.7L1732 160.5L1735 159.7L1738 159.7L1741 161.4L1744 161.7L1747 162L1750 159.6L1752.7 166.2" fill="none" stroke="#000" stroke-opacity="0.29" stroke-width="1.1" stroke-linejoin="round"/>
<path d="M1144 327.2L1147 324.6L1150 319.7L1153 318.8L1156 313.2L1159 316.8L1162 317.7L1165 318.1L1168 321.8L1171 321.1L1174 314.9L1177 312.2L1180 313.1L1183 310L1186 314.3L1189 310.2L1192 310.4L1195 305L1198 303.6L1201 302.5L1204 304.3L1207 301.2L1210 299.4L1213 296.9L1216 292.3L1219 291.8L1222 291.7L1225 291.2L1228 289.2L1231 288.8L1234 291.4L1237 296.5L1240 289.3L1243 291.1L1246 289.7L1249 292.1L1252 291.9L1255 293.4L1258 291.9L1261 290.3L1264 291.9L1267 286L1270 288.4L1273 285.3L1276 285.6L1279 288.5L1282 291.8L1285 292.6L1288 298L1291 299.5L1294 293.9L1297 296.5L1300 295.8L1303 293.6L1306 296.1L1309 294.4L1312 295.6L1315 290.2L1318 291.1L1321 295L1324 299.8L1327 300.3L1330 300.8L1333 298L1336 299.2L1339 301.1L1342 298.8L1345 298.1L1348 299.3L1351 297.1L1354 302.2L1357 301.1L1360 303L1363 305L1366 304.8L1369 299.6L1372 295.4L1375 295.6L1378 296.1L1381 295.4L1384 295.7L1387 296.7L1390 294.5L1393 299.5L1396 300.3L1399 297.3L1402 299.7L1405 296L1408 296.4L1411 294.2L1414 293.6L1417 296.1L1420 294.3L1423 288.8L1426 289.3L1429 288.3L1432 288.9L1435 285.5L1438 285.9L1441 281.9L1444 280.1L1447 281.7L1450 274L1453 269.8L1456 266.1L1459 264.2L1462 261.9L1465 265L1468 266.1L1471 265.9L1474 262.1L1477 265.6L1480 261.6L1483 260.3L1486 261.8L1489 260.1L1492 257.1L1495 254.2L1498 255.9L1501 251.4L1504 250.9L1507 248.5L1510 246.9L1513 248.9L1516 246.5L1519 244.4L1522 240L1525 239.8L1528 238.5L1531 240L1534 235.9L1537 233L1540 238.8L1543 231.4L1546 231.1L1549 231.1L1552 230.8L1555 235.9L1558 236L1561 235L1564 238.9L1567 234.9L1570 237.3L1573 237.1L1576 235L1579 233L1582 231.3L1585 226.6L1588 229.6L1591 227.3L1594 226.6L1597 228.8L1600 226.1L1603 219.9L1606 215.6L1609 216.8L1612 218.5L1615 216.3L1618 213.3L1621 215.3L1624 214.3L1627 209.4L1630 211.8L1633 210.9L1636 205.8L1639 202.5L1642 199.6L1645 200.4L1648 198.4L1651 195.6L1654 195.3L1657 190.3L1660 192.7L1663 192.3L1666 190.1L1669 191.1L1672 188L1675 188.6L1678 184.7L1681 182.6L1684 184.8L1687 184.7L1690 185.2L1693 184.3L1696 187.1L1699 186.5L1702 184.4L1705 188.3L1708 185.4L1711 180.3L1714 174.4L1717 169.3L1720 169.9L1723 174L1726 173.5L1729 175.1L1732 175.1L1735 172.6L1738 175.8L1741 176.4L1744 173.1L1747 171.2L1750 174.2L1752.7 173.5" fill="none" stroke="#000" stroke-opacity="0.29" stroke-width="1.1" stroke-linejoin="round"/>
<path d="M1144 351.1L1147 345.7L1150 342L1153 340L1156 336.9L1159 336L1162 341L1165 335.8L1168 335.6L1171 336.4L1174 335.7L1177 332.2L1180 331.6L1183 325.6L1186 329.6L1189 329.1L1192 326.1L1195 326L1198 322.8L1201 321L1204 322.7L1207 318.9L1210 321.9L1213 323.6L1216 316.6L1219 313.6L1222 317.3L1225 318.2L1228 320L1231 322.3L1234 319.5L1237 316.4L1240 315.8L1243 313.4L1246 312.5L1249 317L1252 316.6L1255 315.2L1258 310.3L1261 313.5L1264 309.6L1267 307.7L1270 302.8L1273 302.9L1276 300.2L1279 301.2L1282 301.4L1285 306.5L1288 301L1291 303L1294 307.2L1297 304.1L1300 304.9L1303 308.2L1306 303.9L1309 306.8L1312 301.4L1315 304.8L1318 304.3L1321 307.5L1324 311.2L1327 314.1L1330 314.2L1333 310.3L1336 312.6L1339 307L1342 308.5L1345 310.9L1348 304.1L1351 309.8L1354 307.1L1357 308.6L1360 306.1L1363 305.6L1366 305.6L1369 303.7L1372 307.1L1375 306.4L1378 308L1381 305.9L1384 306.1L1387 301.8L1390 304.2L1393 302.2L1396 306.2L1399 305.9L1402 302.9L1405 297.4L1408 299.4L1411 301.9L1414 304.6L1417 306.6L1420 310.2L1423 307.8L1426 310.9L1429 303.3L1432 300.6L1435 295.9L1438 296.7L1441 292L1444 289.5L1447 288.1L1450 285.1L1453 280.9L1456 279.6L1459 274.9L1462 278.9L1465 275.4L1468 276L1471 271.4L1474 270.4L1477 272.4L1480 275L1483 273.7L1486 270.5L1489 270.7L1492 267.6L1495 269.7L1498 267L1501 260.2L1504 260.2L1507 257.4L1510 263.6L1513 257.5L1516 255.2L1519 254.7L1522 250.3L1525 253.2L1528 249.4L1531 245.3L1534 250.7L1537 247.4L1540 249.2L1543 251.2L1546 247.1L1549 243.2L1552 248.3L1555 247.3L1558 250.8L1561 256.6L1564 256.2L1567 253L1570 248.6L1573 249.9L1576 251.6L1579 244.6L1582 239.2L1585 236.4L1588 235.6L1591 233L1594 232.5L1597 225.8L1600 222.2L1603 217.1L1606 218.6L1609 225.7L1612 225.6L1615 224.2L1618 225.7L1621 218.4L1624 218.2L1627 218.7L1630 223L1633 217.5L1636 216.1L1639 212.1L1642 210.7L1645 206.3L1648 206.7L1651 204.8L1654 202.8L1657 206.4L1660 204.4L1663 203.2L1666 198.4L1669 192.7L1672 193.6L1675 195.5L1678 189.1L1681 188.1L1684 190L1687 191.6L1690 190.9L1693 191.4L1696 189.4L1699 188.2L1702 188.7L1705 191.1L1708 189L1711 188.3L1714 185.2L1717 182.8L1720 189.9L1723 191L1726 189L1729 186.2L1732 184.4L1735 185.3L1738 185.7L1741 185.6L1744 189L1747 190.6L1750 191.2L1752.7 188.2" fill="none" stroke="#000" stroke-opacity="0.29" stroke-width="1.1" stroke-linejoin="round"/>
<path d="M1144 355.4L1147 355.9L1150 358.1L1153 354L1156 354.4L1159 351L1162 348.7L1165 345.6L1168 349.3L1171 348.7L1174 349.4L1177 345.6L1180 339.2L1183 340.3L1186 341.8L1189 337.5L1192 334.8L1195 336.2L1198 339.3L1201 337.3L1204 331.5L1207 332L1210 328.6L1213 333.9L1216 330.2L1219 324.8L1222 319.9L1225 320.5L1228 322.2L1231 324.5L1234 327.7L1237 326.1L1240 327.2L1243 321.2L1246 321.6L1249 325.2L1252 328L1255 326.6L1258 325.7L1261 325.5L1264 323.3L1267 322L1270 319L1273 323.5L1276 319.2L1279 325L1282 323.4L1285 317.1L1288 319.7L1291 320.8L1294 322.4L1297 325.1L1300 324.3L1303 327.5L1306 327.8L1309 326.4L1312 326L1315 332.7L1318 335.2L1321 331.4L1324 328.5L1327 326.7L1330 326.3L1333 322L1336 323.1L1339 326.8L1342 326.1L1345 328.4L1348 331.4L1351 329L1354 330.8L1357 331.4L1360 332.6L1363 328.9L1366 329.4L1369 323.9L1372 319.1L1375 315.5L1378 315.9L1381 316.4L1384 312.1L1387 318.5L1390 314.7L1393 312L1396 310.1L1399 310.3L1402 307L1405 307.4L1408 306.7L1411 307.3L1414 306.4L1417 304.7L1420 302.4L1423 306.9L1426 302.1L1429 296.4L1432 300L1435 300L1438 300.3L1441 298.5L1444 292.9L1447 290L1450 286.7L1453 284.5L1456 284.1L1459 283.5L1462 279.2L1465 276.2L1468 272.8L1471 273.1L1474 275L1477 276.2L1480 275.8L1483 276.1L1486 274.6L1489 268.9L1492 273.9L1495 268.2L1498 264.8L1501 267.1L1504 265.6L1507 265.2L1510 261.7L1513 261.6L1516 262.2L1519 258.5L1522 258.8L1525 256.6L1528 253.1L1531 254.9L1534 248.4L1537 258.8L1540 253.8L1543 254.9L1546 257.9L1549 255.9L1552 253.7L1555 256L1558 260.5L1561 260.6L1564 262.3L1567 258.5L1570 255.2L1573 257.8L1576 257L1579 250.5L1582 250.5L1585 251.3L1588 244.5L1591 244.4L1594 239.4L1597 236.4L1600 239.9L1603 239.2L1606 235.6L1609 237.6L1612 234.4L1615 232.9L1618 230.9L1621 224L1624 229.3L1627 231.1L1630 235.8L1633 233.7L1636 231.5L1639 232.2L1642 227.2L1645 227.7L1648 218.7L1651 218.8L1654 216.6L1657 218.1L1660 217.1L1663 216.6L1666 212.2L1669 215.8L1672 209.2L1675 209.6L1678 211.7L1681 211L1684 207.3L1687 203.9L1690 203.3L1693 201L1696 202.6L1699 196.5L1702 198.6L1705 196L1708 191.2L1711 193.8L1714 188.5L1717 182.2L1720 181.2L1723 181.3L1726 183L1729 185.2L1732 185.1L1735 187.3L1738 188.1L1741 191.9L1744 191.1L1747 194.8L1750 194.1L1752.7 195.3" fill="none" stroke="#000" stroke-opacity="0.29" stroke-width="1.1" stroke-linejoin="round"/>
<path d="M1144 268.5L1147 268.5L1150 268.6L1153 268.4L1156 265.3L1159 260.8L1162 263.7L1165 261L1168 256.4L1171 255.3L1174 250.7L1177 251.1L1180 252.8L1183 254.9L1186 250.9L1189 253.5L1192 250L1195 250.7L1198 248.8L1201 244.5L1204 245.2L1207 246.1L1210 242.3L1213 239.8L1216 236.4L1219 232.7L1222 239L1225 240.6L1228 240.8L1231 239.3L1234 244.5L1237 246.2L1240 249.6L1243 244.6L1246 242.6L1249 245.3L1252 245.4L1255 241.3L1258 245.5L1261 246.9L1264 247.8L1267 245.4L1270 243.9L1273 248.2L1276 246.7L1279 242.8L1282 247.6L1285 247.4L1288 246.7L1291 247.6L1294 251.4L1297 253.2L1300 252.5L1303 246.8L1306 248.2L1309 247.4L1312 250.1L1315 247.4L1318 249.5L1321 250.1L1324 250.5L1327 250.1L1330 248.7L1333 250.8L1336 248.3L1339 248.8L1342 248L1345 244.6L1348 246.8L1351 252.2L1354 253.4L1357 256.8L1360 257.4L1363 255.6L1366 253.8L1369 249L1372 248.6L1375 246.4L1378 240.6L1381 242.5L1384 244.5L1387 241.1L1390 235.5L1393 235.5L1396 237.4L1399 238.5L1402 239.5L1405 239.1L1408 241.8L1411 236.6L1414 238.8L1417 239.5L1420 239.1L1423 235L1426 233.9L1429 233.1L1432 230.4L1435 226.3L1438 226.5L1441 224.8L1444 219.6L1447 214.3L1450 214.6L1453 209.6L1456 208.4L1459 208.9L1462 204.7L1465 204.1L1468 203L1471 206.8L1474 204L1477 200.9L1480 200.4L1483 206.3L1486 205.8L1489 206.4L1492 203.6L1495 206.3L1498 200L1501 197L1504 192.7L1507 194.6L1510 193.2L1513 190.4L1516 196L1519 195.5L1522 195.3L1525 195.6L1528 199.1L1531 194.8L1534 194.3L1537 191.3L1540 194L1543 196.4L1546 200.2L1549 196.8L1552 199L1555 197.3L1558 195.7L1561 192.4L1564 194.1L1567 191.5L1570 189.3L1573 186L1576 184.5L1579 187.7L1582 186.5L1585 184.5L1588 178.7L1591 176.5L1594 174.7L1597 171.8L1600 172L1603 173.4L1606 176.2L1609 177.5L1612 175.6L1615 171.2L1618 168L1621 169.4L1624 169.3L1627 163.7L1630 160.3L1633 160.6L1636 157.1L1639 163.4L1642 166.4L1645 161.9L1648 158.7L1651 159.2L1654 152.8L1657 154.7L1660 153.5L1663 152.8L1666 149L1669 147.9L1672 145.5L1675 146L1678 145.1L1681 148.7L1684 140.3L1687 140.5L1690 138.1L1693 138.2L1696 131.9L1699 130.2L1702 134.7L1705 129.3L1708 130.6L1711 132L1714 127.2L1717 125.9L1720 121.9L1723 124.2L1726 123.7L1729 121.4L1732 118.1L1735 117.7L1738 114.4L1741 112.4L1744 117.8L1747 115L1750 112.3L1752.7 114.1" fill="none" stroke="#48f52a" stroke-opacity="0.38" stroke-width="1.1" stroke-linejoin="round"/>
<path d="M1144 271.9L1147 272.4L1150 266.9L1153 263.7L1156 270.6L1159 267.3L1162 260.3L1165 262.3L1168 264L1171 258.9L1174 260.8L1177 259L1180 263.8L1183 257.5L1186 260.5L1189 258.8L1192 260.2L1195 261.2L1198 262.3L1201 260.1L1204 261.6L1207 260.8L1210 260.3L1213 260.6L1216 254.3L1219 254.2L1222 250.6L1225 250.9L1228 249.1L1231 247.3L1234 248L1237 252.8L1240 252L1243 254L1246 255.1L1249 254.6L1252 256.6L1255 253L1258 252.9L1261 254.4L1264 255.6L1267 256L1270 259.7L1273 262.1L1276 263.3L1279 265L1282 260.4L1285 262.8L1288 262L1291 262.4L1294 262.9L1297 267.1L1300 264.2L1303 262.5L1306 266.4L1309 263.5L1312 262.3L1315 258.7L1318 256.7L1321 255.8L1324 264.3L1327 257.1L1330 258.3L1333 259.1L1336 259.1L1339 258.8L1342 258.8L1345 258.9L1348 259.1L1351 261.5L1354 262.8L1357 260.5L1360 262.3L1363 262.8L1366 263.5L1369 265.4L1372 261.7L1375 261.7L1378 262.7L1381 262.6L1384 261.2L1387 255.5L1390 255.5L1393 256.2L1396 254.9L1399 249L1402 249L1405 253.3L1408 251.5L1411 251.8L1414 250.8L1417 244.7L1420 244.7L1423 243.8L1426 240.1L1429 235.2L1432 239.1L1435 234.8L1438 230.5L1441 231.4L1444 229.8L1447 232.2L1450 225.3L1453 219.3L1456 218.9L1459 213.9L1462 213.5L1465 211.8L1468 214.2L1471 215.2L1474 216.9L1477 216.5L1480 211.1L1483 213.1L1486 213.8L1489 218.4L1492 216.3L1495 219L1498 217.6L1501 216L1504 215.6L1507 217L1510 222L1513 222.7L1516 221.4L1519 220.2L1522 221.3L1525 220.3L1528 223.2L1531 220.5L1534 217.5L1537 222.6L1540 219.4L1543 221.5L1546 220L1549 218.7L1552 217.7L1555 221L1558 220.8L1561 221.2L1564 218.2L1567 216.3L1570 216.8L1573 213.9L1576 212.4L1579 215.6L1582 217.6L1585 212.4L1588 212.6L1591 214.9L1594 211.9L1597 207.8L1600 207.3L1603 212.3L1606 213.8L1609 209.1L1612 209.3L1615 204.3L1618 196.9L1621 192.4L1624 195.2L1627 197.6L1630 196L1633 190L1636 189.2L1639 186.9L1642 184.7L1645 180.4L1648 181.7L1651 181.2L1654 180.4L1657 181.3L1660 181.1L1663 179.6L1666 175.2L1669 178.8L1672 170.5L1675 172.1L1678 172.8L1681 170.8L1684 166.1L1687 161.6L1690 154.1L1693 154.7L1696 152.8L1699 147.1L1702 147.2L1705 151L1708 146.5L1711 139.6L1714 142.3L1717 146.9L1720 140.4L1723 135.8L1726 133.1L1729 134L1732 129.7L1735 128.7L1738 125.3L1741 135L1744 136L1747 135.9L1750 135L1752.7 130.6" fill="none" stroke="#48f52a" stroke-opacity="0.38" stroke-width="1.1" stroke-linejoin="round"/>
<path d="M1144 269L1147 277.2L1150 277.1L1153 277.7L1156 275.7L1159 279.1L1162 277.5L1165 273.6L1168 268.5L1171 265.7L1174 265.3L1177 268.3L1180 266.3L1183 268.5L1186 267.5L1189 266.1L1192 269.4L1195 264.2L1198 262.9L1201 263.8L1204 261.1L1207 264.1L1210 258.5L1213 255.1L1216 255.9L1219 255.2L1222 254.8L1225 262.6L1228 262.8L1231 261.8L1234 260.1L1237 261.8L1240 265.6L1243 265.9L1246 262.6L1249 257.1L1252 255.9L1255 260.2L1258 261.2L1261 268.4L1264 269.9L1267 273.2L1270 271.5L1273 276.8L1276 281.6L1279 277.5L1282 281.5L1285 282.9L1288 282.4L1291 285.1L1294 280L1297 281.3L1300 282.5L1303 283.3L1306 278.4L1309 279.5L1312 273L1315 277L1318 277.3L1321 282.2L1324 277.7L1327 282.7L1330 281.4L1333 282.2L1336 282.2L1339 280.7L1342 278.2L1345 279.5L1348 283.4L1351 286.8L1354 288.3L1357 288.9L1360 288L1363 280.6L1366 280.1L1369 278.5L1372 274.2L1375 270.6L1378 267.5L1381 271L1384 273.6L1387 274.9L1390 271.8L1393 268.9L1396 269.9L1399 265.6L1402 268.5L1405 265.6L1408 267.9L1411 265.2L1414 262.7L1417 257.6L1420 257.1L1423 257.1L1426 260.9L1429 257.8L1432 253.6L1435 253.7L1438 249.4L1441 245L1444 242.7L1447 242.7L1450 238.2L1453 237.2L1456 237.4L1459 233.2L1462 232.6L1465 230.2L1468 231L1471 231L1474 230.6L1477 229.9L1480 228.8L1483 231.1L1486 229.1L1489 232.9L1492 236.3L1495 232.4L1498 227.4L1501 224.5L1504 221.9L1507 222.3L1510 220.8L1513 224.7L1516 228.3L1519 228.7L1522 229L1525 224.2L1528 227.1L1531 227.8L1534 231.2L1537 228.1L1540 226.8L1543 223.2L1546 221.3L1549 221L1552 225L1555 228L1558 222L1561 222.3L1564 219.1L1567 216.6L1570 221.2L1573 217.4L1576 218.3L1579 216.6L1582 217.9L1585 216.7L1588 212.9L1591 214.4L1594 211.3L1597 206.7L1600 208.5L1603 204.3L1606 198.6L1609 202.2L1612 197.1L1615 193.4L1618 197L1621 194.1L1624 193.2L1627 193L1630 193.6L1633 190.2L1636 193.1L1639 190.2L1642 189.5L1645 189.5L1648 187.7L1651 186.6L1654 187L1657 182.2L1660 181L1663 180L1666 178.7L1669 183.3L1672 180.6L1675 180.9L1678 179.7L1681 181.2L1684 176.3L1687 171.1L1690 170.7L1693 168.2L1696 162.7L1699 165.8L1702 161.4L1705 160.7L1708 159.9L1711 161.8L1714 156.6L1717 158.8L1720 152.5L1723 151.5L1726 141.8L1729 138.2L1732 139L1735 136.8L1738 138.5L1741 141.4L1744 143.2L1747 145.9L1750 142L1752.7 146" fill="none" stroke="#48f52a" stroke-opacity="0.38" stroke-width="1.1" stroke-linejoin="round"/>
<path d="M1144 292.7L1147 293.4L1150 292.7L1153 289.4L1156 290.7L1159 290.6L1162 286.5L1165 286.8L1168 286.8L1171 290.7L1174 293L1177 287.7L1180 285.9L1183 285.8L1186 285.8L1189 280.4L1192 280.9L1195 277.5L1198 277.9L1201 280.1L1204 284.2L1207 278.8L1210 279.9L1213 276.9L1216 272.8L1219 277.1L1222 283.6L1225 285.9L1228 287.4L1231 286.8L1234 291.1L1237 295.3L1240 285.7L1243 287.2L1246 287L1249 288.5L1252 290.1L1255 285.5L1258 285.7L1261 283.1L1264 284.4L1267 289.8L1270 290.4L1273 289.7L1276 290.9L1279 291.9L1282 286.8L1285 291.6L1288 291.6L1291 290.9L1294 293.6L1297 296.5L1300 301.8L1303 295.8L1306 294.4L1309 294.1L1312 293.6L1315 291L1318 295.9L1321 291.5L1324 290.4L1327 290.1L1330 296.3L1333 295.3L1336 298.1L1339 296.6L1342 299L1345 298L1348 296.4L1351 290.6L1354 297L1357 298L1360 294.4L1363 294.7L1366 290.5L1369 289.6L1372 288.4L1375 290.9L1378 291.5L1381 287.6L1384 288.1L1387 283.6L1390 277.1L1393 276.4L1396 278.6L1399 273.9L1402 278L1405 278.6L1408 279.4L1411 274.5L1414 266.7L1417 260.5L1420 262.5L1423 262.2L1426 258.4L1429 256.9L1432 252.5L1435 251.9L1438 245.9L1441 240.4L1444 238.1L1447 238.4L1450 237.8L1453 234.1L1456 235.1L1459 231.8L1462 236.8L1465 237.1L1468 235.5L1471 238.3L1474 240.7L1477 237.4L1480 241.3L1483 235.3L1486 238.2L1489 234.5L1492 231L1495 229.9L1498 229.9L1501 228.8L1504 230.9L1507 235.2L1510 235.4L1513 228.9L1516 235.5L1519 235.8L1522 236.1L1525 235.6L1528 237.3L1531 239.6L1534 237.4L1537 240.2L1540 242.4L1543 243.5L1546 243.2L1549 241.9L1552 243.5L1555 243.6L1558 241L1561 239.5L1564 239.1L1567 238.9L1570 239.9L1573 239.7L1576 235.4L1579 232.1L1582 227.1L1585 229.5L1588 229L1591 227.8L1594 227.5L1597 226.2L1600 224.1L1603 222.3L1606 220.4L1609 219.6L1612 214.7L1615 212.3L1618 210L1621 216.1L1624 216.3L1627 213.9L1630 216.6L1633 213.8L1636 211.1L1639 206.4L1642 210.6L1645 206.2L1648 201.9L1651 204.1L1654 207.7L1657 201.7L1660 199.1L1663 196.2L1666 201.2L1669 197.3L1672 201.7L1675 197.5L1678 196.8L1681 199L1684 192.7L1687 189.3L1690 189.8L1693 185.2L1696 185.6L1699 183.4L1702 184.9L1705 183L1708 180.8L1711 178.7L1714 176.6L1717 176.1L1720 172.4L1723 168L1726 168.1L1729 163.7L1732 161.6L1735 163.1L1738 163.7L1741 163.9L1744 163.9L1747 162.6L1750 164.9L1752.7 164.1" fill="none" stroke="#48f52a" stroke-opacity="0.38" stroke-width="1.1" stroke-linejoin="round"/>
<path d="M1144 303L1147 297.8L1150 298L1153 302.6L1156 298.5L1159 295.9L1162 296.7L1165 297.8L1168 294.5L1171 294L1174 294.8L1177 292.4L1180 293.4L1183 290.1L1186 291.6L1189 292.4L1192 299.2L1195 299.9L1198 297.4L1201 296.3L1204 295.6L1207 294.7L1210 295.9L1213 289.7L1216 290.3L1219 290.9L1222 291.8L1225 293.7L1228 297.6L1231 299.3L1234 300.5L1237 295.4L1240 297.4L1243 300.8L1246 299.2L1249 300.1L1252 296.7L1255 302.1L1258 304.6L1261 306L1264 304.8L1267 308.6L1270 308.5L1273 311L1276 315.1L1279 313.5L1282 314.3L1285 311.2L1288 312.5L1291 313.9L1294 315.9L1297 312.8L1300 313.4L1303 317.2L1306 316.6L1309 315.4L1312 315.9L1315 316.1L1318 310.6L1321 317.7L1324 315L1327 312.7L1330 310.3L1333 309.5L1336 314.2L1339 317.1L1342 322.3L1345 323.1L1348 323L1351 324.1L1354 323.4L1357 321.1L1360 320.5L1363 318.8L1366 316.7L1369 313.7L1372 313.5L1375 310.6L1378 311.2L1381 314.1L1384 309.2L1387 309.2L1390 309.4L1393 304.9L1396 306.1L1399 303L1402 295.2L1405 293.9L1408 295.7L1411 291.2L1414 292L1417 286.5L1420 287.1L1423 284.5L1426 282L1429 280.1L1432 274.8L1435 275.1L1438 277L1441 273.9L1444 273.7L1447 275.4L1450 273.4L1453 268.6L1456 266L1459 264.7L1462 263.1L1465 259.3L1468 257.2L1471 257.2L1474 250.9L1477 249.1L1480 244.3L1483 244.3L1486 241.8L1489 244.6L1492 242.1L1495 244L1498 247.6L1501 248.8L1504 245.3L1507 247.3L1510 246.9L1513 240.6L1516 250.1L1519 248.4L1522 251.8L1525 249.4L1528 248L1531 247L1534 248.3L1537 247.2L1540 247.9L1543 245.7L1546 246.6L1549 250.1L1552 242.8L1555 245L1558 241.1L1561 244L1564 241.8L1567 244.2L1570 240.3L1573 242.4L1576 246.4L1579 242.6L1582 239.5L1585 235.5L1588 239.1L1591 240.1L1594 240.9L1597 239L1600 232.2L1603 235.5L1606 237.2L1609 234.6L1612 231.3L1615 227.7L1618 224.9L1621 226L1624 223.1L1627 223.9L1630 219.2L1633 217.3L1636 214.2L1639 207L1642 206.7L1645 209.6L1648 208.7L1651 208.7L1654 206.9L1657 206.5L1660 205L1663 205.1L1666 202.1L1669 204.4L1672 198.3L1675 199.3L1678 201L1681 201.3L1684 194.1L1687 196.8L1690 197.8L1693 195L1696 195L1699 195.7L1702 194.6L1705 193.8L1708 192.8L1711 196.6L1714 189.3L1717 187.6L1720 188.4L1723 179.3L1726 178.7L1729 175.4L1732 170.7L1735 164.9L1738 167.2L1741 166.6L1744 164L1747 164.2L1750 161.1L1752.7 166.8" fill="none" stroke="#48f52a" stroke-opacity="0.38" stroke-width="1.1" stroke-linejoin="round"/>
<path d="M1144 317.5L1147 312.1L1150 310.5L1153 308.9L1156 314.2L1159 315.4L1162 312.3L1165 315L1168 314.1L1171 314.6L1174 317.5L1177 318.6L1180 321.2L1183 319L1186 317.9L1189 317.2L1192 320.4L1195 312.5L1198 315.6L1201 313.1L1204 308.3L1207 306.6L1210 303.6L1213 297.5L1216 298.5L1219 300.1L1222 303.7L1225 303.1L1228 303.9L1231 302.4L1234 301.9L1237 302.7L1240 301.8L1243 304.1L1246 305.2L1249 308.2L1252 308.9L1255 315.9L1258 314.6L1261 316.5L1264 317.2L1267 309.2L1270 311.8L1273 312.9L1276 313.1L1279 313.2L1282 315.5L1285 317.1L1288 317.7L1291 317.8L1294 319.2L1297 317.4L1300 321.2L1303 318.3L1306 318.2L1309 319.1L1312 317.3L1315 313.5L1318 317.3L1321 311.4L1324 315.3L1327 316L1330 312.1L1333 317.5L1336 319.2L1339 315.2L1342 313.8L1345 315.2L1348 317.4L1351 319.5L1354 319.4L1357 318.1L1360 315.6L1363 317.4L1366 317.7L1369 311.3L1372 313.5L1375 310.1L1378 310.6L1381 309L1384 309.1L1387 309.2L1390 306L1393 302.9L1396 304.6L1399 302.9L1402 301.7L1405 300.5L1408 299.2L1411 294L1414 290.8L1417 288.1L1420 284.2L1423 287.8L1426 279L1429 276.5L1432 273.9L1435 278.5L1438 277.7L1441 273.9L1444 273.1L1447 276L1450 277.5L1453 273.1L1456 271.1L1459 269L1462 266L1465 265.2L1468 262.1L1471 262.5L1474 264.4L1477 266L1480 265.9L1483 264.3L1486 265L1489 264L1492 263.3L1495 258.4L1498 262L1501 255.6L1504 256.4L1507 256.5L1510 255.2L1513 255.2L1516 258.4L1519 261.3L1522 264.5L1525 264.9L1528 261.2L1531 264.6L1534 264.8L1537 263.9L1540 259.3L1543 258.8L1546 256.8L1549 256.9L1552 258.3L1555 254.2L1558 256.4L1561 254.4L1564 251.8L1567 244.9L1570 251.2L1573 245.6L1576 245.3L1579 246.8L1582 246L1585 246.9L1588 247.4L1591 246.7L1594 243.1L1597 240L1600 244.2L1603 245L1606 246.6L1609 240.2L1612 237.3L1615 237.7L1618 231L1621 235.4L1624 232.3L1627 232.4L1630 233L1633 232L1636 234.3L1639 227.3L1642 225.6L1645 226.3L1648 224L1651 220.6L1654 225L1657 221.7L1660 222.4L1663 223.6L1666 213.7L1669 215.1L1672 213.2L1675 212.8L1678 212.4L1681 214.5L1684 206.5L1687 208.6L1690 206.9L1693 208.8L1696 203.3L1699 203.1L1702 203.7L1705 199L1708 199.5L1711 204.2L1714 198.2L1717 200.5L1720 196.6L1723 194.4L1726 192.2L1729 189.1L1732 182L1735 185.1L1738 175.9L1741 175.8L1744 179.1L1747 179L1750 179.8L1752.7 185.2" fill="none" stroke="#48f52a" stroke-opacity="0.38" stroke-width="1.1" stroke-linejoin="round"/>
<path d="M1144 345L1147 345.6L1150 338.9L1153 337.5L1156 334L1159 332.3L1162 334.5L1165 332.8L1168 333.1L1171 329.9L1174 325.5L1177 327.1L1180 329.9L1183 330.8L1186 335.3L1189 329.6L1192 328.9L1195 329.9L1198 323.6L1201 329.6L1204 326.8L1207 326.8L1210 324.1L1213 319.1L1216 313.6L1219 315.5L1222 311.7L1225 321.2L1228 319.5L1231 316.2L1234 313L1237 314.7L1240 310.3L1243 315.8L1246 318.7L1249 319.1L1252 321.7L1255 320.4L1258 324.2L1261 318.9L1264 318.7L1267 321.6L1270 319.8L1273 323.1L1276 330.6L1279 326.5L1282 331L1285 330.5L1288 336.3L1291 337.1L1294 335.3L1297 342.5L1300 335.8L1303 335.7L1306 336.2L1309 334.7L1312 332.4L1315 332.3L1318 333.7L1321 332.6L1324 332.8L1327 334.3L1330 331.1L1333 335.9L1336 335.2L1339 336.4L1342 333.3L1345 331.9L1348 337L1351 338.4L1354 337.5L1357 336.4L1360 334.2L1363 333.3L1366 328.7L1369 324.5L1372 323.8L1375 319.9L1378 313.7L1381 315.6L1384 311.7L1387 312.9L1390 309.4L1393 312.2L1396 309.2L1399 305.9L1402 311.5L1405 308.8L1408 312.5L1411 311.2L1414 308.1L1417 303.6L1420 301L1423 303.6L1426 298.5L1429 300.3L1432 296.2L1435 295.6L1438 295.1L1441 287.4L1444 280.9L1447 283.2L1450 285.3L1453 278.8L1456 280.5L1459 276.2L1462 277.1L1465 279.5L1468 275.4L1471 278.5L1474 279.3L1477 276L1480 274.8L1483 271.9L1486 272.2L1489 273.5L1492 267.2L1495 263.9L1498 264L1501 267.3L1504 265.8L1507 265.9L1510 266.2L1513 267.3L1516 266.6L1519 266.9L1522 265.3L1525 268.1L1528 266.4L1531 264.4L1534 267.7L1537 268.4L1540 265.7L1543 262.8L1546 263L1549 260L1552 261.7L1555 266.9L1558 259L1561 260.5L1564 263.1L1567 256.8L1570 255.4L1573 252L1576 252.2L1579 252.9L1582 251.2L1585 251.7L1588 251.6L1591 252.2L1594 252.3L1597 257.5L1600 255.8L1603 255.3L1606 253.7L1609 252.4L1612 249.6L1615 250.3L1618 251L1621 245.7L1624 246.2L1627 242.2L1630 242.4L1633 238.9L1636 239.2L1639 235.2L1642 234.3L1645 230.2L1648 232.7L1651 228.3L1654 226L1657 222.5L1660 220.7L1663 216.7L1666 216.8L1669 215.5L1672 216.6L1675 212.8L1678 212L1681 214.6L1684 212.8L1687 211.1L1690 211.2L1693 205.1L1696 206L1699 205.4L1702 206.9L1705 208.1L1708 204.9L1711 202.3L1714 200.4L1717 198.5L1720 199.7L1723 197.5L1726 200.3L1729 196.8L1732 194L1735 190.9L1738 187.6L1741 185.7L1744 189.6L1747 185.8L1750 187.5L1752.7 193.6" fill="none" stroke="#48f52a" stroke-opacity="0.38" stroke-width="1.1" stroke-linejoin="round"/>
<path d="M1144 343.4L1147 350.3L1150 347.1L1153 346.6L1156 346L1159 346L1162 345.5L1165 344.8L1168 343.9L1171 343.4L1174 340.8L1177 339.6L1180 337.6L1183 340.7L1186 339.6L1189 344L1192 345.6L1195 346.1L1198 341.4L1201 338.7L1204 338.1L1207 333.6L1210 334.3L1213 332.3L1216 328L1219 328.7L1222 329.5L1225 328.8L1228 325.6L1231 325.5L1234 330.7L1237 332.7L1240 331L1243 328.3L1246 331.5L1249 332.2L1252 331.8L1255 331.9L1258 337L1261 332.4L1264 333.7L1267 332.5L1270 331.1L1273 334.3L1276 333.4L1279 330.5L1282 333.4L1285 333.5L1288 334.5L1291 334L1294 335.6L1297 334.4L1300 333.6L1303 336.7L1306 339.3L1309 340L1312 334.7L1315 337L1318 329.6L1321 331.5L1324 328.4L1327 326.7L1330 328.5L1333 329.5L1336 330.6L1339 335.4L1342 335.3L1345 337.1L1348 340.4L1351 345.9L1354 343.6L1357 347.9L1360 344.6L1363 341.5L1366 339.6L1369 336.6L1372 337.7L1375 334.7L1378 335.8L1381 329.9L1384 335.4L1387 331.1L1390 330.3L1393 326.6L1396 322.5L1399 318.1L1402 313.4L1405 317.1L1408 317.6L1411 316.8L1414 316.7L1417 316.5L1420 316.7L1423 313.6L1426 310.1L1429 310.1L1432 306.9L1435 301.9L1438 295.7L1441 299.4L1444 290.1L1447 290.6L1450 290.2L1453 286.3L1456 288.3L1459 287.2L1462 282.2L1465 280L1468 278.9L1471 279.2L1474 282.9L1477 280.3L1480 280.6L1483 275.8L1486 275.5L1489 277.1L1492 273.4L1495 274.5L1498 273.2L1501 273.8L1504 268L1507 271.1L1510 271.3L1513 270.5L1516 270.9L1519 267.6L1522 265.9L1525 270.4L1528 271.6L1531 272.9L1534 278.4L1537 275.8L1540 275.7L1543 280.8L1546 279.1L1549 275.2L1552 275L1555 273.6L1558 271L1561 269.8L1564 268.9L1567 274.5L1570 273L1573 269.5L1576 267.9L1579 269.8L1582 266.2L1585 266.5L1588 265L1591 263.4L1594 266.3L1597 262.4L1600 265.5L1603 262.5L1606 258.1L1609 259.4L1612 252.8L1615 252.8L1618 252.2L1621 251.6L1624 250.8L1627 248.3L1630 247.2L1633 242.2L1636 243.2L1639 243.1L1642 242.1L1645 240L1648 235.7L1651 236.5L1654 236.9L1657 238.4L1660 234.1L1663 230.6L1666 230.8L1669 234.1L1672 230.5L1675 227.8L1678 228L1681 224.2L1684 223.5L1687 222L1690 221.7L1693 214.4L1696 210.1L1699 207L1702 206.8L1705 204.2L1708 205.8L1711 207.7L1714 206.2L1717 198.5L1720 195.1L1723 197.9L1726 201.5L1729 198.4L1732 198.1L1735 191.1L1738 191.5L1741 190L1744 189.2L1747 192.6L1750 194.9L1752.7 196.1" fill="none" stroke="#48f52a" stroke-opacity="0.38" stroke-width="1.1" stroke-linejoin="round"/>
<path d="M1144 299.7L1146.5 298.5L1149 296.5L1151.5 294L1154 292.3L1156.5 293.9L1159 293.2L1161.5 293.7L1164 294.4L1166.5 295.3L1169 296.1L1171.5 292.6L1174 292.2L1176.5 293L1179 289.9L1181.5 291.1L1184 289.8L1186.5 289.5L1189 289L1191.5 285.9L1194 286.1L1196.5 285.1L1199 285.5L1201.5 284.5L1204 285.8L1206.5 283.3L1209 284.7L1211.5 281.8L1214 281.5L1216.5 280.4L1219 279.1L1221.5 276.8L1224 276.9L1226.5 275.7L1229 274.4L1231.5 276.6L1234 276.6L1236.5 277.4L1239 276L1241.5 273.5L1244 274.8L1246.5 273.3L1249 273.1L1251.5 274.9L1254 272.7L1256.5 272.3L1259 272.9L1261.5 272.7L1264 272.9L1266.5 270.5L1269 272.3L1271.5 270.2L1274 269L1276.5 269.2L1279 271L1281.5 270.7L1284 271.9L1286.5 270.8L1289 272.3L1291.5 272.2L1294 272L1296.5 274.2L1299 275.9L1301.5 275L1304 272.9L1306.5 274.2L1309 272.3L1311.5 272.8L1314 272.9L1316.5 272L1319 272.1L1321.5 274L1324 273.7L1326.5 273.6L1329 274.9L1331.5 274.3L1334 274.7L1336.5 273.4L1339 274.8L1341.5 273.8L1344 274.9L1346.5 274.2L1349 277.6L1351.5 277.2L1354 278.2L1356.5 276.9L1359 279.2L1361.5 279.4L1364 279.7L1366.5 275.7L1369 275.8L1371.5 274.6L1374 270.7L1376.5 270L1379 267.7L1381.5 267.5L1384 266.5L1386.5 266.4L1389 264.4L1391.5 262.7L1394 262.7L1396.5 260.9L1399 260.7L1401.5 258L1404 259L1406.5 257.1L1409 256.3L1411.5 256.8L1414 255.1L1416.5 254.9L1419 255.2L1421.5 253.8L1424 253.1L1426.5 251.6L1429 250.1L1431.5 249.6L1434 249L1436.5 244.2L1439 245L1441.5 242.6L1444 241.2L1446.5 238.5L1449 235.9L1451.5 234.6L1454 232.1L1456.5 229.5L1459 229.1L1461.5 228.1L1464 226.3L1466.5 225.5L1469 223L1471.5 224.8L1474 223L1476.5 222.7L1479 223.2L1481.5 222L1484 224.7L1486.5 222.9L1489 222.4L1491.5 221L1494 218.9L1496.5 218.4L1499 215.7L1501.5 215.5L1504 214.9L1506.5 215.1L1509 214.1L1511.5 214.7L1514 216.6L1516.5 216L1519 215L1521.5 214.2L1524 215.1L1526.5 212.5L1529 210.4L1531.5 207.6L1534 207.9L1536.5 210L1539 211.2L1541.5 212.9L1544 210.2L1546.5 210.6L1549 210.7L1551.5 208.2L1554 213.3L1556.5 211.1L1559 211.9L1561.5 214.3L1564 214.5L1566.5 215.4L1569 214.2L1571.5 213.1L1574 212L1576.5 209.6L1579 209.1L1581.5 205.1L1584 205.5L1586.5 205.4L1589 202.8L1591.5 203.6L1594 202.8L1596.5 201.1L1599 199.8L1601.5 198.7L1604 197.1L1606.5 196.2L1609 198.7L1611.5 198.3L1614 196.9L1616.5 196.3L1619 195.3L1621.5 191.6L1624 193.9L1626.5 189L1629 189.3L1631.5 186.8L1634 187.2L1636.5 185.6L1639 183.8L1641.5 179.5L1644 181.3L1646.5 179.9L1649 176.9L1651.5 179.2L1654 176.7L1656.5 175.2L1659 175.4L1661.5 173.5L1664 173.3L1666.5 171.5L1669 169.8L1671.5 168.2L1674 168.5L1676.5 166.4L1679 164.4L1681.5 163.3L1684 161.8L1686.5 163.8L1689 161.6L1691.5 160.8L1694 160.8L1696.5 157.3L1699 155.4L1701.5 154.5L1704 154.2L1706.5 152.9L1709 151.8L1711.5 150.7L1714 148.6L1716.5 146.5L1719 148.4L1721.5 148.4L1724 149.3L1726.5 150.3L1729 149.6L1731.5 147.5L1734 147.3L1736.5 146.3L1739 146L1741.5 146.9L1744 146.3L1746.5 146L1749 145.8L1751.5 148.7L1752.7 147.6" fill="none" stroke="#000" stroke-width="5.0" stroke-linejoin="round" stroke-linecap="butt"/>
<path d="M1144 305.9L1146.5 304L1149 305.6L1151.5 305L1154 303.6L1156.5 303.7L1159 304.4L1161.5 302.9L1164 301.7L1166.5 300.7L1169 298.6L1171.5 299.6L1174 296.6L1176.5 297.1L1179 296.3L1181.5 294.4L1184 295.1L1186.5 296.2L1189 293.9L1191.5 292.6L1194 293.2L1196.5 293.6L1199 292.5L1201.5 291.6L1204 289.2L1206.5 289.8L1209 288.4L1211.5 287L1214 285L1216.5 282.1L1219 280.4L1221.5 281.2L1224 282.1L1226.5 283.6L1229 282.6L1231.5 284.5L1234 283.4L1236.5 283.2L1239 283.3L1241.5 282.7L1244 281.7L1246.5 285.8L1249 285.6L1251.5 286.3L1254 284.8L1256.5 284.5L1259 285.4L1261.5 286.4L1264 288.8L1266.5 289.5L1269 291L1271.5 292.5L1274 292L1276.5 291.6L1279 290.8L1281.5 290.7L1284 289.8L1286.5 291.1L1289 290.9L1291.5 290.6L1294 291.1L1296.5 293.2L1299 294.7L1301.5 293.3L1304 293.1L1306.5 292.1L1309 291.7L1311.5 291.1L1314 290.5L1316.5 290.2L1319 291.4L1321.5 292.5L1324 290.8L1326.5 293.4L1329 292.2L1331.5 292.7L1334 291.6L1336.5 291.8L1339 295.2L1341.5 294.2L1344 296.7L1346.5 296.8L1349 297.7L1351.5 299.5L1354 299.1L1356.5 296.6L1359 297.3L1361.5 298.6L1364 297.9L1366.5 294.5L1369 292.4L1371.5 290.2L1374 290.4L1376.5 286.8L1379 286.6L1381.5 287.3L1384 286.6L1386.5 285.2L1389 285.1L1391.5 281.8L1394 280.9L1396.5 281L1399 280.8L1401.5 279.9L1404 281.7L1406.5 279L1409 279.8L1411.5 277.2L1414 276.4L1416.5 274.2L1419 272.9L1421.5 273.4L1424 270.4L1426.5 270.9L1429 267.1L1431.5 265.8L1434 265.6L1436.5 260.3L1439 258.9L1441.5 258.4L1444 256.7L1446.5 254.8L1449 251.9L1451.5 248.9L1454 249.4L1456.5 247.4L1459 244.5L1461.5 244.3L1464 244.6L1466.5 241.8L1469 239.7L1471.5 239.8L1474 239.2L1476.5 239.3L1479 239.5L1481.5 237.5L1484 237.5L1486.5 239.3L1489 239.4L1491.5 240.3L1494 237.1L1496.5 236.6L1499 237.4L1501.5 235.2L1504 236.3L1506.5 236L1509 235.4L1511.5 237.8L1514 236.7L1516.5 236.6L1519 237.5L1521.5 238.5L1524 237.5L1526.5 238.4L1529 238.1L1531.5 237.5L1534 240.6L1536.5 241.5L1539 241.8L1541.5 239.5L1544 240.8L1546.5 240.5L1549 238.7L1551.5 239.3L1554 236.9L1556.5 236.3L1559 235.7L1561.5 234.6L1564 233.2L1566.5 234L1569 231.3L1571.5 230.9L1574 229.9L1576.5 232L1579 228.7L1581.5 229.4L1584 230L1586.5 226.5L1589 226.1L1591.5 225.6L1594 223.6L1596.5 224.8L1599 222.3L1601.5 223.7L1604 223.2L1606.5 222.8L1609 222.2L1611.5 219.4L1614 219.1L1616.5 215.6L1619 214.9L1621.5 215.4L1624 211.3L1626.5 212.7L1629 210.9L1631.5 209.8L1634 208.4L1636.5 209L1639 205.2L1641.5 206.3L1644 205.1L1646.5 203.3L1649 202.7L1651.5 202.5L1654 200.4L1656.5 198.5L1659 198.9L1661.5 196.6L1664 195.8L1666.5 195.2L1669 194.9L1671.5 195L1674 193.2L1676.5 192.6L1679 193L1681.5 191.4L1684 187.8L1686.5 186.9L1689 184.6L1691.5 185.1L1694 184.3L1696.5 182.2L1699 180L1701.5 180.7L1704 178.2L1706.5 178.7L1709 177L1711.5 176.4L1714 175.3L1716.5 174.5L1719 171.8L1721.5 170.7L1724 167L1726.5 166.4L1729 163.2L1731.5 163L1734 160.9L1736.5 157.9L1739 157.6L1741.5 158L1744 158.5L1746.5 158.1L1749 159.3L1751.5 157.8L1752.7 156.6" fill="none" stroke="#48f52a" stroke-width="5.0" stroke-linejoin="round" stroke-linecap="butt"/>
</g>
<g clip-path="url(#clipD)">
<path d="M1144 734.5L1146.5 735.4L1149 734.1L1151.5 735.3L1154 733.7L1156.5 733.3L1159 733.3L1161.5 731.6L1164 727.1L1166.5 724.9L1169 723L1171.5 724.3L1174 729.4L1176.5 730.9L1179 730.5L1181.5 732L1184 737.7L1186.5 736.2L1189 734.5L1191.5 735.2L1194 734.8L1196.5 737L1199 740.4L1201.5 740.5L1204 741.2L1206.5 744.6L1209 743.4L1211.5 741.1L1214 742.2L1216.5 743.9L1219 740.7L1221.5 740.2L1224 740.8L1226.5 737.7L1229 740.7L1231.5 745.6L1234 745.3L1236.5 743.4L1239 742.4L1241.5 738.2L1244 736.5L1246.5 742.3L1249 745.7L1251.5 747.7L1254 748.5L1256.5 745.9L1259 746.3L1261.5 747.3L1264 748.4L1266.5 749.3L1269 748.8L1271.5 745.1L1274 743.1L1276.5 741.4L1279 740.9L1281.5 738.2L1284 735.1L1286.5 735.8L1289 740.2L1291.5 740.7L1294 741.4L1296.5 744.9L1299 745.7L1301.5 744.2L1304 744.2L1306.5 746.5L1309 748.5L1311.5 749.3L1314 748L1316.5 744.9L1319 741.4L1321.5 739L1324 736.9L1326.5 737.1L1329 738.1L1331.5 740.7L1334 740.7L1336.5 738.4L1339 733.7L1341.5 728.7L1344 725.1L1346.5 722.1L1349 720.5L1351.5 718.4L1354 717L1356.5 715.1L1359 713L1361.5 715.9L1364 719.2L1366.5 719.7L1369 717.8L1371.5 713.9L1374 712.9L1376.5 716L1379 715.9L1381.5 714.1L1384 712.4L1386.5 712.6L1389 709.3L1391.5 706.3L1394 704L1396.5 704L1399 703.2L1401.5 704.1L1404 709.3L1406.5 711.3L1409 712.9L1411.5 714.1L1414 712.5L1416.5 713.6L1419 713.3L1421.5 715.1L1424 716L1426.5 717.5L1429 717.3L1431.5 716.1L1434 717.8L1436.5 720.1L1439 723.4L1441.5 722.9L1444 719.8L1446.5 720.7L1449 721.5L1451.5 718.6L1454 717L1456.5 720.4L1459 718.8L1461.5 716.4L1464 718L1466.5 718.6L1469 717.7L1471.5 717.3L1474 718.1L1476.5 716.6L1479 716.6L1481.5 715.9L1484 718L1486.5 718.6L1489 720.2L1491.5 719.8L1494 720.9L1496.5 722.6L1499 718.8L1501.5 714.1L1504 714.5L1506.5 713.7L1509 714.2L1511.5 718.5L1514 717L1516.5 715.1L1519 715.8L1521.5 718L1524 717.6L1526.5 719.7L1529 720.6L1531.5 720.2L1534 719.6L1536.5 720.5L1539 724.4L1541.5 724L1544 722.1L1546.5 723.4L1549 725.8L1551.5 725.9L1554 725.1L1556.5 724.9L1559 727.1L1561.5 723.5L1564 722.1L1566.5 724.7L1569 722.8L1571.5 721.3L1574 720.8L1576.5 720.8L1579 721.7L1581.5 722.8L1584 726.6L1586.5 728L1589 727.4L1591.5 728.1L1594 725.8L1596.5 728L1599 728.9L1601.5 728.1L1604 726.4L1606.5 729.1L1609 733.4L1611.5 732.7L1614 733.3L1616.5 736.6L1619 737.1L1621.5 738.3L1624 741.2L1626.5 738.2L1629 734.2L1631.5 741.6L1634 744.6L1636.5 740.8L1639 741L1641.5 737.6L1644 736.4L1646.5 736.1L1649 740.1L1651.5 741.6L1654 742.8L1656.5 741.7L1659 739.2L1661.5 736.6L1664 735.1L1666.5 735.3L1669 740.1L1671.5 736.8L1674 735.3L1676.5 739.4L1679 743.9L1681.5 743.2L1684 742.9L1686.5 742.5L1689 740.8L1691.5 740.9L1694 737.7L1696.5 731L1699 731.6L1701.5 731.8L1704 731.4L1706.5 732.1L1709 738.7L1711.5 742.1L1714 741.2L1716.5 738.1L1719 738.4L1721.5 737.6L1724 736.9L1726.5 741.3L1729 750.2L1731.5 750.6L1734 750.2L1736.5 750.4L1739 753.9L1741.5 755L1744 758L1746.5 761.2L1749 759.7L1751.5 757.4L1752.6 755.2" fill="none" stroke="#000" stroke-opacity="0.29" stroke-width="1.1" stroke-linejoin="round"/>
<path d="M1144 747.7L1146.5 744.4L1149 742.4L1151.5 736L1154 738.3L1156.5 738.8L1159 742.9L1161.5 747.2L1164 747.6L1166.5 742.8L1169 738L1171.5 738.2L1174 741.1L1176.5 744.7L1179 741.9L1181.5 740L1184 743.2L1186.5 747.8L1189 751.5L1191.5 752.1L1194 747.5L1196.5 748.1L1199 751L1201.5 750L1204 751.4L1206.5 754.7L1209 750L1211.5 746L1214 746.1L1216.5 745.7L1219 742.6L1221.5 743.5L1224 746.9L1226.5 748.4L1229 747L1231.5 744.4L1234 745.7L1236.5 743.3L1239 740L1241.5 741.7L1244 742.6L1246.5 740.8L1249 742.1L1251.5 742.9L1254 741.1L1256.5 742.9L1259 745.7L1261.5 746.5L1264 747.7L1266.5 748.3L1269 750.8L1271.5 752.8L1274 753.7L1276.5 755.9L1279 754.8L1281.5 751.4L1284 753.6L1286.5 755.6L1289 750.7L1291.5 747.4L1294 749.7L1296.5 751.1L1299 756.4L1301.5 759L1304 753.1L1306.5 747.5L1309 746L1311.5 748.5L1314 749.5L1316.5 746.9L1319 743.2L1321.5 740.3L1324 737.9L1326.5 740.8L1329 747.1L1331.5 746.9L1334 742L1336.5 740.3L1339 741.3L1341.5 741.6L1344 737.9L1346.5 734L1349 731L1351.5 730.8L1354 728.5L1356.5 725.7L1359 726.6L1361.5 728.5L1364 729.5L1366.5 731.9L1369 732.8L1371.5 730.8L1374 728.4L1376.5 730.9L1379 731.8L1381.5 730L1384 730.8L1386.5 730L1389 725.9L1391.5 727.3L1394 729.3L1396.5 729.2L1399 729.7L1401.5 727.5L1404 723.7L1406.5 723.1L1409 727.5L1411.5 729.2L1414 724.9L1416.5 723.2L1419 728.4L1421.5 727.8L1424 731.7L1426.5 733.8L1429 735.7L1431.5 732L1434 728.8L1436.5 730.1L1439 728.5L1441.5 725.9L1444 725.7L1446.5 724.9L1449 726L1451.5 727.7L1454 726.7L1456.5 722.5L1459 722L1461.5 725.9L1464 724.6L1466.5 721.2L1469 721.1L1471.5 724.5L1474 728.5L1476.5 729.9L1479 730.1L1481.5 728L1484 725.5L1486.5 726.8L1489 729L1491.5 732.9L1494 736L1496.5 737.1L1499 735L1501.5 733.4L1504 735.9L1506.5 737.2L1509 735.2L1511.5 734.7L1514 732.2L1516.5 732.3L1519 733.2L1521.5 735.8L1524 732.8L1526.5 732.7L1529 729.9L1531.5 727.5L1534 724.6L1536.5 727L1539 729.8L1541.5 731.1L1544 731.5L1546.5 732.9L1549 731L1551.5 730.2L1554 730.6L1556.5 735.5L1559 737.2L1561.5 738.3L1564 739.2L1566.5 739L1569 738.3L1571.5 745.6L1574 747.3L1576.5 746.1L1579 745L1581.5 746.4L1584 746.9L1586.5 741.8L1589 740L1591.5 739.2L1594 741.2L1596.5 744.1L1599 742.6L1601.5 742.4L1604 741.1L1606.5 737.3L1609 739L1611.5 744.7L1614 743.6L1616.5 742L1619 741.4L1621.5 743.3L1624 746.5L1626.5 745.7L1629 748.1L1631.5 748.4L1634 747.4L1636.5 750.3L1639 753L1641.5 753.5L1644 755.3L1646.5 756L1649 755.9L1651.5 754.7L1654 751.7L1656.5 748L1659 749.9L1661.5 748.3L1664 742.4L1666.5 739.7L1669 743.1L1671.5 744.5L1674 747.6L1676.5 757.6L1679 760.5L1681.5 759.1L1684 757.6L1686.5 758.2L1689 757L1691.5 754.6L1694 752.6L1696.5 751.4L1699 752.5L1701.5 752L1704 749.5L1706.5 754L1709 755.7L1711.5 755.1L1714 755.1L1716.5 752.8L1719 751.2L1721.5 753L1724 756.8L1726.5 761.8L1729 766.7L1731.5 769.8L1734 770.9L1736.5 774.8L1739 778.8L1741.5 776.5L1744 774.5L1746.5 779.5L1749 781.5L1751.5 780.7L1752.6 779.8" fill="none" stroke="#000" stroke-opacity="0.29" stroke-width="1.1" stroke-linejoin="round"/>
<path d="M1144 754.6L1146.5 750.1L1149 748.6L1151.5 747.7L1154 743.7L1156.5 736.4L1159 737.4L1161.5 738.2L1164 738.8L1166.5 742.1L1169 745.7L1171.5 748.3L1174 743.9L1176.5 736.1L1179 733.4L1181.5 731L1184 733.2L1186.5 736.2L1189 741.4L1191.5 744.9L1194 747.6L1196.5 746.5L1199 748.1L1201.5 747.2L1204 747.8L1206.5 749.6L1209 750.6L1211.5 751L1214 748.5L1216.5 748.9L1219 750.3L1221.5 752.8L1224 752.7L1226.5 752L1229 754.7L1231.5 754.9L1234 755.9L1236.5 758.8L1239 763.5L1241.5 764.5L1244 762.4L1246.5 763.4L1249 765.1L1251.5 759.9L1254 757.1L1256.5 754.8L1259 751.8L1261.5 750.1L1264 751.1L1266.5 754.3L1269 758.9L1271.5 762.2L1274 762.4L1276.5 766.6L1279 768.9L1281.5 770.1L1284 770.7L1286.5 769.6L1289 766.8L1291.5 761.9L1294 765.3L1296.5 765.1L1299 761.8L1301.5 759.4L1304 758.7L1306.5 757.7L1309 755.6L1311.5 751.8L1314 751.3L1316.5 751.3L1319 747.6L1321.5 745.8L1324 747.7L1326.5 742.9L1329 737.3L1331.5 738.2L1334 741.1L1336.5 740.7L1339 741.5L1341.5 741.9L1344 738.3L1346.5 738.5L1349 738.4L1351.5 736.4L1354 738.3L1356.5 736.3L1359 732.1L1361.5 732.8L1364 737.8L1366.5 738.6L1369 742.1L1371.5 742L1374 741.4L1376.5 738.7L1379 737.4L1381.5 735.6L1384 735.2L1386.5 738.7L1389 736.5L1391.5 731.3L1394 728.5L1396.5 729.1L1399 732.1L1401.5 733.6L1404 733.5L1406.5 734.1L1409 732.3L1411.5 730.7L1414 732.2L1416.5 732.5L1419 731.3L1421.5 726.3L1424 722.5L1426.5 725.3L1429 725.5L1431.5 725.5L1434 725.9L1436.5 727.4L1439 730.6L1441.5 733.1L1444 733.5L1446.5 734.6L1449 732.1L1451.5 730.5L1454 733L1456.5 733.4L1459 733.8L1461.5 734.5L1464 732.9L1466.5 731.5L1469 730.5L1471.5 734.3L1474 734.5L1476.5 730.2L1479 726L1481.5 725.6L1484 725L1486.5 727L1489 728L1491.5 731L1494 731.1L1496.5 736.1L1499 740L1501.5 742.7L1504 741.3L1506.5 738.6L1509 736.7L1511.5 732L1514 730.8L1516.5 728.4L1519 727.1L1521.5 730.1L1524 737.4L1526.5 738.4L1529 736.1L1531.5 736.3L1534 737.7L1536.5 737.6L1539 738.9L1541.5 737.5L1544 737.8L1546.5 743.1L1549 745.6L1551.5 747.5L1554 750.2L1556.5 753.9L1559 755L1561.5 756L1564 752L1566.5 749.2L1569 748.7L1571.5 746.5L1574 748.4L1576.5 751.2L1579 748L1581.5 748.3L1584 750.8L1586.5 749.4L1589 749.3L1591.5 752L1594 750.8L1596.5 747.9L1599 748.7L1601.5 750.3L1604 752.2L1606.5 749.7L1609 748.2L1611.5 747.7L1614 745.5L1616.5 748.1L1619 748.3L1621.5 750.8L1624 751.2L1626.5 749.6L1629 750.6L1631.5 751.3L1634 753.9L1636.5 752.9L1639 750.1L1641.5 751.3L1644 753.9L1646.5 752.6L1649 750.8L1651.5 753.5L1654 753.7L1656.5 751.8L1659 754.7L1661.5 755.6L1664 755.6L1666.5 754.8L1669 754.7L1671.5 755.4L1674 754.4L1676.5 758.5L1679 762.4L1681.5 761.5L1684 759.7L1686.5 756.3L1689 753L1691.5 752.4L1694 750.6L1696.5 754L1699 757L1701.5 758.2L1704 760.4L1706.5 761.4L1709 765.1L1711.5 765.9L1714 765.4L1716.5 763L1719 762.4L1721.5 765.7L1724 769.2L1726.5 770.4L1729 772L1731.5 772.9L1734 775.9L1736.5 780.9L1739 783.6L1741.5 788.2L1744 793.6L1746.5 794.8L1749 791.6L1751.5 787.9L1752.6 786.2" fill="none" stroke="#000" stroke-opacity="0.29" stroke-width="1.1" stroke-linejoin="round"/>
<path d="M1144 749.7L1146.5 748.5L1149 754.2L1151.5 755.9L1154 755.1L1156.5 757.5L1159 755.9L1161.5 755L1164 755L1166.5 756.2L1169 754.8L1171.5 754L1174 756.5L1176.5 757.6L1179 754.3L1181.5 755.2L1184 756.6L1186.5 757.2L1189 755.6L1191.5 754.9L1194 755.4L1196.5 759.4L1199 763L1201.5 764.6L1204 764.5L1206.5 761.7L1209 758.2L1211.5 756.7L1214 757.2L1216.5 752.7L1219 747.6L1221.5 746.9L1224 747.5L1226.5 749.7L1229 750.3L1231.5 749.6L1234 753.4L1236.5 756.4L1239 759.4L1241.5 763.5L1244 766.3L1246.5 772.9L1249 770.6L1251.5 768.7L1254 766.5L1256.5 761.3L1259 760.9L1261.5 763.8L1264 764.2L1266.5 764.6L1269 766.4L1271.5 768.4L1274 768.2L1276.5 767.7L1279 767.4L1281.5 769.6L1284 773.9L1286.5 774.5L1289 775.8L1291.5 777L1294 777.6L1296.5 774.3L1299 767.4L1301.5 767.1L1304 768.4L1306.5 764.1L1309 762.1L1311.5 759.2L1314 759L1316.5 757.3L1319 753.6L1321.5 751.7L1324 750.9L1326.5 751.1L1329 753.7L1331.5 752.8L1334 749.9L1336.5 748.1L1339 747.8L1341.5 748.1L1344 747.6L1346.5 743L1349 742.9L1351.5 745L1354 742.8L1356.5 739L1359 738.1L1361.5 737.6L1364 736.4L1366.5 738.5L1369 739.6L1371.5 740L1374 743.7L1376.5 748.8L1379 748.3L1381.5 747.5L1384 747L1386.5 747.7L1389 748.3L1391.5 746.6L1394 744.5L1396.5 741.1L1399 741.9L1401.5 747L1404 750.5L1406.5 748L1409 748.7L1411.5 751.7L1414 752.1L1416.5 749.9L1419 748.4L1421.5 747.9L1424 742.6L1426.5 739.5L1429 739.2L1431.5 741L1434 742.5L1436.5 744.2L1439 746.9L1441.5 746.9L1444 745.6L1446.5 746.1L1449 745.4L1451.5 745.6L1454 747.3L1456.5 746.7L1459 745.3L1461.5 746.2L1464 745.3L1466.5 742.6L1469 742.1L1471.5 740.4L1474 738.9L1476.5 738.3L1479 737.4L1481.5 737L1484 736.9L1486.5 738.6L1489 739.5L1491.5 740.3L1494 739.7L1496.5 743L1499 742.5L1501.5 740.3L1504 743.4L1506.5 743.5L1509 742.5L1511.5 746.8L1514 751.4L1516.5 751.7L1519 753.5L1521.5 753.4L1524 755.6L1526.5 759.3L1529 759.8L1531.5 760.9L1534 762.6L1536.5 758.5L1539 756.5L1541.5 757.8L1544 757.5L1546.5 755.8L1549 758.1L1551.5 759.8L1554 759.4L1556.5 757.1L1559 755L1561.5 752.3L1564 755.3L1566.5 755.8L1569 757L1571.5 761.1L1574 762.5L1576.5 765.9L1579 766.8L1581.5 766L1584 769.1L1586.5 773.6L1589 770.5L1591.5 764.5L1594 764.2L1596.5 766.3L1599 766.2L1601.5 760.2L1604 757.3L1606.5 756.7L1609 755.2L1611.5 755.7L1614 756.9L1616.5 760.4L1619 762.4L1621.5 760.7L1624 760.3L1626.5 759.7L1629 761.7L1631.5 765.2L1634 766.4L1636.5 765.2L1639 761.3L1641.5 765.9L1644 770.9L1646.5 776.3L1649 774.2L1651.5 773.7L1654 774.6L1656.5 775.8L1659 774.5L1661.5 772.6L1664 771.8L1666.5 770.6L1669 770.1L1671.5 771.2L1674 773.4L1676.5 771.8L1679 769.4L1681.5 768.5L1684 768.7L1686.5 770.8L1689 773.5L1691.5 776.6L1694 779.7L1696.5 778.6L1699 775.7L1701.5 777.5L1704 777.2L1706.5 774.1L1709 773.2L1711.5 774.7L1714 779.1L1716.5 780.3L1719 783L1721.5 784.5L1724 788.4L1726.5 790.6L1729 792.6L1731.5 797.1L1734 800.2L1736.5 799.2L1739 798.2L1741.5 799L1744 803.3L1746.5 801.9L1749 799.4L1751.5 797.6L1752.6 795.3" fill="none" stroke="#000" stroke-opacity="0.29" stroke-width="1.1" stroke-linejoin="round"/>
<path d="M1144 770.7L1146.5 768.2L1149 764.9L1151.5 763.6L1154 764.1L1156.5 764.6L1159 763.6L1161.5 759.3L1164 756.8L1166.5 761.1L1169 763.7L1171.5 759.6L1174 759.6L1176.5 757.4L1179 756.4L1181.5 756.9L1184 760.7L1186.5 759.7L1189 758.5L1191.5 760.6L1194 761.1L1196.5 760.9L1199 764.3L1201.5 766.2L1204 768.3L1206.5 773.8L1209 773.1L1211.5 768.8L1214 768.1L1216.5 770.5L1219 765.5L1221.5 760.7L1224 762.9L1226.5 766.4L1229 771.3L1231.5 771.7L1234 769.8L1236.5 768.9L1239 772L1241.5 770.6L1244 767L1246.5 766.4L1249 763L1251.5 761.6L1254 763.1L1256.5 766L1259 768.9L1261.5 769.6L1264 766.8L1266.5 766L1269 767L1271.5 767.4L1274 766.6L1276.5 762.9L1279 761L1281.5 764.9L1284 772.2L1286.5 776L1289 778.1L1291.5 776.7L1294 772.6L1296.5 771.5L1299 768L1301.5 765.6L1304 767L1306.5 765.5L1309 764.6L1311.5 764.7L1314 764.9L1316.5 767L1319 770.7L1321.5 767.4L1324 764.6L1326.5 763.9L1329 762.7L1331.5 761L1334 756.8L1336.5 754.9L1339 756.1L1341.5 759.1L1344 762.4L1346.5 762L1349 756L1351.5 753.9L1354 755.3L1356.5 758L1359 759.8L1361.5 760.4L1364 758.3L1366.5 756L1369 754.5L1371.5 750.8L1374 751.4L1376.5 751.6L1379 750.1L1381.5 754.6L1384 756.6L1386.5 754.6L1389 754.2L1391.5 756.5L1394 757.2L1396.5 756.3L1399 759.4L1401.5 758.6L1404 753.1L1406.5 750.2L1409 753.4L1411.5 759.4L1414 759.3L1416.5 758.3L1419 763.1L1421.5 761.4L1424 756.4L1426.5 754.7L1429 755.1L1431.5 756L1434 758.2L1436.5 760.2L1439 758.4L1441.5 756.8L1444 758.3L1446.5 760L1449 758.3L1451.5 755.4L1454 755.7L1456.5 755.8L1459 756L1461.5 754.5L1464 753.6L1466.5 756.3L1469 758L1471.5 757.3L1474 754.9L1476.5 755.9L1479 756.4L1481.5 757.4L1484 760.2L1486.5 759.8L1489 757.9L1491.5 755.1L1494 755.7L1496.5 756.6L1499 756L1501.5 752.4L1504 751.1L1506.5 749.6L1509 748.7L1511.5 751L1514 751.5L1516.5 751.5L1519 748.5L1521.5 750.1L1524 750.7L1526.5 755.8L1529 758.3L1531.5 754.7L1534 758.5L1536.5 757.1L1539 755.1L1541.5 753.8L1544 752.4L1546.5 754.1L1549 757.6L1551.5 760L1554 760.6L1556.5 765.8L1559 768.3L1561.5 765L1564 768.7L1566.5 772.5L1569 776.2L1571.5 779.9L1574 781.5L1576.5 781.9L1579 784.9L1581.5 783.7L1584 779.6L1586.5 776.8L1589 777.1L1591.5 776.1L1594 776.5L1596.5 779.8L1599 780.7L1601.5 778.5L1604 777.4L1606.5 777.1L1609 779.3L1611.5 783.8L1614 781.1L1616.5 778.6L1619 782.2L1621.5 783.1L1624 786.7L1626.5 789.3L1629 788.3L1631.5 787.3L1634 786L1636.5 787.1L1639 786.6L1641.5 783.7L1644 783.5L1646.5 786.5L1649 788.2L1651.5 790.2L1654 789.2L1656.5 783.1L1659 782.7L1661.5 786.6L1664 785.5L1666.5 786.1L1669 785.1L1671.5 780.9L1674 782.4L1676.5 786.2L1679 788.4L1681.5 787.9L1684 787.6L1686.5 785.1L1689 785.4L1691.5 787.8L1694 787.9L1696.5 788.1L1699 787.3L1701.5 787.2L1704 791.3L1706.5 791.3L1709 787.1L1711.5 786.1L1714 784.6L1716.5 784L1719 783.2L1721.5 789L1724 789.7L1726.5 788.8L1729 790.3L1731.5 794.5L1734 797.7L1736.5 801.6L1739 805.2L1741.5 804.1L1744 804.9L1746.5 806.7L1749 807.1L1751.5 808.6L1752.6 806.1" fill="none" stroke="#000" stroke-opacity="0.29" stroke-width="1.1" stroke-linejoin="round"/>
<path d="M1144 777.7L1146.5 776.5L1149 773.7L1151.5 773.7L1154 772.7L1156.5 773L1159 771.3L1161.5 768.1L1164 765.2L1166.5 761.5L1169 760.5L1171.5 762.8L1174 763.9L1176.5 763.7L1179 763.6L1181.5 762.6L1184 757.2L1186.5 753.5L1189 760.4L1191.5 763.7L1194 764.5L1196.5 764.6L1199 769.1L1201.5 769.1L1204 766.9L1206.5 767.1L1209 769.4L1211.5 770.6L1214 770.7L1216.5 771.7L1219 771.3L1221.5 770.5L1224 770.4L1226.5 770L1229 768.8L1231.5 771.9L1234 772L1236.5 772L1239 770.5L1241.5 771.8L1244 773.3L1246.5 775.7L1249 774.5L1251.5 779L1254 784.5L1256.5 784.6L1259 786.1L1261.5 784.4L1264 781.5L1266.5 779.4L1269 781.3L1271.5 780.6L1274 777.8L1276.5 777.5L1279 780.3L1281.5 781.1L1284 781.9L1286.5 787.5L1289 785.4L1291.5 782.9L1294 781.2L1296.5 780.5L1299 782.6L1301.5 785.1L1304 784.4L1306.5 782L1309 779.3L1311.5 776.3L1314 775.5L1316.5 774.6L1319 772.7L1321.5 769.5L1324 771.9L1326.5 770.9L1329 772.4L1331.5 775.3L1334 774L1336.5 772.2L1339 771.4L1341.5 767.3L1344 763L1346.5 759.4L1349 759.2L1351.5 761.8L1354 761.9L1356.5 763.8L1359 762L1361.5 759.7L1364 759.5L1366.5 762.4L1369 765L1371.5 766L1374 766.2L1376.5 767.8L1379 769.2L1381.5 769.8L1384 768.3L1386.5 768.2L1389 766.8L1391.5 766.7L1394 768.4L1396.5 770L1399 769.7L1401.5 768.6L1404 768.7L1406.5 761.5L1409 760.8L1411.5 764.9L1414 769.5L1416.5 769.9L1419 767L1421.5 762.8L1424 764.1L1426.5 764.6L1429 763.6L1431.5 761L1434 760.2L1436.5 760.7L1439 758.3L1441.5 758.4L1444 760.6L1446.5 760L1449 760.8L1451.5 760.1L1454 759.4L1456.5 759.7L1459 760.2L1461.5 762.3L1464 760.1L1466.5 760.2L1469 762.2L1471.5 762.6L1474 764.8L1476.5 764.8L1479 763.5L1481.5 768.2L1484 769.7L1486.5 770.7L1489 773.6L1491.5 776.6L1494 770.6L1496.5 767.9L1499 766.2L1501.5 765.9L1504 763.8L1506.5 763.2L1509 762.2L1511.5 766.4L1514 771.3L1516.5 770.2L1519 771.5L1521.5 777.1L1524 779.2L1526.5 776.1L1529 779L1531.5 781.3L1534 781.8L1536.5 782.3L1539 778.6L1541.5 779.2L1544 781.7L1546.5 780.9L1549 777.6L1551.5 773.7L1554 773.6L1556.5 774.6L1559 777.8L1561.5 779.1L1564 774.8L1566.5 775.1L1569 776.7L1571.5 779.7L1574 783.3L1576.5 785.2L1579 785L1581.5 783.8L1584 784.2L1586.5 784.7L1589 786.5L1591.5 790.3L1594 786.4L1596.5 786.9L1599 788.7L1601.5 789.5L1604 790.3L1606.5 788.9L1609 789.5L1611.5 790.8L1614 791.7L1616.5 787L1619 783.8L1621.5 783.7L1624 784.6L1626.5 785.4L1629 785.2L1631.5 783.7L1634 779.7L1636.5 782.1L1639 781.1L1641.5 777.5L1644 782.7L1646.5 786.8L1649 789.5L1651.5 789.1L1654 789.5L1656.5 792.6L1659 792L1661.5 792.1L1664 792.2L1666.5 790.8L1669 790.6L1671.5 792.6L1674 797.7L1676.5 799.4L1679 799.7L1681.5 799.1L1684 800.6L1686.5 803L1689 800.7L1691.5 799.1L1694 799.2L1696.5 795.7L1699 798.2L1701.5 797.1L1704 793.8L1706.5 795L1709 793.9L1711.5 793.7L1714 796.9L1716.5 800.2L1719 796.3L1721.5 794.8L1724 797.7L1726.5 802L1729 806L1731.5 807.8L1734 810.3L1736.5 812.5L1739 810.9L1741.5 810.6L1744 813.7L1746.5 815.2L1749 813.4L1751.5 809.6L1752.6 805.3" fill="none" stroke="#000" stroke-opacity="0.29" stroke-width="1.1" stroke-linejoin="round"/>
<path d="M1144 785.2L1146.5 786.8L1149 785.1L1151.5 782.6L1154 780.8L1156.5 777.4L1159 777.5L1161.5 778.2L1164 773.4L1166.5 771.1L1169 771.5L1171.5 772.4L1174 771.4L1176.5 771.4L1179 772L1181.5 774.3L1184 770L1186.5 770.3L1189 772.8L1191.5 771.1L1194 770.6L1196.5 773.6L1199 775.5L1201.5 776.1L1204 781.2L1206.5 781.3L1209 779.7L1211.5 780.7L1214 779.5L1216.5 778.1L1219 776.9L1221.5 773.9L1224 773.6L1226.5 777.4L1229 781L1231.5 780.8L1234 780.3L1236.5 781.3L1239 781.8L1241.5 783.1L1244 781.7L1246.5 779.1L1249 778.8L1251.5 778.3L1254 771.3L1256.5 770.2L1259 773.2L1261.5 774.2L1264 774.9L1266.5 776.6L1269 780.6L1271.5 781.7L1274 784.4L1276.5 784.3L1279 785L1281.5 782.1L1284 779.3L1286.5 783.2L1289 780.4L1291.5 781.9L1294 785.8L1296.5 788.7L1299 787.2L1301.5 786.6L1304 786.3L1306.5 785.2L1309 785.9L1311.5 786.7L1314 788L1316.5 786.9L1319 782.6L1321.5 780.7L1324 785.6L1326.5 785.3L1329 783.4L1331.5 783.9L1334 785.6L1336.5 789.2L1339 787.8L1341.5 785.2L1344 781.2L1346.5 779.7L1349 775.3L1351.5 769.4L1354 770.3L1356.5 769.2L1359 767.1L1361.5 770.5L1364 776.1L1366.5 774.4L1369 773.1L1371.5 773.6L1374 777.2L1376.5 777.8L1379 775.8L1381.5 770.5L1384 769.8L1386.5 772.4L1389 768.6L1391.5 766L1394 768L1396.5 769.8L1399 772.6L1401.5 775.8L1404 773.4L1406.5 769.8L1409 770.1L1411.5 769.4L1414 769.5L1416.5 768.9L1419 768L1421.5 767.9L1424 770.2L1426.5 771.9L1429 771.7L1431.5 774.1L1434 779.5L1436.5 780.9L1439 781.7L1441.5 783.8L1444 780.1L1446.5 776.4L1449 774.3L1451.5 771.7L1454 771.5L1456.5 768.2L1459 763.2L1461.5 764.7L1464 766.9L1466.5 767.4L1469 767.7L1471.5 767.1L1474 767.4L1476.5 768.9L1479 772.3L1481.5 775.7L1484 776.3L1486.5 773L1489 771.7L1491.5 770.3L1494 769.5L1496.5 775.3L1499 773.8L1501.5 769.9L1504 770.3L1506.5 771.8L1509 770.6L1511.5 769.8L1514 770.9L1516.5 770.9L1519 775.2L1521.5 776.3L1524 778.9L1526.5 778.8L1529 777.8L1531.5 777.8L1534 776.8L1536.5 775.2L1539 774.3L1541.5 776.5L1544 780.8L1546.5 781.5L1549 781.5L1551.5 784.6L1554 781.6L1556.5 781.3L1559 780.1L1561.5 781.2L1564 785.2L1566.5 785L1569 788.1L1571.5 794.3L1574 795.9L1576.5 799.7L1579 799L1581.5 795.5L1584 795.4L1586.5 797L1589 796.8L1591.5 796.7L1594 796.3L1596.5 793.7L1599 791.2L1601.5 789.3L1604 789.7L1606.5 787.1L1609 787.9L1611.5 790.7L1614 794.5L1616.5 796L1619 797.3L1621.5 797.3L1624 795.9L1626.5 795.3L1629 793L1631.5 791.3L1634 793.6L1636.5 793.9L1639 792.5L1641.5 790.6L1644 792.6L1646.5 791.2L1649 790.9L1651.5 792.2L1654 788.3L1656.5 788.2L1659 791.8L1661.5 794.3L1664 795.3L1666.5 797.2L1669 796L1671.5 798.2L1674 802.1L1676.5 805.6L1679 803.4L1681.5 801.3L1684 802.5L1686.5 806L1689 806.4L1691.5 808L1694 810.1L1696.5 809L1699 807.5L1701.5 800.9L1704 795L1706.5 791.8L1709 793L1711.5 796.3L1714 799.9L1716.5 799.4L1719 801.1L1721.5 804.6L1724 805.1L1726.5 805L1729 801.9L1731.5 804.9L1734 808.2L1736.5 807.5L1739 806.6L1741.5 809.3L1744 815.2L1746.5 813.6L1749 809.5L1751.5 806.7L1752.6 809.5" fill="none" stroke="#000" stroke-opacity="0.29" stroke-width="1.1" stroke-linejoin="round"/>
<path d="M1144 795.3L1146.5 794.1L1149 792.7L1151.5 788.5L1154 784.2L1156.5 782.6L1159 784.1L1161.5 783.9L1164 781.3L1166.5 781.5L1169 781.5L1171.5 781L1174 783.4L1176.5 781.8L1179 780.6L1181.5 783L1184 785.2L1186.5 781.3L1189 779.8L1191.5 780.4L1194 783.9L1196.5 783.5L1199 787.9L1201.5 793.5L1204 795.1L1206.5 795.8L1209 795.2L1211.5 796.4L1214 794.4L1216.5 791.1L1219 787L1221.5 783.9L1224 783.2L1226.5 783.5L1229 786.7L1231.5 790.2L1234 790L1236.5 790.8L1239 790.8L1241.5 788.5L1244 787.9L1246.5 789.6L1249 795.8L1251.5 795.7L1254 796.2L1256.5 797.1L1259 793.9L1261.5 795.3L1264 796.9L1266.5 795.7L1269 795.1L1271.5 793.6L1274 794.3L1276.5 793.8L1279 793.8L1281.5 792.3L1284 791.4L1286.5 788.2L1289 788.8L1291.5 796.6L1294 801.7L1296.5 804.8L1299 805.8L1301.5 801.8L1304 801.6L1306.5 799.6L1309 797.8L1311.5 796.4L1314 794.2L1316.5 792.5L1319 790.8L1321.5 786.7L1324 791.3L1326.5 788.9L1329 785.9L1331.5 786.2L1334 784L1336.5 781.8L1339 779.4L1341.5 776.1L1344 773.9L1346.5 773.8L1349 774.2L1351.5 772.1L1354 771.9L1356.5 776.3L1359 779.1L1361.5 780.7L1364 777.3L1366.5 779.2L1369 783.2L1371.5 781.4L1374 777.2L1376.5 779.8L1379 782.4L1381.5 782.3L1384 780.7L1386.5 779.5L1389 779.7L1391.5 779.8L1394 782.3L1396.5 786.3L1399 786.5L1401.5 786.6L1404 783L1406.5 781L1409 780.6L1411.5 777.9L1414 776.4L1416.5 774.5L1419 772.1L1421.5 770.7L1424 770.3L1426.5 772.6L1429 774.5L1431.5 778L1434 779.1L1436.5 773.6L1439 771.8L1441.5 772.4L1444 770.6L1446.5 772.9L1449 773L1451.5 772.1L1454 770.7L1456.5 772.4L1459 778.5L1461.5 778.5L1464 772L1466.5 771.1L1469 773.4L1471.5 773.9L1474 772.7L1476.5 769.4L1479 767.3L1481.5 767L1484 766.4L1486.5 767.4L1489 766.9L1491.5 763.2L1494 762.7L1496.5 762.5L1499 762.5L1501.5 759.9L1504 760L1506.5 758.8L1509 755.1L1511.5 759.7L1514 759.4L1516.5 763.7L1519 772.3L1521.5 774.6L1524 768.1L1526.5 763L1529 765.6L1531.5 769.3L1534 772.5L1536.5 773.9L1539 774.7L1541.5 775.5L1544 774.9L1546.5 772.8L1549 772.5L1551.5 772.1L1554 771.6L1556.5 770.8L1559 768.1L1561.5 767.6L1564 769.5L1566.5 768.4L1569 770.5L1571.5 774.6L1574 775.4L1576.5 774.3L1579 773.8L1581.5 773.3L1584 774.9L1586.5 779L1589 781.5L1591.5 780.4L1594 776.5L1596.5 775.8L1599 774.7L1601.5 773.7L1604 770.9L1606.5 770L1609 766.7L1611.5 765.9L1614 766.4L1616.5 766.1L1619 766.2L1621.5 767.2L1624 766L1626.5 766.7L1629 768.3L1631.5 768.4L1634 766.3L1636.5 766.9L1639 769.1L1641.5 770.4L1644 768.9L1646.5 772.7L1649 773.5L1651.5 775.6L1654 777.8L1656.5 777.9L1659 773.9L1661.5 774.5L1664 773.9L1666.5 774.7L1669 775.9L1671.5 775.9L1674 777.8L1676.5 778.5L1679 776.7L1681.5 774.5L1684 776.4L1686.5 775.1L1689 775L1691.5 774.5L1694 775.8L1696.5 778.1L1699 780.3L1701.5 783.2L1704 783.8L1706.5 784.9L1709 785.1L1711.5 788.1L1714 788.1L1716.5 785.9L1719 782.1L1721.5 782.7L1724 782.5L1726.5 782.7L1729 788.2L1731.5 789L1734 791.4L1736.5 797.3L1739 802.7L1741.5 805.9L1744 801.4L1746.5 800.7L1749 804.8L1751.5 803.4L1752.6 800.5" fill="none" stroke="#000" stroke-opacity="0.29" stroke-width="1.1" stroke-linejoin="round"/>
<path d="M1144 721.4L1146.5 718.8L1149 719.3L1151.5 721.7L1154 715.9L1156.5 709.9L1159 708.4L1161.5 709.2L1164 707.1L1166.5 706.1L1169 706.8L1171.5 709.1L1174 709.4L1176.5 710.6L1179 711.7L1181.5 711.2L1184 710.2L1186.5 710.6L1189 712L1191.5 715.9L1194 717.7L1196.5 717.8L1199 721.1L1201.5 723.6L1204 723.4L1206.5 722.4L1209 723L1211.5 723.9L1214 726.1L1216.5 727.2L1219 730.5L1221.5 732.2L1224 730.1L1226.5 729.6L1229 729.2L1231.5 732.6L1234 732.8L1236.5 731.2L1239 727L1241.5 725.4L1244 728.5L1246.5 731L1249 730.6L1251.5 730.2L1254 731.5L1256.5 733.1L1259 736.6L1261.5 740.4L1264 740L1266.5 742.8L1269 743.3L1271.5 743.8L1274 741L1276.5 736.7L1279 736.3L1281.5 735.2L1284 732L1286.5 735.7L1289 735.7L1291.5 735.7L1294 733.7L1296.5 730.9L1299 732.1L1301.5 733.2L1304 735.9L1306.5 737.7L1309 737.2L1311.5 736L1314 736L1316.5 737.4L1319 733.9L1321.5 730.1L1324 726.8L1326.5 727.7L1329 727.7L1331.5 730L1334 729.1L1336.5 728.5L1339 728.7L1341.5 728.7L1344 727.1L1346.5 724.2L1349 722.6L1351.5 720.3L1354 717.9L1356.5 718.3L1359 718.2L1361.5 716.9L1364 717.8L1366.5 719.8L1369 720.3L1371.5 720.5L1374 719.2L1376.5 717.8L1379 713.8L1381.5 706.8L1384 704.5L1386.5 701.7L1389 702.6L1391.5 704L1394 700.9L1396.5 704.4L1399 707L1401.5 706.2L1404 707.1L1406.5 703.9L1409 701.9L1411.5 698.1L1414 699.2L1416.5 697.1L1419 694.7L1421.5 696.1L1424 696L1426.5 693.1L1429 693L1431.5 694.5L1434 696.7L1436.5 699.6L1439 702.6L1441.5 706.2L1444 705.6L1446.5 703.1L1449 704.2L1451.5 707.6L1454 711.1L1456.5 710.8L1459 713L1461.5 711.5L1464 707.1L1466.5 703.9L1469 703L1471.5 699.3L1474 698.4L1476.5 702.6L1479 699.6L1481.5 697L1484 698.1L1486.5 699.7L1489 705.3L1491.5 712.7L1494 716.4L1496.5 713.3L1499 706.1L1501.5 703.2L1504 702.3L1506.5 701L1509 703.2L1511.5 704L1514 708.5L1516.5 712.5L1519 713.6L1521.5 712.7L1524 708L1526.5 705.5L1529 704.7L1531.5 708.2L1534 711.1L1536.5 712.3L1539 711.2L1541.5 707.8L1544 704.1L1546.5 702.3L1549 706.5L1551.5 707.7L1554 708.4L1556.5 708.4L1559 707.8L1561.5 710.8L1564 711.7L1566.5 710.5L1569 709.6L1571.5 710.3L1574 711L1576.5 708L1579 706.1L1581.5 705.5L1584 709.8L1586.5 713.6L1589 713.4L1591.5 714.4L1594 717.6L1596.5 720.6L1599 720.4L1601.5 719.4L1604 722.7L1606.5 724.7L1609 728L1611.5 725.3L1614 720L1616.5 722.9L1619 728.1L1621.5 729.6L1624 727.2L1626.5 728.3L1629 727.8L1631.5 722.6L1634 721.6L1636.5 721.4L1639 720.6L1641.5 718.9L1644 718.4L1646.5 722.6L1649 723.5L1651.5 724.6L1654 721L1656.5 717L1659 716.4L1661.5 714.7L1664 712.9L1666.5 711.7L1669 714.5L1671.5 715.2L1674 712.7L1676.5 713.4L1679 712.3L1681.5 713.9L1684 715.6L1686.5 717.4L1689 717.7L1691.5 716.1L1694 714.9L1696.5 715.3L1699 718.1L1701.5 716.7L1704 714.8L1706.5 717.5L1709 722.7L1711.5 730L1714 730.9L1716.5 728.3L1719 724.6L1721.5 722.6L1724 722L1726.5 726L1729 728.6L1731.5 725.1L1734 721.9L1736.5 718.8L1739 719L1741.5 717.8L1744 717.4L1746.5 717.4L1749 716.8L1751.5 712.8L1752.6 717.3" fill="none" stroke="#48f52a" stroke-opacity="0.36" stroke-width="1.1" stroke-linejoin="round"/>
<path d="M1144 755.4L1146.5 754.5L1149 752.2L1151.5 748.5L1154 745.8L1156.5 746.3L1159 742.8L1161.5 736.2L1164 731L1166.5 726.3L1169 727.2L1171.5 731.6L1174 730.6L1176.5 725.8L1179 718.7L1181.5 715.8L1184 721.5L1186.5 728.4L1189 732.1L1191.5 733.8L1194 733.7L1196.5 731.8L1199 735.4L1201.5 736.9L1204 739.3L1206.5 742.3L1209 742.6L1211.5 741.4L1214 740.9L1216.5 744.5L1219 743.3L1221.5 740.8L1224 741.7L1226.5 743.5L1229 747L1231.5 747.9L1234 748.5L1236.5 748L1239 746.7L1241.5 746.5L1244 746.8L1246.5 742.1L1249 739.9L1251.5 739.9L1254 737.5L1256.5 738L1259 740L1261.5 743.8L1264 742.3L1266.5 737.9L1269 736.1L1271.5 733.8L1274 734.9L1276.5 736.3L1279 737.3L1281.5 737.1L1284 737.6L1286.5 737.9L1289 737.8L1291.5 739.3L1294 742L1296.5 743.8L1299 744.4L1301.5 747.2L1304 748.1L1306.5 745.1L1309 741.9L1311.5 739.2L1314 736.1L1316.5 734.3L1319 734.1L1321.5 734.7L1324 735.2L1326.5 734.5L1329 734.8L1331.5 736.7L1334 736.2L1336.5 734L1339 732.3L1341.5 732.4L1344 729.7L1346.5 726.1L1349 726.6L1351.5 725.3L1354 723.1L1356.5 721.6L1359 723L1361.5 725.8L1364 726.1L1366.5 725.4L1369 722.2L1371.5 716.1L1374 714.4L1376.5 713.6L1379 711.5L1381.5 718.3L1384 719.6L1386.5 713.8L1389 713.2L1391.5 716.1L1394 716.1L1396.5 714.1L1399 718L1401.5 717.3L1404 709.9L1406.5 708.1L1409 705.5L1411.5 706.5L1414 706.2L1416.5 702.8L1419 701L1421.5 702.9L1424 703.3L1426.5 704.4L1429 704.1L1431.5 704.6L1434 708.3L1436.5 712.2L1439 710.2L1441.5 709.4L1444 709.8L1446.5 709.4L1449 708.4L1451.5 706.5L1454 708.6L1456.5 704.6L1459 704.7L1461.5 708.3L1464 708.5L1466.5 710.2L1469 713.2L1471.5 711.3L1474 713L1476.5 712.8L1479 713.3L1481.5 713.5L1484 711.4L1486.5 714.4L1489 714.6L1491.5 707.8L1494 707.3L1496.5 715.9L1499 718.4L1501.5 714.3L1504 711.6L1506.5 712.4L1509 714.6L1511.5 713.4L1514 714.9L1516.5 719L1519 720.1L1521.5 720.7L1524 724.4L1526.5 726L1529 724.4L1531.5 722.4L1534 721.8L1536.5 718.8L1539 715.7L1541.5 714.9L1544 718.5L1546.5 720L1549 721.8L1551.5 722.8L1554 720.1L1556.5 722.2L1559 720.2L1561.5 718.4L1564 721.5L1566.5 721.2L1569 719L1571.5 715.3L1574 714.3L1576.5 714.3L1579 714.5L1581.5 713.4L1584 710.7L1586.5 711.4L1589 713.1L1591.5 711.1L1594 711.2L1596.5 715.9L1599 716.7L1601.5 715.8L1604 715.4L1606.5 720.6L1609 726.6L1611.5 732.6L1614 733.3L1616.5 733.6L1619 735.7L1621.5 736L1624 738.3L1626.5 737.5L1629 734L1631.5 731L1634 730.8L1636.5 733.9L1639 734.2L1641.5 730.5L1644 729.8L1646.5 728.2L1649 729.6L1651.5 727.7L1654 722.8L1656.5 721L1659 717.8L1661.5 714.5L1664 715L1666.5 715.9L1669 719.7L1671.5 723.1L1674 720L1676.5 721.1L1679 721L1681.5 722.3L1684 720.5L1686.5 720.4L1689 720.2L1691.5 722L1694 725L1696.5 725.5L1699 727.3L1701.5 725.1L1704 726.2L1706.5 726.1L1709 722.5L1711.5 722.9L1714 726.4L1716.5 726.3L1719 725.9L1721.5 730.5L1724 730L1726.5 726.6L1729 724.7L1731.5 728.3L1734 733.4L1736.5 736.5L1739 736.9L1741.5 732.8L1744 732.9L1746.5 736.2L1749 736.8L1751.5 737L1752.6 738.4" fill="none" stroke="#48f52a" stroke-opacity="0.36" stroke-width="1.1" stroke-linejoin="round"/>
<path d="M1144 759.3L1146.5 755.6L1149 751.6L1151.5 752.9L1154 753.1L1156.5 752.2L1159 748.7L1161.5 745.5L1164 745.2L1166.5 742.9L1169 741.9L1171.5 745.1L1174 749.1L1176.5 751.6L1179 751.3L1181.5 749.5L1184 748.2L1186.5 750.5L1189 749.6L1191.5 752.3L1194 753.3L1196.5 752.2L1199 750.4L1201.5 752.2L1204 752.8L1206.5 754.9L1209 755.6L1211.5 753.3L1214 753.5L1216.5 754.2L1219 752.2L1221.5 753.6L1224 755.1L1226.5 753L1229 748L1231.5 747L1234 746.8L1236.5 747.3L1239 745.7L1241.5 746.7L1244 749.1L1246.5 750.1L1249 752.5L1251.5 754.5L1254 752.3L1256.5 750.2L1259 748.5L1261.5 747L1264 750.5L1266.5 754L1269 759.4L1271.5 761L1274 761.1L1276.5 759.8L1279 758.5L1281.5 757.7L1284 756.6L1286.5 756.4L1289 757.5L1291.5 758.6L1294 757L1296.5 755.2L1299 757.7L1301.5 758.8L1304 755.5L1306.5 751.6L1309 748.8L1311.5 749.1L1314 748L1316.5 749.3L1319 748.8L1321.5 745.1L1324 746L1326.5 749.7L1329 750.2L1331.5 749.3L1334 749L1336.5 749.4L1339 748.2L1341.5 746.4L1344 743.4L1346.5 744.5L1349 745.4L1351.5 741.9L1354 742.2L1356.5 738.7L1359 736.8L1361.5 734.1L1364 737.2L1366.5 738.3L1369 736.9L1371.5 732.1L1374 729.4L1376.5 724.7L1379 722.1L1381.5 720.3L1384 723.2L1386.5 729.7L1389 730.8L1391.5 731.4L1394 732.7L1396.5 730.3L1399 727.6L1401.5 727.6L1404 726.4L1406.5 722.5L1409 718.5L1411.5 713.5L1414 711.2L1416.5 711.6L1419 711.2L1421.5 709.7L1424 711.9L1426.5 715.8L1429 714L1431.5 715.8L1434 722.2L1436.5 725.9L1439 727.3L1441.5 729.9L1444 734.6L1446.5 734.2L1449 733.3L1451.5 734.1L1454 730.4L1456.5 727.6L1459 725.8L1461.5 720.5L1464 722.5L1466.5 726.9L1469 729.3L1471.5 729.6L1474 726.4L1476.5 724.1L1479 724.3L1481.5 724.5L1484 727.2L1486.5 726.5L1489 727.5L1491.5 725.4L1494 724.7L1496.5 724.2L1499 724.1L1501.5 723.3L1504 723.9L1506.5 723.1L1509 729.4L1511.5 733.1L1514 732.1L1516.5 730.3L1519 727.6L1521.5 727.8L1524 726.9L1526.5 729.1L1529 731.8L1531.5 732.6L1534 731.1L1536.5 731.4L1539 730.2L1541.5 727.9L1544 731.5L1546.5 730.5L1549 721.8L1551.5 719.9L1554 720.2L1556.5 723.1L1559 727L1561.5 726.1L1564 728L1566.5 730L1569 733.7L1571.5 734.2L1574 735L1576.5 734.2L1579 732.8L1581.5 735.4L1584 734.4L1586.5 736.3L1589 733.8L1591.5 727.4L1594 725.2L1596.5 724.4L1599 725.7L1601.5 724.5L1604 723L1606.5 722.5L1609 730.1L1611.5 737.1L1614 741.5L1616.5 740.4L1619 737.2L1621.5 734.5L1624 731.8L1626.5 731.6L1629 730.3L1631.5 728.4L1634 726L1636.5 727.2L1639 730.1L1641.5 731.9L1644 730.6L1646.5 731.9L1649 733.1L1651.5 733.6L1654 735.5L1656.5 733.2L1659 731L1661.5 732.5L1664 734.9L1666.5 737.7L1669 740.2L1671.5 743.6L1674 742L1676.5 742.4L1679 746.4L1681.5 749.3L1684 747.8L1686.5 740.3L1689 741.1L1691.5 740L1694 735.8L1696.5 734.5L1699 735.3L1701.5 736.1L1704 735.9L1706.5 735.5L1709 735.7L1711.5 734.9L1714 739.4L1716.5 746.3L1719 748L1721.5 750.3L1724 748.2L1726.5 748.2L1729 742.6L1731.5 738.3L1734 734.8L1736.5 731.5L1739 730.8L1741.5 735.4L1744 740.2L1746.5 743.7L1749 747.6L1751.5 749.9L1752.6 749.5" fill="none" stroke="#48f52a" stroke-opacity="0.36" stroke-width="1.1" stroke-linejoin="round"/>
<path d="M1144 771.2L1146.5 771.2L1149 771.2L1151.5 766L1154 759.3L1156.5 759.3L1159 760.3L1161.5 760.3L1164 757.3L1166.5 758L1169 759.3L1171.5 758.2L1174 757.5L1176.5 756.5L1179 756.6L1181.5 755.4L1184 754.6L1186.5 753.9L1189 752.7L1191.5 755.6L1194 757.3L1196.5 756.6L1199 758.2L1201.5 756.1L1204 755.8L1206.5 754.6L1209 755L1211.5 753.6L1214 752.6L1216.5 754.3L1219 751.7L1221.5 751.8L1224 755.8L1226.5 759.7L1229 761.4L1231.5 761.3L1234 759.1L1236.5 754.9L1239 758L1241.5 761.6L1244 761L1246.5 762.1L1249 764.2L1251.5 760L1254 754.9L1256.5 753.7L1259 755.7L1261.5 759.2L1264 762.2L1266.5 759.6L1269 756.5L1271.5 750.9L1274 749.9L1276.5 750.9L1279 754.2L1281.5 754.9L1284 759.9L1286.5 760.6L1289 758.2L1291.5 755.8L1294 757.9L1296.5 758.5L1299 761.1L1301.5 759.3L1304 761.5L1306.5 762L1309 760.3L1311.5 756.6L1314 753.4L1316.5 756.4L1319 759.1L1321.5 759.4L1324 758.7L1326.5 758.6L1329 759.5L1331.5 757.8L1334 753.3L1336.5 747.9L1339 746.6L1341.5 746.7L1344 744.7L1346.5 740.5L1349 738.7L1351.5 737.3L1354 735.2L1356.5 733.2L1359 732.5L1361.5 733.5L1364 736.9L1366.5 738.4L1369 736L1371.5 736.7L1374 734.9L1376.5 731.4L1379 728.7L1381.5 725L1384 722.7L1386.5 723.4L1389 725.8L1391.5 725.3L1394 723.2L1396.5 724.5L1399 725.5L1401.5 726.1L1404 723.2L1406.5 717.8L1409 718.3L1411.5 720.4L1414 717.7L1416.5 713.7L1419 718L1421.5 720L1424 721.2L1426.5 720.3L1429 720.1L1431.5 719.3L1434 714.7L1436.5 714.9L1439 718.8L1441.5 719.2L1444 718.6L1446.5 716.5L1449 716.5L1451.5 718.8L1454 719.3L1456.5 722.2L1459 725L1461.5 727.2L1464 729.1L1466.5 730L1469 727.7L1471.5 731L1474 734.4L1476.5 734.2L1479 731.7L1481.5 732.7L1484 735.9L1486.5 735.9L1489 735.7L1491.5 734L1494 732.6L1496.5 732.3L1499 732.1L1501.5 732.4L1504 731.2L1506.5 733.4L1509 739.9L1511.5 743.7L1514 741.4L1516.5 741.3L1519 742.1L1521.5 743.5L1524 744.6L1526.5 746.2L1529 746.9L1531.5 747.1L1534 741.8L1536.5 739.1L1539 740.8L1541.5 741.5L1544 739.7L1546.5 737.1L1549 736.7L1551.5 737.2L1554 736.2L1556.5 740L1559 738.7L1561.5 736.1L1564 738.2L1566.5 736.6L1569 735.4L1571.5 734L1574 732.9L1576.5 730.7L1579 732.7L1581.5 732.8L1584 733.8L1586.5 737L1589 739.1L1591.5 739.6L1594 738.5L1596.5 740.4L1599 745.4L1601.5 745.3L1604 744.2L1606.5 742.5L1609 743.3L1611.5 742.8L1614 742.8L1616.5 746.7L1619 751.1L1621.5 753.9L1624 751.6L1626.5 753.9L1629 758L1631.5 756.1L1634 754.4L1636.5 753.5L1639 750.8L1641.5 751.7L1644 747.6L1646.5 746.3L1649 745.7L1651.5 746.9L1654 747.3L1656.5 745.3L1659 746.7L1661.5 748.4L1664 750.5L1666.5 749.1L1669 746.6L1671.5 743.9L1674 742.8L1676.5 746.6L1679 748.2L1681.5 747L1684 748L1686.5 747.2L1689 748.7L1691.5 748.9L1694 751.8L1696.5 747.9L1699 744.1L1701.5 743.9L1704 743.8L1706.5 745.3L1709 749.2L1711.5 754.1L1714 756.3L1716.5 756.4L1719 755.8L1721.5 755.8L1724 757.4L1726.5 755.8L1729 756.5L1731.5 761.4L1734 765.3L1736.5 764.6L1739 768.1L1741.5 770.1L1744 768.1L1746.5 764.9L1749 761.9L1751.5 764.6L1752.6 763.4" fill="none" stroke="#48f52a" stroke-opacity="0.36" stroke-width="1.1" stroke-linejoin="round"/>
<path d="M1144 783.2L1146.5 780.6L1149 778.3L1151.5 776.3L1154 772.7L1156.5 771.8L1159 772.1L1161.5 771.2L1164 769.3L1166.5 767L1169 767L1171.5 764.6L1174 763.1L1176.5 764.5L1179 763.3L1181.5 762.7L1184 760L1186.5 758.9L1189 763.4L1191.5 767.9L1194 770.7L1196.5 770.8L1199 771.3L1201.5 772.3L1204 769.9L1206.5 768.7L1209 767.2L1211.5 765.7L1214 764.8L1216.5 760.7L1219 760.4L1221.5 764.3L1224 767.1L1226.5 769.6L1229 771.9L1231.5 773.3L1234 772.9L1236.5 771L1239 769.5L1241.5 770.6L1244 771.7L1246.5 767.9L1249 767.5L1251.5 769L1254 767.7L1256.5 766.8L1259 770.3L1261.5 769.8L1264 769.1L1266.5 774.9L1269 772.6L1271.5 774L1274 777.4L1276.5 777.6L1279 778.2L1281.5 777.3L1284 776.2L1286.5 773.7L1289 771.9L1291.5 772.9L1294 772.7L1296.5 770.1L1299 767.7L1301.5 766.2L1304 764.2L1306.5 760.3L1309 758.8L1311.5 757.7L1314 755.9L1316.5 757.3L1319 758.5L1321.5 761.5L1324 763.8L1326.5 762.4L1329 760.3L1331.5 762.8L1334 761.3L1336.5 761.4L1339 759.5L1341.5 757.1L1344 757.9L1346.5 759.2L1349 762.5L1351.5 761.2L1354 753.9L1356.5 750.2L1359 749.7L1361.5 751.3L1364 750.7L1366.5 749.1L1369 747.8L1371.5 747.5L1374 744.9L1376.5 750.8L1379 754L1381.5 752.5L1384 749.6L1386.5 742.3L1389 738.7L1391.5 736.5L1394 732.4L1396.5 735.4L1399 738L1401.5 739.6L1404 738.3L1406.5 737.1L1409 737.3L1411.5 737.8L1414 736L1416.5 735.1L1419 733.1L1421.5 729.2L1424 724.6L1426.5 724.3L1429 725L1431.5 726.1L1434 727.5L1436.5 730.5L1439 729L1441.5 725.4L1444 729.8L1446.5 731.9L1449 734.7L1451.5 734L1454 738.1L1456.5 740.1L1459 740.9L1461.5 741L1464 739.2L1466.5 739.3L1469 741.4L1471.5 744.7L1474 745.3L1476.5 747.2L1479 748.4L1481.5 749.6L1484 750.5L1486.5 748.4L1489 744.6L1491.5 745L1494 746.8L1496.5 744.3L1499 740L1501.5 743.1L1504 745.1L1506.5 745.2L1509 749.2L1511.5 751.1L1514 749.8L1516.5 750.2L1519 752.7L1521.5 756.7L1524 758.7L1526.5 760.2L1529 760.1L1531.5 758.7L1534 755.2L1536.5 754.6L1539 754.5L1541.5 756.2L1544 757.1L1546.5 757.1L1549 754.2L1551.5 752.6L1554 753.9L1556.5 753.1L1559 757.3L1561.5 759.1L1564 758.8L1566.5 759.3L1569 759L1571.5 763.8L1574 764.9L1576.5 763.7L1579 761.9L1581.5 759.5L1584 760.1L1586.5 760.5L1589 762.7L1591.5 765.5L1594 766L1596.5 763.9L1599 768.7L1601.5 773L1604 770.2L1606.5 766.1L1609 765.4L1611.5 765L1614 768L1616.5 767.5L1619 768.2L1621.5 769.9L1624 769.8L1626.5 766.4L1629 765.7L1631.5 766.5L1634 768.5L1636.5 766.7L1639 765.5L1641.5 765.1L1644 762.6L1646.5 761.8L1649 762.9L1651.5 765.5L1654 768.6L1656.5 771L1659 778.1L1661.5 776L1664 770.6L1666.5 769.6L1669 767.4L1671.5 763.2L1674 761.7L1676.5 760.7L1679 758.2L1681.5 759.8L1684 761.9L1686.5 764.5L1689 764.6L1691.5 765.2L1694 768.8L1696.5 772.7L1699 768L1701.5 764.1L1704 762.2L1706.5 759.7L1709 763.7L1711.5 763.8L1714 769.2L1716.5 774.6L1719 776.7L1721.5 776.4L1724 774.4L1726.5 774.2L1729 774.8L1731.5 773.1L1734 771.4L1736.5 771.9L1739 774.1L1741.5 773.6L1744 773.8L1746.5 772.3L1749 773.3L1751.5 776.1L1752.6 779.4" fill="none" stroke="#48f52a" stroke-opacity="0.36" stroke-width="1.1" stroke-linejoin="round"/>
<path d="M1144 790.3L1146.5 788.1L1149 787.3L1151.5 785.7L1154 781.6L1156.5 780.9L1159 780.5L1161.5 781L1164 775.7L1166.5 768.3L1169 763.3L1171.5 760.5L1174 757.7L1176.5 758.9L1179 757.4L1181.5 757.5L1184 758.4L1186.5 762.6L1189 768.3L1191.5 772.1L1194 773.4L1196.5 773.9L1199 776L1201.5 778.9L1204 777.7L1206.5 777.5L1209 774.4L1211.5 769.6L1214 773L1216.5 773.9L1219 776.8L1221.5 778.2L1224 777.8L1226.5 779.8L1229 777.7L1231.5 777.5L1234 777.5L1236.5 779.4L1239 780L1241.5 780.3L1244 779.8L1246.5 778.1L1249 777.5L1251.5 778.6L1254 778.1L1256.5 782.2L1259 786.1L1261.5 780.8L1264 775.8L1266.5 779.6L1269 783.2L1271.5 783.7L1274 784L1276.5 785.4L1279 787L1281.5 788.1L1284 789.1L1286.5 788.6L1289 788.7L1291.5 787.5L1294 782.3L1296.5 783.6L1299 784.6L1301.5 784.4L1304 783.8L1306.5 780.2L1309 777.4L1311.5 779.5L1314 782.8L1316.5 779L1319 775L1321.5 776.4L1324 780.1L1326.5 774.7L1329 773.7L1331.5 776.8L1334 775.5L1336.5 772.3L1339 771.7L1341.5 770.7L1344 771.7L1346.5 771.3L1349 770L1351.5 769.2L1354 766.5L1356.5 768L1359 765.4L1361.5 760.8L1364 759.2L1366.5 760.7L1369 761.6L1371.5 761.9L1374 760.7L1376.5 759.7L1379 759.6L1381.5 758.3L1384 754.8L1386.5 756.1L1389 755.5L1391.5 753.4L1394 750.7L1396.5 747.6L1399 746.5L1401.5 743.2L1404 740.3L1406.5 741.4L1409 738.6L1411.5 736.9L1414 739.8L1416.5 744L1419 746.7L1421.5 746.8L1424 746L1426.5 751.7L1429 754L1431.5 753.5L1434 751.8L1436.5 752.7L1439 750.2L1441.5 748.8L1444 753.7L1446.5 757.2L1449 760.6L1451.5 761.5L1454 759.7L1456.5 756.5L1459 755.3L1461.5 751.7L1464 750.9L1466.5 755.6L1469 755.2L1471.5 755.6L1474 756.9L1476.5 754.8L1479 758.2L1481.5 757.6L1484 759.4L1486.5 760.6L1489 760.8L1491.5 761.5L1494 759L1496.5 759.9L1499 762.1L1501.5 763.4L1504 760.2L1506.5 755.9L1509 758.9L1511.5 762.4L1514 760.7L1516.5 760L1519 762.4L1521.5 764.9L1524 766.5L1526.5 766.6L1529 767.8L1531.5 765.8L1534 762.1L1536.5 759.5L1539 759.6L1541.5 757.7L1544 754.7L1546.5 753.8L1549 755.7L1551.5 755.2L1554 752.8L1556.5 750.3L1559 752.6L1561.5 755.1L1564 759.1L1566.5 759.3L1569 761.5L1571.5 761L1574 764.2L1576.5 766.9L1579 767L1581.5 764.9L1584 768.3L1586.5 772.8L1589 772.7L1591.5 771.9L1594 770.6L1596.5 769.9L1599 769.2L1601.5 769.9L1604 773.3L1606.5 777.9L1609 780L1611.5 779.4L1614 780.7L1616.5 780.5L1619 781.1L1621.5 782L1624 780L1626.5 776.7L1629 777.7L1631.5 779.3L1634 781.6L1636.5 781.9L1639 779.8L1641.5 783.1L1644 783.5L1646.5 778.4L1649 776.7L1651.5 776.9L1654 776.4L1656.5 774.9L1659 774.3L1661.5 775.2L1664 773.3L1666.5 775L1669 775.1L1671.5 773.4L1674 771.8L1676.5 768.9L1679 767.7L1681.5 767.7L1684 769.4L1686.5 767.8L1689 766.5L1691.5 768.2L1694 770.6L1696.5 774.9L1699 777.5L1701.5 776.3L1704 778.5L1706.5 778.4L1709 782.8L1711.5 785.4L1714 783.3L1716.5 781.5L1719 785.9L1721.5 787.7L1724 788.6L1726.5 787.8L1729 784.6L1731.5 782.7L1734 782L1736.5 780.2L1739 783.5L1741.5 782.3L1744 777L1746.5 775.6L1749 777.7L1751.5 777.8L1752.6 780.9" fill="none" stroke="#48f52a" stroke-opacity="0.36" stroke-width="1.1" stroke-linejoin="round"/>
<path d="M1144 807.5L1146.5 807.4L1149 806.1L1151.5 802.2L1154 797.5L1156.5 794.6L1159 795.3L1161.5 796.2L1164 794L1166.5 794.4L1169 791.5L1171.5 786.3L1174 785.2L1176.5 779.1L1179 770L1181.5 766.2L1184 768.5L1186.5 771.3L1189 775.4L1191.5 780.8L1194 783L1196.5 782.8L1199 785L1201.5 785.3L1204 784L1206.5 782.4L1209 781.8L1211.5 783.2L1214 784L1216.5 788.1L1219 788.4L1221.5 788.3L1224 789.2L1226.5 788.6L1229 786.8L1231.5 787.7L1234 785.9L1236.5 781.9L1239 779.4L1241.5 782.5L1244 785L1246.5 785.9L1249 787.3L1251.5 786.7L1254 782.9L1256.5 781L1259 783.1L1261.5 785.8L1264 790.3L1266.5 791.8L1269 795.1L1271.5 797.4L1274 797.6L1276.5 799.2L1279 798.1L1281.5 794.4L1284 788L1286.5 789.3L1289 793L1291.5 791.8L1294 791.4L1296.5 792.1L1299 793.9L1301.5 793.2L1304 787.6L1306.5 785.8L1309 780.5L1311.5 778.5L1314 782.2L1316.5 782.7L1319 788.2L1321.5 789.5L1324 787.9L1326.5 784.2L1329 784.8L1331.5 783.9L1334 779.4L1336.5 779.5L1339 781.2L1341.5 775.5L1344 769.7L1346.5 768.3L1349 772.9L1351.5 771.4L1354 769L1356.5 769.7L1359 769.9L1361.5 768.5L1364 764.7L1366.5 763.3L1369 764.3L1371.5 766.3L1374 763.1L1376.5 762.2L1379 764.6L1381.5 767.7L1384 766.7L1386.5 764.6L1389 762.8L1391.5 759.1L1394 761.4L1396.5 760.6L1399 758.9L1401.5 754.6L1404 752.8L1406.5 752L1409 751.5L1411.5 750.9L1414 751.7L1416.5 752.4L1419 754.7L1421.5 751.9L1424 746.8L1426.5 744.7L1429 744.2L1431.5 742.6L1434 742.4L1436.5 742L1439 741.8L1441.5 743.2L1444 744.8L1446.5 747.6L1449 752L1451.5 754.3L1454 752.7L1456.5 750.1L1459 749.9L1461.5 749.4L1464 752.3L1466.5 753.2L1469 751.3L1471.5 750.9L1474 747.2L1476.5 746.5L1479 749.3L1481.5 747.3L1484 745.5L1486.5 742.3L1489 737.9L1491.5 738.4L1494 739.4L1496.5 736.9L1499 735.4L1501.5 735.9L1504 736L1506.5 738.3L1509 739.8L1511.5 737.6L1514 740.1L1516.5 745L1519 750.5L1521.5 752L1524 752.1L1526.5 750.7L1529 751L1531.5 751.3L1534 750.6L1536.5 750.9L1539 751.1L1541.5 752.3L1544 750.8L1546.5 747.6L1549 747.7L1551.5 750.8L1554 751L1556.5 750.7L1559 751.3L1561.5 752L1564 748.3L1566.5 745L1569 743.2L1571.5 747.7L1574 752.8L1576.5 755.9L1579 757.4L1581.5 758.1L1584 756L1586.5 755.3L1589 752.7L1591.5 750.4L1594 748.9L1596.5 751.7L1599 753.8L1601.5 756.7L1604 758.1L1606.5 759.5L1609 760L1611.5 761.1L1614 761.4L1616.5 761.6L1619 763.6L1621.5 764.1L1624 762.4L1626.5 761.1L1629 759.1L1631.5 756.7L1634 757.3L1636.5 762.1L1639 762.5L1641.5 765.9L1644 767.6L1646.5 770.2L1649 772.3L1651.5 769.2L1654 767.5L1656.5 765.7L1659 766.1L1661.5 766.6L1664 768.1L1666.5 771.2L1669 770.3L1671.5 766.5L1674 764.8L1676.5 763.1L1679 761.3L1681.5 758.6L1684 761.4L1686.5 763.2L1689 759.7L1691.5 754.5L1694 754.3L1696.5 757.2L1699 760.7L1701.5 762.8L1704 762.9L1706.5 761.8L1709 761.9L1711.5 761.9L1714 760.6L1716.5 758.7L1719 761.5L1721.5 766.4L1724 770.8L1726.5 772.4L1729 774.4L1731.5 772L1734 770.7L1736.5 773.6L1739 773.9L1741.5 777.5L1744 774.6L1746.5 770.4L1749 767.4L1751.5 769.1L1752.6 771.4" fill="none" stroke="#48f52a" stroke-opacity="0.36" stroke-width="1.1" stroke-linejoin="round"/>
<path d="M1144 797.2L1146.5 797L1149 799.4L1151.5 797L1154 794.3L1156.5 791.5L1159 791.3L1161.5 789.3L1164 787.9L1166.5 789.2L1169 794.7L1171.5 794.3L1174 792.6L1176.5 790.8L1179 789.4L1181.5 789.1L1184 786.2L1186.5 786.1L1189 788L1191.5 789.4L1194 786.7L1196.5 787.2L1199 793.7L1201.5 797.5L1204 800.2L1206.5 800.4L1209 796.3L1211.5 793.2L1214 790.1L1216.5 791.5L1219 792.1L1221.5 789.9L1224 786.6L1226.5 783.4L1229 783.7L1231.5 789.9L1234 796L1236.5 792.5L1239 790.1L1241.5 792L1244 789.8L1246.5 786.9L1249 788.1L1251.5 790.9L1254 789.3L1256.5 788.7L1259 787.9L1261.5 786L1264 789.5L1266.5 792.1L1269 793.1L1271.5 793.3L1274 796.7L1276.5 799.5L1279 801.4L1281.5 801.9L1284 803.3L1286.5 803.7L1289 799.9L1291.5 797.9L1294 793.8L1296.5 789.5L1299 788.7L1301.5 787.6L1304 790.6L1306.5 791.9L1309 793.2L1311.5 795.2L1314 797.2L1316.5 798.2L1319 795.9L1321.5 795.5L1324 798.7L1326.5 794.6L1329 792.2L1331.5 792.7L1334 792.8L1336.5 791.2L1339 791.2L1341.5 787.6L1344 784.8L1346.5 782.2L1349 777.5L1351.5 779L1354 779.7L1356.5 779.9L1359 780.2L1361.5 779.9L1364 779.3L1366.5 779.4L1369 779L1371.5 776.9L1374 775.6L1376.5 772.1L1379 767.9L1381.5 768.7L1384 771.3L1386.5 770.1L1389 764.9L1391.5 762.5L1394 763.9L1396.5 765.5L1399 766.9L1401.5 767.7L1404 765.6L1406.5 763L1409 759L1411.5 758L1414 757.6L1416.5 755.4L1419 750.9L1421.5 750.8L1424 750.3L1426.5 751.4L1429 749.9L1431.5 748.4L1434 751.8L1436.5 755.2L1439 755.5L1441.5 753.1L1444 753.2L1446.5 748.2L1449 748.1L1451.5 748L1454 746L1456.5 746.2L1459 744.6L1461.5 744.8L1464 746.2L1466.5 745.5L1469 742.6L1471.5 744.5L1474 742.9L1476.5 740.4L1479 742.9L1481.5 747.1L1484 749.1L1486.5 746L1489 743.4L1491.5 745.2L1494 744.8L1496.5 745.3L1499 744.8L1501.5 744.6L1504 741.3L1506.5 737.4L1509 736.4L1511.5 738.5L1514 741.3L1516.5 741.5L1519 742.1L1521.5 748.2L1524 750.3L1526.5 748.9L1529 746.8L1531.5 748.8L1534 749.8L1536.5 744.9L1539 742L1541.5 739.9L1544 738.3L1546.5 740.9L1549 745.4L1551.5 748L1554 746.8L1556.5 748.3L1559 750.5L1561.5 747L1564 742.9L1566.5 741.1L1569 743.5L1571.5 749.8L1574 751.9L1576.5 749.7L1579 750.3L1581.5 751.6L1584 748.5L1586.5 747.2L1589 751.1L1591.5 751.7L1594 750.7L1596.5 750.2L1599 748.3L1601.5 746.6L1604 744L1606.5 743.1L1609 749.7L1611.5 750.6L1614 752.6L1616.5 751.6L1619 752.9L1621.5 753.6L1624 752.2L1626.5 752.3L1629 753.8L1631.5 756L1634 757.5L1636.5 754.7L1639 753.6L1641.5 755.6L1644 757.5L1646.5 758.3L1649 758.4L1651.5 754.7L1654 754.4L1656.5 751L1659 749.8L1661.5 751.4L1664 754.9L1666.5 751.9L1669 747.9L1671.5 748.1L1674 751.4L1676.5 750L1679 747.7L1681.5 744.4L1684 744.5L1686.5 745.6L1689 747.5L1691.5 750.9L1694 751.7L1696.5 754L1699 757.3L1701.5 757.8L1704 759.8L1706.5 760.9L1709 760.4L1711.5 761.4L1714 763.2L1716.5 760.2L1719 762.6L1721.5 760.8L1724 761.1L1726.5 761L1729 761L1731.5 760L1734 758.8L1736.5 756.4L1739 752.6L1741.5 751.3L1744 755.4L1746.5 758.3L1749 760.4L1751.5 758.9L1752.6 754.2" fill="none" stroke="#48f52a" stroke-opacity="0.36" stroke-width="1.1" stroke-linejoin="round"/>
<path d="M1144 759.9L1146 759.2L1148 758.1L1150 757.1L1152 756.2L1154 755.5L1156 754.8L1158 754.1L1160 753.6L1162 753.1L1164 752.7L1166 752.5L1168 752.3L1170 752.2L1172 752.1L1174 752.1L1176 752.1L1178 752.1L1180 752.2L1182 752.4L1184 752.6L1186 753L1188 753.6L1190 754.2L1192 754.9L1194 755.7L1196 756.6L1198 757.4L1200 758.1L1202 758.8L1204 759.5L1206 759.9L1208 760L1210 759.8L1212 759.6L1214 759.3L1216 758.8L1218 758.3L1220 758L1222 757.9L1224 757.9L1226 758L1228 758.4L1230 759.1L1232 760L1234 760.8L1236 761.6L1238 762.4L1240 763.2L1242 763.9L1244 764.5L1246 765.1L1248 765.6L1250 766L1252 766.2L1254 766.5L1256 766.7L1258 767L1260 767.2L1262 767.4L1264 767.5L1266 767.5L1268 767.5L1270 767.5L1272 767.5L1274 767.5L1276 767.6L1278 767.7L1280 768L1282 768.3L1284 768.6L1286 769.1L1288 769.6L1290 770.1L1292 770.5L1294 770.8L1296 771L1298 771L1300 770.8L1302 770.4L1304 769.8L1306 768.8L1308 767.6L1310 766.4L1312 765.4L1314 764.6L1316 763.8L1318 763.3L1320 762.8L1322 762.6L1324 762.3L1326 761.9L1328 761.5L1330 761L1332 760.3L1334 759.4L1336 758.4L1338 757.4L1340 756.4L1342 755.4L1344 754.5L1346 753.5L1348 752.7L1350 752L1352 751.3L1354 750.8L1356 750.5L1358 750.2L1360 750.1L1362 750L1364 750L1366 750L1368 749.9L1370 749.8L1372 749.7L1374 749.6L1376 749.3L1378 749L1380 748.7L1382 748.4L1384 748L1386 747.7L1388 747.4L1390 747.1L1392 746.8L1394 746.7L1396 746.7L1398 746.9L1400 747.1L1402 747.3L1404 747.5L1406 747.7L1408 747.8L1410 747.8L1412 747.6L1414 747.5L1416 747.3L1418 747.2L1420 747L1422 746.9L1424 746.9L1426 746.8L1428 746.8L1430 747L1432 747.2L1434 747.6L1436 748.1L1438 748.5L1440 749L1442 749.5L1444 749.9L1446 750.2L1448 750.4L1450 750.6L1452 750.8L1454 751L1456 751.2L1458 751.4L1460 751.5L1462 751.7L1464 751.8L1466 751.9L1468 752L1470 752.1L1472 752.2L1474 752.2L1476 752.2L1478 752.2L1480 752.3L1482 752.4L1484 752.5L1486 752.5L1488 752.4L1490 752.3L1492 752.2L1494 752.1L1496 752L1498 751.9L1500 751.8L1502 751.7L1504 751.6L1506 751.6L1508 751.7L1510 751.9L1512 752.1L1514 752.4L1516 752.8L1518 753.3L1520 753.8L1522 754.1L1524 754.4L1526 754.6L1528 754.8L1530 754.8L1532 754.8L1534 754.8L1536 754.8L1538 754.8L1540 754.8L1542 754.8L1544 754.8L1546 754.8L1548 754.9L1550 755L1552 755.1L1554 755.2L1556 755.5L1558 755.8L1560 756.1L1562 756.6L1564 757.3L1566 758.2L1568 759.2L1570 760.1L1572 761L1574 761.7L1576 762.5L1578 763.2L1580 764L1582 764.7L1584 765.2L1586 765.4L1588 765.4L1590 765.3L1592 765.2L1594 764.9L1596 764.5L1598 764.1L1600 763.7L1602 763.2L1604 762.7L1606 762.3L1608 762L1610 761.7L1612 761.5L1614 761.4L1616 761.4L1618 761.4L1620 761.5L1622 761.8L1624 762.1L1626 762.5L1628 762.9L1630 763.4L1632 763.8L1634 764.1L1636 764.3L1638 764.4L1640 764.6L1642 764.8L1644 765L1646 765.3L1648 765.6L1650 766.1L1652 766.6L1654 767L1656 767.4L1658 767.6L1660 767.8L1662 767.9L1664 767.9L1666 767.8L1668 767.8L1670 767.8L1672 767.9L1674 768L1676 768.2L1678 768.4L1680 768.6L1682 768.8L1684 768.9L1686 768.9L1688 768.9L1690 768.8L1692 768.6L1694 768.4L1696 768.1L1698 767.9L1700 767.6L1702 767.4L1704 767.2L1706 767L1708 766.8L1710 766.8L1712 767L1714 767.3L1716 767.7L1718 768.4L1720 769.2L1722 770.2L1724 771.4L1726 772.8L1728 774.4L1730 776.2L1732 777.7L1734 779.1L1736 780.4L1738 781.5L1740 782.5L1742 783.3L1744 784.1L1746 784.5L1748 784.8L1750 784.8L1752 784.8L1752.6 784.8" fill="none" stroke="#000" stroke-width="4.6" stroke-linejoin="round" stroke-linecap="butt"/>
<path d="M1144 780.2L1146 779.4L1148 778.2L1150 777L1152 775.6L1154 774.1L1156 772.6L1158 771.3L1160 770L1162 768.7L1164 767.5L1166 766.2L1168 765L1170 763.8L1172 762.6L1174 761.6L1176 760.6L1178 759.9L1180 759.5L1182 759.3L1184 759.4L1186 759.9L1188 760.8L1190 762L1192 763.1L1194 764.4L1196 765.6L1198 766.7L1200 767.5L1202 768.1L1204 768.5L1206 768.5L1208 768.1L1210 767.3L1212 766.6L1214 766.1L1216 765.9L1218 765.8L1220 765.9L1222 766.2L1224 766.7L1226 767.2L1228 767.5L1230 767.6L1232 767.7L1234 767.4L1236 766.7L1238 765.6L1240 764.7L1242 764L1244 763.6L1246 763.3L1248 763.3L1250 763.4L1252 763.6L1254 764L1256 764.6L1258 765.5L1260 766.5L1262 767.4L1264 768.1L1266 768.7L1268 769.2L1270 769.5L1272 769.6L1274 769.6L1276 769.5L1278 769.2L1280 768.9L1282 768.5L1284 768.2L1286 767.8L1288 767.5L1290 767.2L1292 767L1294 766.8L1296 766.7L1298 766.5L1300 766.2L1302 766L1304 765.8L1306 765.6L1308 765.5L1310 765.5L1312 765.6L1314 765.9L1316 766.3L1318 766.4L1320 766.3L1322 766.1L1324 765.8L1326 765.3L1328 764.6L1330 763.8L1332 763L1334 762.2L1336 761.4L1338 760.5L1340 759.7L1342 758.9L1344 758.1L1346 757.4L1348 756.7L1350 756.1L1352 755.5L1354 755L1356 754.6L1358 754.2L1360 753.8L1362 753.5L1364 753.1L1366 752.7L1368 752.3L1370 751.8L1372 751.3L1374 750.8L1376 750.2L1378 749.5L1380 748.9L1382 748.2L1384 747.5L1386 746.8L1388 746.1L1390 745.5L1392 744.8L1394 744.1L1396 743.4L1398 742.7L1400 741.9L1402 741.1L1404 740.2L1406 739.2L1408 738.1L1410 736.8L1412 735.4L1414 733.9L1416 732.7L1418 731.7L1420 731L1422 730.4L1424 730.1L1426 730.2L1428 730.5L1430 730.9L1432 731.5L1434 732.3L1436 733L1438 733.6L1440 734.1L1442 734.6L1444 734.9L1446 735.1L1448 735L1450 735L1452 734.9L1454 734.6L1456 734.2L1458 733.7L1460 733.3L1462 733.1L1464 732.9L1466 732.7L1468 732.6L1470 732.6L1472 732.6L1474 732.8L1476 733L1478 733L1480 733L1482 732.8L1484 732.6L1486 732.4L1488 732.3L1490 732.1L1492 731.9L1494 731.5L1496 731L1498 730.6L1500 730.6L1502 730.8L1504 731.3L1506 732L1508 733L1510 734.2L1512 735.5L1514 736.7L1516 738L1518 739.2L1520 740.1L1522 740.4L1524 740.3L1526 740L1528 739.6L1530 738.9L1532 738.2L1534 737.5L1536 736.9L1538 736.4L1540 735.9L1542 735.7L1544 735.6L1546 735.8L1548 736L1550 736.3L1552 736.6L1554 736.9L1556 737.1L1558 737.2L1560 737.2L1562 737.3L1564 737.4L1566 737.6L1568 737.9L1570 738.2L1572 738.7L1574 739.2L1576 739.7L1578 740.2L1580 740.8L1582 741.4L1584 741.9L1586 742.4L1588 742.8L1590 743.2L1592 743.7L1594 744.2L1596 744.7L1598 745.2L1600 745.7L1602 746.2L1604 746.7L1606 747.5L1608 748.4L1610 749.4L1612 750.3L1614 751.2L1616 751.9L1618 752.6L1620 753.1L1622 753.4L1624 753.7L1626 753.7L1628 753.6L1630 753.2L1632 752.8L1634 752.4L1636 752.1L1638 751.7L1640 751.5L1642 751.3L1644 751.3L1646 751.3L1648 751.4L1650 751.5L1652 751.7L1654 751.8L1656 752L1658 752.2L1660 752.4L1662 752.7L1664 753.1L1666 753.5L1668 753.7L1670 753.8L1672 753.8L1674 753.6L1676 753.4L1678 753L1680 752.5L1682 752L1684 751.5L1686 751L1688 750.5L1690 750.4L1692 750.5L1694 750.9L1696 751.3L1698 751.9L1700 752.6L1702 753.4L1704 754.2L1706 755L1708 755.9L1710 756.8L1712 757.7L1714 758.5L1716 759.4L1718 760.2L1720 761L1722 761.7L1724 762.4L1726 763L1728 763.6L1730 764.1L1732 764.5L1734 765L1736 765.4L1738 765.7L1740 766L1742 766.2L1744 766.4L1746 766.6L1748 766.6L1750 766.6L1752 766.6L1752.6 766.6" fill="none" stroke="#48f52a" stroke-width="4.6" stroke-linejoin="round" stroke-linecap="butt"/>
</g>
<path d="M209.1 461.5V454.5M209.1 35.3V42.3M276.8 461.5V454.5M276.8 35.3V42.3M344.4 461.5V454.5M344.4 35.3V42.3M412.1 461.5V454.5M412.1 35.3V42.3M479.7 461.5V454.5M479.7 35.3V42.3M547.4 461.5V454.5M547.4 35.3V42.3M615 461.5V454.5M615 35.3V42.3M682.7 461.5V454.5M682.7 35.3V42.3M141.5 328.3H148.5M750.3 328.3H743.3M141.5 195.1H148.5M750.3 195.1H743.3M141.5 61.9H148.5M750.3 61.9H743.3" stroke="#1f1f1f" stroke-width="2.5" fill="none"/>
<rect x="141.5" y="35.3" width="608.8" height="426.2" fill="none" stroke="#1f1f1f" stroke-width="2.6"/>
<path d="M209.2 992.8V985.8M209.2 568.2V575.2M276.9 992.8V985.8M276.9 568.2V575.2M344.5 992.8V985.8M344.5 568.2V575.2M412.1 992.8V985.8M412.1 568.2V575.2M479.8 992.8V985.8M479.8 568.2V575.2M547.4 992.8V985.8M547.4 568.2V575.2M615 992.8V985.8M615 568.2V575.2M682.7 992.8V985.8M682.7 568.2V575.2M141.6 886.6H148.6M750.3 886.6H743.3M141.6 780.5H148.6M750.3 780.5H743.3M141.6 674.4H148.6M750.3 674.4H743.3" stroke="#1f1f1f" stroke-width="2.5" fill="none"/>
<rect x="141.6" y="568.2" width="608.7" height="424.6" fill="none" stroke="#1f1f1f" stroke-width="2.6"/>
<path d="M1211.6 461.5V454.5M1211.6 36.6V43.6M1279.3 461.5V454.5M1279.3 36.6V43.6M1346.9 461.5V454.5M1346.9 36.6V43.6M1414.5 461.5V454.5M1414.5 36.6V43.6M1482.2 461.5V454.5M1482.2 36.6V43.6M1549.8 461.5V454.5M1549.8 36.6V43.6M1617.4 461.5V454.5M1617.4 36.6V43.6M1685.1 461.5V454.5M1685.1 36.6V43.6M1144 328.7H1151M1752.7 328.7H1745.7M1144 195.9H1151M1752.7 195.9H1745.7M1144 63.2H1151M1752.7 63.2H1745.7" stroke="#1f1f1f" stroke-width="2.5" fill="none"/>
<rect x="1144" y="36.6" width="608.7" height="424.9" fill="none" stroke="#1f1f1f" stroke-width="2.6"/>
<path d="M1211.6 994.2V987.2M1211.6 568.1V575.1M1279.2 994.2V987.2M1279.2 568.1V575.1M1346.9 994.2V987.2M1346.9 568.1V575.1M1414.5 994.2V987.2M1414.5 568.1V575.1M1482.1 994.2V987.2M1482.1 568.1V575.1M1549.7 994.2V987.2M1549.7 568.1V575.1M1617.4 994.2V987.2M1617.4 568.1V575.1M1685 994.2V987.2M1685 568.1V575.1M1144 887.7H1151M1752.6 887.7H1745.6M1144 781.1H1151M1752.6 781.1H1745.6M1144 674.6H1151M1752.6 674.6H1745.6" stroke="#1f1f1f" stroke-width="2.5" fill="none"/>
<rect x="1144" y="568.1" width="608.6" height="426.1" fill="none" stroke="#1f1f1f" stroke-width="2.6"/>
<text x="132" y="470.5" font-size="23" fill="#1f1f1f" class="t" text-anchor="end">500</text>
<text x="132" y="337.3" font-size="23" fill="#1f1f1f" class="t" text-anchor="end">750</text>
<text x="132" y="204.1" font-size="23" fill="#1f1f1f" class="t" text-anchor="end">1000</text>
<text x="132" y="70.9" font-size="23" fill="#1f1f1f" class="t" text-anchor="end">1250</text>
<text x="132.1" y="1001.8" font-size="23" fill="#1f1f1f" class="t" text-anchor="end">0.3</text>
<text x="132.1" y="895.6" font-size="23" fill="#1f1f1f" class="t" text-anchor="end">0.4</text>
<text x="132.1" y="789.5" font-size="23" fill="#1f1f1f" class="t" text-anchor="end">0.5</text>
<text x="132.1" y="683.4" font-size="23" fill="#1f1f1f" class="t" text-anchor="end">0.6</text>
<text x="132.1" y="577.2" font-size="23" fill="#1f1f1f" class="t" text-anchor="end">0.7</text>
<text x="141.6" y="1024.3" font-size="23" fill="#1f1f1f" class="t" text-anchor="middle">20</text>
<text x="209.2" y="1024.3" font-size="23" fill="#1f1f1f" class="t" text-anchor="middle">40</text>
<text x="276.9" y="1024.3" font-size="23" fill="#1f1f1f" class="t" text-anchor="middle">60</text>
<text x="344.5" y="1024.3" font-size="23" fill="#1f1f1f" class="t" text-anchor="middle">80</text>
<text x="412.1" y="1024.3" font-size="23" fill="#1f1f1f" class="t" text-anchor="middle">100</text>
<text x="479.8" y="1024.3" font-size="23" fill="#1f1f1f" class="t" text-anchor="middle">120</text>
<text x="547.4" y="1024.3" font-size="23" fill="#1f1f1f" class="t" text-anchor="middle">140</text>
<text x="615" y="1024.3" font-size="23" fill="#1f1f1f" class="t" text-anchor="middle">160</text>
<text x="682.7" y="1024.3" font-size="23" fill="#1f1f1f" class="t" text-anchor="middle">180</text>
<text x="750.3" y="1024.3" font-size="23" fill="#1f1f1f" class="t" text-anchor="middle">200</text>
<text x="1134.5" y="470.5" font-size="23" fill="#1f1f1f" class="t" text-anchor="end">500</text>
<text x="1134.5" y="337.7" font-size="23" fill="#1f1f1f" class="t" text-anchor="end">750</text>
<text x="1134.5" y="204.9" font-size="23" fill="#1f1f1f" class="t" text-anchor="end">1000</text>
<text x="1134.5" y="72.2" font-size="23" fill="#1f1f1f" class="t" text-anchor="end">1250</text>
<text x="1134.5" y="1003.2" font-size="23" fill="#1f1f1f" class="t" text-anchor="end">0.3</text>
<text x="1134.5" y="896.7" font-size="23" fill="#1f1f1f" class="t" text-anchor="end">0.4</text>
<text x="1134.5" y="790.1" font-size="23" fill="#1f1f1f" class="t" text-anchor="end">0.5</text>
<text x="1134.5" y="683.6" font-size="23" fill="#1f1f1f" class="t" text-anchor="end">0.6</text>
<text x="1134.5" y="577.1" font-size="23" fill="#1f1f1f" class="t" text-anchor="end">0.7</text>
<text x="1144" y="1025.7" font-size="23" fill="#1f1f1f" class="t" text-anchor="middle">20</text>
<text x="1211.6" y="1025.7" font-size="23" fill="#1f1f1f" class="t" text-anchor="middle">40</text>
<text x="1279.2" y="1025.7" font-size="23" fill="#1f1f1f" class="t" text-anchor="middle">60</text>
<text x="1346.9" y="1025.7" font-size="23" fill="#1f1f1f" class="t" text-anchor="middle">80</text>
<text x="1414.5" y="1025.7" font-size="23" fill="#1f1f1f" class="t" text-anchor="middle">100</text>
<text x="1482.1" y="1025.7" font-size="23" fill="#1f1f1f" class="t" text-anchor="middle">120</text>
<text x="1549.7" y="1025.7" font-size="23" fill="#1f1f1f" class="t" text-anchor="middle">140</text>
<text x="1617.4" y="1025.7" font-size="23" fill="#1f1f1f" class="t" text-anchor="middle">160</text>
<text x="1685" y="1025.7" font-size="23" fill="#1f1f1f" class="t" text-anchor="middle">180</text>
<text x="1752.6" y="1025.7" font-size="23" fill="#1f1f1f" class="t" text-anchor="middle">200</text>
<text transform="translate(0.3 47.1) scale(0.955 1.035)" font-size="49" fill="#000" stroke="#000" stroke-width="0.7">A</text>
<text transform="translate(-2 547.4) scale(1.0 1.035)" font-size="49" fill="#000" stroke="#000" stroke-width="0.7">B</text>
<text transform="translate(976 36.6) scale(1.0 1.035)" font-size="49" fill="#000" stroke="#000" stroke-width="0.7">C</text>
<text transform="translate(976 546.1) scale(1.0 1.035)" font-size="49" fill="#000" stroke="#000" stroke-width="0.7">D</text>
<path d="M161.9 74.3H271.9" stroke="#000" stroke-width="5"/>
<path d="M161.9 118.6H271.9" stroke="#ee1106" stroke-width="5"/>
<text x="285.2" y="85" font-size="28" fill="#000" stroke="#000" stroke-width="0.35">Constant [succinate] control</text>
<text x="285.2" y="132.2" font-size="28" fill="#000" stroke="#000" stroke-width="0.35">Decreasing [succinate]</text>
<path d="M1168.3 74.3H1278.3" stroke="#000" stroke-width="5"/>
<path d="M1168.3 118.6H1278.3" stroke="#48f52a" stroke-width="5"/>
<text x="1291.7" y="85" font-size="28" fill="#000" stroke="#000" stroke-width="0.35">Constant [succinate] control</text>
<text x="1291.7" y="132.2" font-size="28" fill="#000" stroke="#000" stroke-width="0.35">Increasing [succinate]</text>
<text transform="translate(30.9 255) rotate(-90)" font-size="28" fill="#1f1f1f" class="t" text-anchor="middle">Number of trajectories</text>
<text transform="translate(64.5 255) rotate(-90)" font-size="28" fill="#1f1f1f" class="t" text-anchor="middle">(in each field of view)</text>
<text transform="translate(1023.5 255.2) rotate(-90)" font-size="28" fill="#1f1f1f" class="t" text-anchor="middle">Number of trajectories</text>
<text transform="translate(1057.1 255.2) rotate(-90)" font-size="28" fill="#1f1f1f" class="t" text-anchor="middle">(in each field of view)</text>
<text transform="translate(64.5 776.2) rotate(-90)" font-size="28" fill="#1f1f1f" class="t" text-anchor="middle">Mean cell speed (<tspan font-style="italic">&#956;</tspan>m min<tspan font-size="16.5" dy="-9.5">-1</tspan><tspan dy="9.5">)</tspan></text>
<text transform="translate(1056.5 777.8) rotate(-90)" font-size="28" fill="#1f1f1f" class="t" text-anchor="middle">Mean cell speed (<tspan font-style="italic">&#956;</tspan>m min<tspan font-size="16.5" dy="-9.5">-1</tspan><tspan dy="9.5">)</tspan></text>
<text x="429.8" y="1067.9" font-size="28" fill="#1f1f1f" class="t" text-anchor="middle"><tspan font-style="italic">t</tspan> (min)</text>
<text x="1429.5" y="1067.9" font-size="28" fill="#1f1f1f" class="t" text-anchor="middle"><tspan font-style="italic">t</tspan> (min)</text>
</svg></body></html>
